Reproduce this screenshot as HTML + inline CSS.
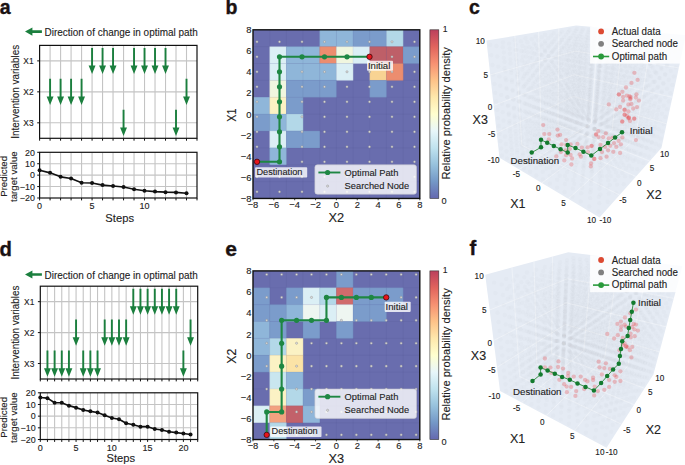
<!DOCTYPE html>
<html><head><meta charset="utf-8"><style>
html,body{margin:0;padding:0;background:#fff;}
svg{display:block;font-family:"Liberation Sans", sans-serif;}
text{stroke:#222;stroke-width:0.12px;}
.lat circle{fill:#8a8f99;fill-opacity:0.028;}
</style></head><body>
<svg width="685" height="465" viewBox="0 0 685 465" fill="#222">
<rect width="685" height="465" fill="#fff"/>
<defs><linearGradient id="cb" x1="0" y1="1" x2="0" y2="0">
<stop offset="0.0" stop-color="#313695" stop-opacity="0.75"/>
<stop offset="0.1" stop-color="#4575b4" stop-opacity="0.75"/>
<stop offset="0.2" stop-color="#74add1" stop-opacity="0.75"/>
<stop offset="0.3" stop-color="#abd9e9" stop-opacity="0.75"/>
<stop offset="0.4" stop-color="#e0f3f8" stop-opacity="0.75"/>
<stop offset="0.5" stop-color="#ffffbf" stop-opacity="0.75"/>
<stop offset="0.6" stop-color="#fee090" stop-opacity="0.75"/>
<stop offset="0.7" stop-color="#fdae61" stop-opacity="0.75"/>
<stop offset="0.8" stop-color="#f46d43" stop-opacity="0.75"/>
<stop offset="0.9" stop-color="#d73027" stop-opacity="0.75"/>
<stop offset="1.0" stop-color="#a50026" stop-opacity="0.75"/>
</linearGradient></defs>
<text x="-0.3" y="13.8" font-size="19.5" text-anchor="start" font-weight="bold" fill="#1a1212" style="stroke:#1a1212;stroke-width:0.35px">a</text>
<text x="225.5" y="13.8" font-size="19.5" text-anchor="start" font-weight="bold" fill="#1a1212" style="stroke:#1a1212;stroke-width:0.35px">b</text>
<text x="469" y="13.8" font-size="19.5" text-anchor="start" font-weight="bold" fill="#1a1212" style="stroke:#1a1212;stroke-width:0.35px">c</text>
<text x="-0.5" y="255.5" font-size="20.3" text-anchor="start" font-weight="bold" fill="#1a1212" style="stroke:#1a1212;stroke-width:0.35px">d</text>
<text x="225.3" y="255.6" font-size="21.0" text-anchor="start" font-weight="bold" fill="#1a1212" style="stroke:#1a1212;stroke-width:0.35px">e</text>
<text x="469.6" y="255.3" font-size="20.3" text-anchor="start" font-weight="bold" fill="#1a1212" style="stroke:#1a1212;stroke-width:0.35px">f</text>
<polygon points="25,31.6 32.4,27.5 32.4,30.3 41.9,30.3 41.9,32.9 32.4,32.9 32.4,35.7" fill="#1b7f3e"/>
<text x="44.6" y="36" font-size="10.9" text-anchor="start" textLength="153.23" lengthAdjust="spacingAndGlyphs">Direction of change in optimal path</text>
<line x1="50.09" y1="45.4" x2="50.09" y2="138.3" stroke="#c4c4c4" stroke-width="1.1"/>
<line x1="60.59" y1="45.4" x2="60.59" y2="138.3" stroke="#c4c4c4" stroke-width="1.1"/>
<line x1="71.08" y1="45.4" x2="71.08" y2="138.3" stroke="#c4c4c4" stroke-width="1.1"/>
<line x1="81.57" y1="45.4" x2="81.57" y2="138.3" stroke="#c4c4c4" stroke-width="1.1"/>
<line x1="92.07" y1="45.4" x2="92.07" y2="138.3" stroke="#c4c4c4" stroke-width="1.1"/>
<line x1="102.56" y1="45.4" x2="102.56" y2="138.3" stroke="#c4c4c4" stroke-width="1.1"/>
<line x1="113.05" y1="45.4" x2="113.05" y2="138.3" stroke="#c4c4c4" stroke-width="1.1"/>
<line x1="123.55" y1="45.4" x2="123.55" y2="138.3" stroke="#c4c4c4" stroke-width="1.1"/>
<line x1="134.04" y1="45.4" x2="134.04" y2="138.3" stroke="#c4c4c4" stroke-width="1.1"/>
<line x1="144.53" y1="45.4" x2="144.53" y2="138.3" stroke="#c4c4c4" stroke-width="1.1"/>
<line x1="155.03" y1="45.4" x2="155.03" y2="138.3" stroke="#c4c4c4" stroke-width="1.1"/>
<line x1="165.52" y1="45.4" x2="165.52" y2="138.3" stroke="#c4c4c4" stroke-width="1.1"/>
<line x1="176.01" y1="45.4" x2="176.01" y2="138.3" stroke="#c4c4c4" stroke-width="1.1"/>
<line x1="186.51" y1="45.4" x2="186.51" y2="138.3" stroke="#c4c4c4" stroke-width="1.1"/>
<line x1="39.6" y1="60.88" x2="197" y2="60.88" stroke="#c4c4c4" stroke-width="1.1"/>
<line x1="39.6" y1="91.85" x2="197" y2="91.85" stroke="#c4c4c4" stroke-width="1.1"/>
<line x1="39.6" y1="122.82" x2="197" y2="122.82" stroke="#c4c4c4" stroke-width="1.1"/>
<polygon points="91.12,47.88 93.02,47.88 93.02,65.48 95.52,65.48 92.07,74.08 88.62,65.48 91.12,65.48" fill="#1b7f3e"/>
<polygon points="101.61,47.88 103.51,47.88 103.51,65.48 106.01,65.48 102.56,74.08 99.11,65.48 101.61,65.48" fill="#1b7f3e"/>
<polygon points="112.1,47.88 114,47.88 114,65.48 116.5,65.48 113.05,74.08 109.6,65.48 112.1,65.48" fill="#1b7f3e"/>
<polygon points="133.09,47.88 134.99,47.88 134.99,65.48 137.49,65.48 134.04,74.08 130.59,65.48 133.09,65.48" fill="#1b7f3e"/>
<polygon points="143.58,47.88 145.48,47.88 145.48,65.48 147.98,65.48 144.53,74.08 141.08,65.48 143.58,65.48" fill="#1b7f3e"/>
<polygon points="154.08,47.88 155.98,47.88 155.98,65.48 158.48,65.48 155.03,74.08 151.58,65.48 154.08,65.48" fill="#1b7f3e"/>
<polygon points="164.57,47.88 166.47,47.88 166.47,65.48 168.97,65.48 165.52,74.08 162.07,65.48 164.57,65.48" fill="#1b7f3e"/>
<polygon points="49.14,78.85 51.04,78.85 51.04,96.45 53.54,96.45 50.09,105.05 46.64,96.45 49.14,96.45" fill="#1b7f3e"/>
<polygon points="59.64,78.85 61.54,78.85 61.54,96.45 64.04,96.45 60.59,105.05 57.14,96.45 59.64,96.45" fill="#1b7f3e"/>
<polygon points="70.13,78.85 72.03,78.85 72.03,96.45 74.53,96.45 71.08,105.05 67.63,96.45 70.13,96.45" fill="#1b7f3e"/>
<polygon points="80.62,78.85 82.52,78.85 82.52,96.45 85.02,96.45 81.57,105.05 78.12,96.45 80.62,96.45" fill="#1b7f3e"/>
<polygon points="185.56,78.85 187.46,78.85 187.46,96.45 189.96,96.45 186.51,105.05 183.06,96.45 185.56,96.45" fill="#1b7f3e"/>
<polygon points="122.6,109.82 124.5,109.82 124.5,127.42 127,127.42 123.55,136.02 120.1,127.42 122.6,127.42" fill="#1b7f3e"/>
<polygon points="175.06,109.82 176.96,109.82 176.96,127.42 179.46,127.42 176.01,136.02 172.56,127.42 175.06,127.42" fill="#1b7f3e"/>
<rect x="39.6" y="45.4" width="157.4" height="92.9" fill="none" stroke="#111" stroke-width="1.2"/>
<line x1="37.2" y1="60.88" x2="39.6" y2="60.88" stroke="#111" stroke-width="1"/>
<line x1="37.2" y1="91.85" x2="39.6" y2="91.85" stroke="#111" stroke-width="1"/>
<line x1="37.2" y1="122.82" x2="39.6" y2="122.82" stroke="#111" stroke-width="1"/>
<line x1="39.6" y1="138.3" x2="39.6" y2="140.7" stroke="#111" stroke-width="1"/>
<line x1="50.09" y1="138.3" x2="50.09" y2="140.7" stroke="#111" stroke-width="1"/>
<line x1="60.59" y1="138.3" x2="60.59" y2="140.7" stroke="#111" stroke-width="1"/>
<line x1="71.08" y1="138.3" x2="71.08" y2="140.7" stroke="#111" stroke-width="1"/>
<line x1="81.57" y1="138.3" x2="81.57" y2="140.7" stroke="#111" stroke-width="1"/>
<line x1="92.07" y1="138.3" x2="92.07" y2="140.7" stroke="#111" stroke-width="1"/>
<line x1="102.56" y1="138.3" x2="102.56" y2="140.7" stroke="#111" stroke-width="1"/>
<line x1="113.05" y1="138.3" x2="113.05" y2="140.7" stroke="#111" stroke-width="1"/>
<line x1="123.55" y1="138.3" x2="123.55" y2="140.7" stroke="#111" stroke-width="1"/>
<line x1="134.04" y1="138.3" x2="134.04" y2="140.7" stroke="#111" stroke-width="1"/>
<line x1="144.53" y1="138.3" x2="144.53" y2="140.7" stroke="#111" stroke-width="1"/>
<line x1="155.03" y1="138.3" x2="155.03" y2="140.7" stroke="#111" stroke-width="1"/>
<line x1="165.52" y1="138.3" x2="165.52" y2="140.7" stroke="#111" stroke-width="1"/>
<line x1="176.01" y1="138.3" x2="176.01" y2="140.7" stroke="#111" stroke-width="1"/>
<line x1="186.51" y1="138.3" x2="186.51" y2="140.7" stroke="#111" stroke-width="1"/>
<line x1="197" y1="138.3" x2="197" y2="140.7" stroke="#111" stroke-width="1"/>
<text x="33.6" y="63.98" font-size="9.3" text-anchor="end" textLength="10.24" lengthAdjust="spacingAndGlyphs">X1</text>
<text x="33.6" y="94.95" font-size="9.3" text-anchor="end" textLength="10.24" lengthAdjust="spacingAndGlyphs">X2</text>
<text x="33.6" y="125.92" font-size="9.3" text-anchor="end" textLength="10.24" lengthAdjust="spacingAndGlyphs">X3</text>
<text x="19" y="91.85" font-size="10.4" text-anchor="middle" textLength="93.91" lengthAdjust="spacingAndGlyphs" transform="rotate(-90 19 91.85)">Intervention variables</text>
<line x1="50.09" y1="152.3" x2="50.09" y2="198" stroke="#c4c4c4" stroke-width="1.1"/>
<line x1="60.59" y1="152.3" x2="60.59" y2="198" stroke="#c4c4c4" stroke-width="1.1"/>
<line x1="71.08" y1="152.3" x2="71.08" y2="198" stroke="#c4c4c4" stroke-width="1.1"/>
<line x1="81.57" y1="152.3" x2="81.57" y2="198" stroke="#c4c4c4" stroke-width="1.1"/>
<line x1="92.07" y1="152.3" x2="92.07" y2="198" stroke="#c4c4c4" stroke-width="1.1"/>
<line x1="102.56" y1="152.3" x2="102.56" y2="198" stroke="#c4c4c4" stroke-width="1.1"/>
<line x1="113.05" y1="152.3" x2="113.05" y2="198" stroke="#c4c4c4" stroke-width="1.1"/>
<line x1="123.55" y1="152.3" x2="123.55" y2="198" stroke="#c4c4c4" stroke-width="1.1"/>
<line x1="134.04" y1="152.3" x2="134.04" y2="198" stroke="#c4c4c4" stroke-width="1.1"/>
<line x1="144.53" y1="152.3" x2="144.53" y2="198" stroke="#c4c4c4" stroke-width="1.1"/>
<line x1="155.03" y1="152.3" x2="155.03" y2="198" stroke="#c4c4c4" stroke-width="1.1"/>
<line x1="165.52" y1="152.3" x2="165.52" y2="198" stroke="#c4c4c4" stroke-width="1.1"/>
<line x1="176.01" y1="152.3" x2="176.01" y2="198" stroke="#c4c4c4" stroke-width="1.1"/>
<line x1="186.51" y1="152.3" x2="186.51" y2="198" stroke="#c4c4c4" stroke-width="1.1"/>
<line x1="39.6" y1="163.73" x2="197" y2="163.73" stroke="#c4c4c4" stroke-width="1.1"/>
<line x1="39.6" y1="175.15" x2="197" y2="175.15" stroke="#c4c4c4" stroke-width="1.1"/>
<line x1="39.6" y1="186.57" x2="197" y2="186.57" stroke="#c4c4c4" stroke-width="1.1"/>
<polyline points="39.6,170.24 50.09,172.87 60.59,176.86 71.08,178.58 81.57,182.69 92.07,183.03 102.56,185.09 113.05,186 123.55,187.03 134.04,189.32 144.53,190.69 155.03,191.6 165.52,192.17 176.01,192.4 186.51,193.2" fill="none" stroke="#111" stroke-width="1.6" stroke-linejoin="round"/>
<circle cx="39.6" cy="170.24" r="2" fill="#111"/>
<circle cx="50.09" cy="172.87" r="2" fill="#111"/>
<circle cx="60.59" cy="176.86" r="2" fill="#111"/>
<circle cx="71.08" cy="178.58" r="2" fill="#111"/>
<circle cx="81.57" cy="182.69" r="2" fill="#111"/>
<circle cx="92.07" cy="183.03" r="2" fill="#111"/>
<circle cx="102.56" cy="185.09" r="2" fill="#111"/>
<circle cx="113.05" cy="186" r="2" fill="#111"/>
<circle cx="123.55" cy="187.03" r="2" fill="#111"/>
<circle cx="134.04" cy="189.32" r="2" fill="#111"/>
<circle cx="144.53" cy="190.69" r="2" fill="#111"/>
<circle cx="155.03" cy="191.6" r="2" fill="#111"/>
<circle cx="165.52" cy="192.17" r="2" fill="#111"/>
<circle cx="176.01" cy="192.4" r="2" fill="#111"/>
<circle cx="186.51" cy="193.2" r="2" fill="#111"/>
<rect x="39.6" y="152.3" width="157.4" height="45.7" fill="none" stroke="#111" stroke-width="1.2"/>
<line x1="37.2" y1="152.3" x2="39.6" y2="152.3" stroke="#111" stroke-width="1"/>
<text x="34.9" y="155.6" font-size="8.9" text-anchor="end">20</text>
<line x1="37.2" y1="163.73" x2="39.6" y2="163.73" stroke="#111" stroke-width="1"/>
<text x="34.9" y="167.03" font-size="8.9" text-anchor="end">10</text>
<line x1="37.2" y1="175.15" x2="39.6" y2="175.15" stroke="#111" stroke-width="1"/>
<text x="34.9" y="178.45" font-size="8.9" text-anchor="end">0</text>
<line x1="37.2" y1="186.57" x2="39.6" y2="186.57" stroke="#111" stroke-width="1"/>
<text x="34.9" y="189.88" font-size="8.9" text-anchor="end">−10</text>
<line x1="37.2" y1="198" x2="39.6" y2="198" stroke="#111" stroke-width="1"/>
<text x="34.9" y="201.3" font-size="8.9" text-anchor="end">−20</text>
<line x1="39.6" y1="198" x2="39.6" y2="200.4" stroke="#111" stroke-width="1"/>
<line x1="50.09" y1="198" x2="50.09" y2="200.4" stroke="#111" stroke-width="1"/>
<line x1="60.59" y1="198" x2="60.59" y2="200.4" stroke="#111" stroke-width="1"/>
<line x1="71.08" y1="198" x2="71.08" y2="200.4" stroke="#111" stroke-width="1"/>
<line x1="81.57" y1="198" x2="81.57" y2="200.4" stroke="#111" stroke-width="1"/>
<line x1="92.07" y1="198" x2="92.07" y2="200.4" stroke="#111" stroke-width="1"/>
<line x1="102.56" y1="198" x2="102.56" y2="200.4" stroke="#111" stroke-width="1"/>
<line x1="113.05" y1="198" x2="113.05" y2="200.4" stroke="#111" stroke-width="1"/>
<line x1="123.55" y1="198" x2="123.55" y2="200.4" stroke="#111" stroke-width="1"/>
<line x1="134.04" y1="198" x2="134.04" y2="200.4" stroke="#111" stroke-width="1"/>
<line x1="144.53" y1="198" x2="144.53" y2="200.4" stroke="#111" stroke-width="1"/>
<line x1="155.03" y1="198" x2="155.03" y2="200.4" stroke="#111" stroke-width="1"/>
<line x1="165.52" y1="198" x2="165.52" y2="200.4" stroke="#111" stroke-width="1"/>
<line x1="176.01" y1="198" x2="176.01" y2="200.4" stroke="#111" stroke-width="1"/>
<line x1="186.51" y1="198" x2="186.51" y2="200.4" stroke="#111" stroke-width="1"/>
<line x1="197" y1="198" x2="197" y2="200.4" stroke="#111" stroke-width="1"/>
<text x="39.6" y="208.6" font-size="9.0" text-anchor="middle">0</text>
<text x="92.07" y="208.6" font-size="9.0" text-anchor="middle">5</text>
<text x="144.53" y="208.6" font-size="9.0" text-anchor="middle">10</text>
<text x="119.7" y="222" font-size="11.8" text-anchor="middle" textLength="28.66" lengthAdjust="spacingAndGlyphs">Steps</text>
<text x="7.2" y="176.35" font-size="9.7" text-anchor="middle" transform="rotate(-90 7.2 176.35)">Predicted</text>
<text x="17" y="176.65" font-size="9.7" text-anchor="middle" transform="rotate(-90 17 176.65)">target value</text>
<polygon points="25,274.5 32.4,270.4 32.4,273.2 41.9,273.2 41.9,275.8 32.4,275.8 32.4,278.6" fill="#1b7f3e"/>
<text x="44.6" y="278.9" font-size="10.9" text-anchor="start" textLength="153.23" lengthAdjust="spacingAndGlyphs">Direction of change in optimal path</text>
<line x1="47.45" y1="286.2" x2="47.45" y2="379" stroke="#c4c4c4" stroke-width="1.1"/>
<line x1="54.61" y1="286.2" x2="54.61" y2="379" stroke="#c4c4c4" stroke-width="1.1"/>
<line x1="61.76" y1="286.2" x2="61.76" y2="379" stroke="#c4c4c4" stroke-width="1.1"/>
<line x1="68.92" y1="286.2" x2="68.92" y2="379" stroke="#c4c4c4" stroke-width="1.1"/>
<line x1="76.07" y1="286.2" x2="76.07" y2="379" stroke="#c4c4c4" stroke-width="1.1"/>
<line x1="83.23" y1="286.2" x2="83.23" y2="379" stroke="#c4c4c4" stroke-width="1.1"/>
<line x1="90.38" y1="286.2" x2="90.38" y2="379" stroke="#c4c4c4" stroke-width="1.1"/>
<line x1="97.54" y1="286.2" x2="97.54" y2="379" stroke="#c4c4c4" stroke-width="1.1"/>
<line x1="104.69" y1="286.2" x2="104.69" y2="379" stroke="#c4c4c4" stroke-width="1.1"/>
<line x1="111.85" y1="286.2" x2="111.85" y2="379" stroke="#c4c4c4" stroke-width="1.1"/>
<line x1="119" y1="286.2" x2="119" y2="379" stroke="#c4c4c4" stroke-width="1.1"/>
<line x1="126.15" y1="286.2" x2="126.15" y2="379" stroke="#c4c4c4" stroke-width="1.1"/>
<line x1="133.31" y1="286.2" x2="133.31" y2="379" stroke="#c4c4c4" stroke-width="1.1"/>
<line x1="140.46" y1="286.2" x2="140.46" y2="379" stroke="#c4c4c4" stroke-width="1.1"/>
<line x1="147.62" y1="286.2" x2="147.62" y2="379" stroke="#c4c4c4" stroke-width="1.1"/>
<line x1="154.77" y1="286.2" x2="154.77" y2="379" stroke="#c4c4c4" stroke-width="1.1"/>
<line x1="161.93" y1="286.2" x2="161.93" y2="379" stroke="#c4c4c4" stroke-width="1.1"/>
<line x1="169.08" y1="286.2" x2="169.08" y2="379" stroke="#c4c4c4" stroke-width="1.1"/>
<line x1="176.24" y1="286.2" x2="176.24" y2="379" stroke="#c4c4c4" stroke-width="1.1"/>
<line x1="183.39" y1="286.2" x2="183.39" y2="379" stroke="#c4c4c4" stroke-width="1.1"/>
<line x1="190.55" y1="286.2" x2="190.55" y2="379" stroke="#c4c4c4" stroke-width="1.1"/>
<line x1="40.3" y1="301.67" x2="197.7" y2="301.67" stroke="#c4c4c4" stroke-width="1.1"/>
<line x1="40.3" y1="332.6" x2="197.7" y2="332.6" stroke="#c4c4c4" stroke-width="1.1"/>
<line x1="40.3" y1="363.53" x2="197.7" y2="363.53" stroke="#c4c4c4" stroke-width="1.1"/>
<polygon points="132.36,288.67 134.26,288.67 134.26,306.27 136.76,306.27 133.31,314.87 129.86,306.27 132.36,306.27" fill="#1b7f3e"/>
<polygon points="139.51,288.67 141.41,288.67 141.41,306.27 143.91,306.27 140.46,314.87 137.01,306.27 139.51,306.27" fill="#1b7f3e"/>
<polygon points="146.67,288.67 148.57,288.67 148.57,306.27 151.07,306.27 147.62,314.87 144.17,306.27 146.67,306.27" fill="#1b7f3e"/>
<polygon points="153.82,288.67 155.72,288.67 155.72,306.27 158.22,306.27 154.77,314.87 151.32,306.27 153.82,306.27" fill="#1b7f3e"/>
<polygon points="160.98,288.67 162.88,288.67 162.88,306.27 165.38,306.27 161.93,314.87 158.48,306.27 160.98,306.27" fill="#1b7f3e"/>
<polygon points="168.13,288.67 170.03,288.67 170.03,306.27 172.53,306.27 169.08,314.87 165.63,306.27 168.13,306.27" fill="#1b7f3e"/>
<polygon points="175.29,288.67 177.19,288.67 177.19,306.27 179.69,306.27 176.24,314.87 172.79,306.27 175.29,306.27" fill="#1b7f3e"/>
<polygon points="75.12,319.6 77.02,319.6 77.02,337.2 79.52,337.2 76.07,345.8 72.62,337.2 75.12,337.2" fill="#1b7f3e"/>
<polygon points="103.74,319.6 105.64,319.6 105.64,337.2 108.14,337.2 104.69,345.8 101.24,337.2 103.74,337.2" fill="#1b7f3e"/>
<polygon points="110.9,319.6 112.8,319.6 112.8,337.2 115.3,337.2 111.85,345.8 108.4,337.2 110.9,337.2" fill="#1b7f3e"/>
<polygon points="118.05,319.6 119.95,319.6 119.95,337.2 122.45,337.2 119,345.8 115.55,337.2 118.05,337.2" fill="#1b7f3e"/>
<polygon points="125.2,319.6 127.1,319.6 127.1,337.2 129.6,337.2 126.15,345.8 122.7,337.2 125.2,337.2" fill="#1b7f3e"/>
<polygon points="189.6,319.6 191.5,319.6 191.5,337.2 194,337.2 190.55,345.8 187.1,337.2 189.6,337.2" fill="#1b7f3e"/>
<polygon points="46.5,350.53 48.4,350.53 48.4,368.13 50.9,368.13 47.45,376.73 44,368.13 46.5,368.13" fill="#1b7f3e"/>
<polygon points="53.66,350.53 55.56,350.53 55.56,368.13 58.06,368.13 54.61,376.73 51.16,368.13 53.66,368.13" fill="#1b7f3e"/>
<polygon points="60.81,350.53 62.71,350.53 62.71,368.13 65.21,368.13 61.76,376.73 58.31,368.13 60.81,368.13" fill="#1b7f3e"/>
<polygon points="67.97,350.53 69.87,350.53 69.87,368.13 72.37,368.13 68.92,376.73 65.47,368.13 67.97,368.13" fill="#1b7f3e"/>
<polygon points="82.28,350.53 84.18,350.53 84.18,368.13 86.68,368.13 83.23,376.73 79.78,368.13 82.28,368.13" fill="#1b7f3e"/>
<polygon points="89.43,350.53 91.33,350.53 91.33,368.13 93.83,368.13 90.38,376.73 86.93,368.13 89.43,368.13" fill="#1b7f3e"/>
<polygon points="96.59,350.53 98.49,350.53 98.49,368.13 100.99,368.13 97.54,376.73 94.09,368.13 96.59,368.13" fill="#1b7f3e"/>
<polygon points="182.44,350.53 184.34,350.53 184.34,368.13 186.84,368.13 183.39,376.73 179.94,368.13 182.44,368.13" fill="#1b7f3e"/>
<rect x="40.3" y="286.2" width="157.4" height="92.8" fill="none" stroke="#111" stroke-width="1.2"/>
<line x1="37.9" y1="301.67" x2="40.3" y2="301.67" stroke="#111" stroke-width="1"/>
<line x1="37.9" y1="332.6" x2="40.3" y2="332.6" stroke="#111" stroke-width="1"/>
<line x1="37.9" y1="363.53" x2="40.3" y2="363.53" stroke="#111" stroke-width="1"/>
<line x1="40.3" y1="379" x2="40.3" y2="381.4" stroke="#111" stroke-width="1"/>
<line x1="47.45" y1="379" x2="47.45" y2="381.4" stroke="#111" stroke-width="1"/>
<line x1="54.61" y1="379" x2="54.61" y2="381.4" stroke="#111" stroke-width="1"/>
<line x1="61.76" y1="379" x2="61.76" y2="381.4" stroke="#111" stroke-width="1"/>
<line x1="68.92" y1="379" x2="68.92" y2="381.4" stroke="#111" stroke-width="1"/>
<line x1="76.07" y1="379" x2="76.07" y2="381.4" stroke="#111" stroke-width="1"/>
<line x1="83.23" y1="379" x2="83.23" y2="381.4" stroke="#111" stroke-width="1"/>
<line x1="90.38" y1="379" x2="90.38" y2="381.4" stroke="#111" stroke-width="1"/>
<line x1="97.54" y1="379" x2="97.54" y2="381.4" stroke="#111" stroke-width="1"/>
<line x1="104.69" y1="379" x2="104.69" y2="381.4" stroke="#111" stroke-width="1"/>
<line x1="111.85" y1="379" x2="111.85" y2="381.4" stroke="#111" stroke-width="1"/>
<line x1="119" y1="379" x2="119" y2="381.4" stroke="#111" stroke-width="1"/>
<line x1="126.15" y1="379" x2="126.15" y2="381.4" stroke="#111" stroke-width="1"/>
<line x1="133.31" y1="379" x2="133.31" y2="381.4" stroke="#111" stroke-width="1"/>
<line x1="140.46" y1="379" x2="140.46" y2="381.4" stroke="#111" stroke-width="1"/>
<line x1="147.62" y1="379" x2="147.62" y2="381.4" stroke="#111" stroke-width="1"/>
<line x1="154.77" y1="379" x2="154.77" y2="381.4" stroke="#111" stroke-width="1"/>
<line x1="161.93" y1="379" x2="161.93" y2="381.4" stroke="#111" stroke-width="1"/>
<line x1="169.08" y1="379" x2="169.08" y2="381.4" stroke="#111" stroke-width="1"/>
<line x1="176.24" y1="379" x2="176.24" y2="381.4" stroke="#111" stroke-width="1"/>
<line x1="183.39" y1="379" x2="183.39" y2="381.4" stroke="#111" stroke-width="1"/>
<line x1="190.55" y1="379" x2="190.55" y2="381.4" stroke="#111" stroke-width="1"/>
<line x1="197.7" y1="379" x2="197.7" y2="381.4" stroke="#111" stroke-width="1"/>
<text x="34.3" y="304.77" font-size="9.3" text-anchor="end" textLength="10.24" lengthAdjust="spacingAndGlyphs">X1</text>
<text x="34.3" y="335.7" font-size="9.3" text-anchor="end" textLength="10.24" lengthAdjust="spacingAndGlyphs">X2</text>
<text x="34.3" y="366.63" font-size="9.3" text-anchor="end" textLength="10.24" lengthAdjust="spacingAndGlyphs">X3</text>
<text x="19" y="332.6" font-size="10.4" text-anchor="middle" textLength="93.91" lengthAdjust="spacingAndGlyphs" transform="rotate(-90 19 332.6)">Intervention variables</text>
<line x1="47.45" y1="392.8" x2="47.45" y2="439.5" stroke="#c4c4c4" stroke-width="1.1"/>
<line x1="54.61" y1="392.8" x2="54.61" y2="439.5" stroke="#c4c4c4" stroke-width="1.1"/>
<line x1="61.76" y1="392.8" x2="61.76" y2="439.5" stroke="#c4c4c4" stroke-width="1.1"/>
<line x1="68.92" y1="392.8" x2="68.92" y2="439.5" stroke="#c4c4c4" stroke-width="1.1"/>
<line x1="76.07" y1="392.8" x2="76.07" y2="439.5" stroke="#c4c4c4" stroke-width="1.1"/>
<line x1="83.23" y1="392.8" x2="83.23" y2="439.5" stroke="#c4c4c4" stroke-width="1.1"/>
<line x1="90.38" y1="392.8" x2="90.38" y2="439.5" stroke="#c4c4c4" stroke-width="1.1"/>
<line x1="97.54" y1="392.8" x2="97.54" y2="439.5" stroke="#c4c4c4" stroke-width="1.1"/>
<line x1="104.69" y1="392.8" x2="104.69" y2="439.5" stroke="#c4c4c4" stroke-width="1.1"/>
<line x1="111.85" y1="392.8" x2="111.85" y2="439.5" stroke="#c4c4c4" stroke-width="1.1"/>
<line x1="119" y1="392.8" x2="119" y2="439.5" stroke="#c4c4c4" stroke-width="1.1"/>
<line x1="126.15" y1="392.8" x2="126.15" y2="439.5" stroke="#c4c4c4" stroke-width="1.1"/>
<line x1="133.31" y1="392.8" x2="133.31" y2="439.5" stroke="#c4c4c4" stroke-width="1.1"/>
<line x1="140.46" y1="392.8" x2="140.46" y2="439.5" stroke="#c4c4c4" stroke-width="1.1"/>
<line x1="147.62" y1="392.8" x2="147.62" y2="439.5" stroke="#c4c4c4" stroke-width="1.1"/>
<line x1="154.77" y1="392.8" x2="154.77" y2="439.5" stroke="#c4c4c4" stroke-width="1.1"/>
<line x1="161.93" y1="392.8" x2="161.93" y2="439.5" stroke="#c4c4c4" stroke-width="1.1"/>
<line x1="169.08" y1="392.8" x2="169.08" y2="439.5" stroke="#c4c4c4" stroke-width="1.1"/>
<line x1="176.24" y1="392.8" x2="176.24" y2="439.5" stroke="#c4c4c4" stroke-width="1.1"/>
<line x1="183.39" y1="392.8" x2="183.39" y2="439.5" stroke="#c4c4c4" stroke-width="1.1"/>
<line x1="190.55" y1="392.8" x2="190.55" y2="439.5" stroke="#c4c4c4" stroke-width="1.1"/>
<line x1="40.3" y1="404.47" x2="197.7" y2="404.47" stroke="#c4c4c4" stroke-width="1.1"/>
<line x1="40.3" y1="416.15" x2="197.7" y2="416.15" stroke="#c4c4c4" stroke-width="1.1"/>
<line x1="40.3" y1="427.82" x2="197.7" y2="427.82" stroke="#c4c4c4" stroke-width="1.1"/>
<polyline points="40.3,397.47 47.45,398.17 54.61,402.72 61.76,402.72 68.92,405.64 76.07,407.63 83.23,410.08 90.38,411.36 97.54,412.53 104.69,415.16 111.85,418.02 119,419.3 126.15,423.27 133.31,424.79 140.46,426.66 147.62,426.66 154.77,428.99 161.93,429.93 169.08,431.68 176.24,432.61 183.39,433.55 190.55,434.48" fill="none" stroke="#111" stroke-width="1.6" stroke-linejoin="round"/>
<circle cx="40.3" cy="397.47" r="2" fill="#111"/>
<circle cx="47.45" cy="398.17" r="2" fill="#111"/>
<circle cx="54.61" cy="402.72" r="2" fill="#111"/>
<circle cx="61.76" cy="402.72" r="2" fill="#111"/>
<circle cx="68.92" cy="405.64" r="2" fill="#111"/>
<circle cx="76.07" cy="407.63" r="2" fill="#111"/>
<circle cx="83.23" cy="410.08" r="2" fill="#111"/>
<circle cx="90.38" cy="411.36" r="2" fill="#111"/>
<circle cx="97.54" cy="412.53" r="2" fill="#111"/>
<circle cx="104.69" cy="415.16" r="2" fill="#111"/>
<circle cx="111.85" cy="418.02" r="2" fill="#111"/>
<circle cx="119" cy="419.3" r="2" fill="#111"/>
<circle cx="126.15" cy="423.27" r="2" fill="#111"/>
<circle cx="133.31" cy="424.79" r="2" fill="#111"/>
<circle cx="140.46" cy="426.66" r="2" fill="#111"/>
<circle cx="147.62" cy="426.66" r="2" fill="#111"/>
<circle cx="154.77" cy="428.99" r="2" fill="#111"/>
<circle cx="161.93" cy="429.93" r="2" fill="#111"/>
<circle cx="169.08" cy="431.68" r="2" fill="#111"/>
<circle cx="176.24" cy="432.61" r="2" fill="#111"/>
<circle cx="183.39" cy="433.55" r="2" fill="#111"/>
<circle cx="190.55" cy="434.48" r="2" fill="#111"/>
<rect x="40.3" y="392.8" width="157.4" height="46.7" fill="none" stroke="#111" stroke-width="1.2"/>
<line x1="37.9" y1="392.8" x2="40.3" y2="392.8" stroke="#111" stroke-width="1"/>
<text x="35.6" y="396.1" font-size="8.9" text-anchor="end">20</text>
<line x1="37.9" y1="404.47" x2="40.3" y2="404.47" stroke="#111" stroke-width="1"/>
<text x="35.6" y="407.77" font-size="8.9" text-anchor="end">10</text>
<line x1="37.9" y1="416.15" x2="40.3" y2="416.15" stroke="#111" stroke-width="1"/>
<text x="35.6" y="419.45" font-size="8.9" text-anchor="end">0</text>
<line x1="37.9" y1="427.82" x2="40.3" y2="427.82" stroke="#111" stroke-width="1"/>
<text x="35.6" y="431.12" font-size="8.9" text-anchor="end">−10</text>
<line x1="37.9" y1="439.5" x2="40.3" y2="439.5" stroke="#111" stroke-width="1"/>
<text x="35.6" y="442.8" font-size="8.9" text-anchor="end">−20</text>
<line x1="40.3" y1="439.5" x2="40.3" y2="441.9" stroke="#111" stroke-width="1"/>
<line x1="47.45" y1="439.5" x2="47.45" y2="441.9" stroke="#111" stroke-width="1"/>
<line x1="54.61" y1="439.5" x2="54.61" y2="441.9" stroke="#111" stroke-width="1"/>
<line x1="61.76" y1="439.5" x2="61.76" y2="441.9" stroke="#111" stroke-width="1"/>
<line x1="68.92" y1="439.5" x2="68.92" y2="441.9" stroke="#111" stroke-width="1"/>
<line x1="76.07" y1="439.5" x2="76.07" y2="441.9" stroke="#111" stroke-width="1"/>
<line x1="83.23" y1="439.5" x2="83.23" y2="441.9" stroke="#111" stroke-width="1"/>
<line x1="90.38" y1="439.5" x2="90.38" y2="441.9" stroke="#111" stroke-width="1"/>
<line x1="97.54" y1="439.5" x2="97.54" y2="441.9" stroke="#111" stroke-width="1"/>
<line x1="104.69" y1="439.5" x2="104.69" y2="441.9" stroke="#111" stroke-width="1"/>
<line x1="111.85" y1="439.5" x2="111.85" y2="441.9" stroke="#111" stroke-width="1"/>
<line x1="119" y1="439.5" x2="119" y2="441.9" stroke="#111" stroke-width="1"/>
<line x1="126.15" y1="439.5" x2="126.15" y2="441.9" stroke="#111" stroke-width="1"/>
<line x1="133.31" y1="439.5" x2="133.31" y2="441.9" stroke="#111" stroke-width="1"/>
<line x1="140.46" y1="439.5" x2="140.46" y2="441.9" stroke="#111" stroke-width="1"/>
<line x1="147.62" y1="439.5" x2="147.62" y2="441.9" stroke="#111" stroke-width="1"/>
<line x1="154.77" y1="439.5" x2="154.77" y2="441.9" stroke="#111" stroke-width="1"/>
<line x1="161.93" y1="439.5" x2="161.93" y2="441.9" stroke="#111" stroke-width="1"/>
<line x1="169.08" y1="439.5" x2="169.08" y2="441.9" stroke="#111" stroke-width="1"/>
<line x1="176.24" y1="439.5" x2="176.24" y2="441.9" stroke="#111" stroke-width="1"/>
<line x1="183.39" y1="439.5" x2="183.39" y2="441.9" stroke="#111" stroke-width="1"/>
<line x1="190.55" y1="439.5" x2="190.55" y2="441.9" stroke="#111" stroke-width="1"/>
<line x1="197.7" y1="439.5" x2="197.7" y2="441.9" stroke="#111" stroke-width="1"/>
<text x="40.3" y="450.7" font-size="9.0" text-anchor="middle">0</text>
<text x="76.07" y="450.7" font-size="9.0" text-anchor="middle">5</text>
<text x="111.85" y="450.7" font-size="9.0" text-anchor="middle">10</text>
<text x="147.62" y="450.7" font-size="9.0" text-anchor="middle">15</text>
<text x="183.39" y="450.7" font-size="9.0" text-anchor="middle">20</text>
<text x="120.8" y="462.2" font-size="11.8" text-anchor="middle" textLength="28.66" lengthAdjust="spacingAndGlyphs">Steps</text>
<text x="7.2" y="417.35" font-size="9.7" text-anchor="middle" transform="rotate(-90 7.2 417.35)">Predicted</text>
<text x="17" y="417.65" font-size="9.7" text-anchor="middle" transform="rotate(-90 17 417.65)">target value</text>
<rect x="253" y="29.8" width="166.8" height="168.65" fill="#696dae"/>
<rect x="319.57" y="29.65" width="16.98" height="17.16" fill="#8fb6d9"/>
<rect x="336.25" y="29.65" width="16.98" height="17.16" fill="#8fb6d9"/>
<rect x="352.93" y="29.65" width="16.98" height="17.16" fill="#7b9ccb"/>
<rect x="369.61" y="29.65" width="16.98" height="17.16" fill="#7b9ccb"/>
<rect x="386.29" y="29.65" width="16.98" height="17.16" fill="#b3d8e8"/>
<rect x="269.53" y="46.52" width="16.98" height="17.16" fill="#dbeff5"/>
<rect x="286.21" y="46.52" width="16.98" height="17.16" fill="#8fb6d9"/>
<rect x="302.89" y="46.52" width="16.98" height="17.16" fill="#8fb6d9"/>
<rect x="319.57" y="46.52" width="16.98" height="17.16" fill="#ec8d6f"/>
<rect x="336.25" y="46.52" width="16.98" height="17.16" fill="#f0f6df"/>
<rect x="352.93" y="46.52" width="16.98" height="17.16" fill="#dbeff5"/>
<rect x="369.61" y="46.52" width="16.98" height="17.16" fill="#be5f68"/>
<rect x="386.29" y="46.52" width="16.98" height="17.16" fill="#be5f68"/>
<rect x="402.97" y="46.52" width="16.98" height="17.16" fill="#7b9ccb"/>
<rect x="269.53" y="63.38" width="16.98" height="17.16" fill="#dbeff5"/>
<rect x="286.21" y="63.38" width="16.98" height="17.16" fill="#8fb6d9"/>
<rect x="302.89" y="63.38" width="16.98" height="17.16" fill="#8fb6d9"/>
<rect x="319.57" y="63.38" width="16.98" height="17.16" fill="#8fb6d9"/>
<rect x="336.25" y="63.38" width="16.98" height="17.16" fill="#dbeff5"/>
<rect x="369.61" y="63.38" width="16.98" height="17.16" fill="#f8d393"/>
<rect x="386.29" y="63.38" width="16.98" height="17.16" fill="#ec8d6f"/>
<rect x="269.53" y="80.24" width="16.98" height="17.16" fill="#f0f6df"/>
<rect x="286.21" y="80.24" width="16.98" height="17.16" fill="#7b9ccb"/>
<rect x="302.89" y="80.24" width="16.98" height="17.16" fill="#7b9ccb"/>
<rect x="319.57" y="80.24" width="16.98" height="17.16" fill="#7b9ccb"/>
<rect x="369.61" y="80.24" width="16.98" height="17.16" fill="#7b9ccb"/>
<rect x="252.85" y="97.11" width="16.98" height="17.16" fill="#8fb6d9"/>
<rect x="269.53" y="97.11" width="16.98" height="17.16" fill="#fbf2c4"/>
<rect x="286.21" y="97.11" width="16.98" height="17.16" fill="#7b9ccb"/>
<rect x="252.85" y="113.97" width="16.98" height="17.16" fill="#7b9ccb"/>
<rect x="269.53" y="113.97" width="16.98" height="17.16" fill="#8fb6d9"/>
<rect x="286.21" y="113.97" width="16.98" height="17.16" fill="#b3d8e8"/>
<rect x="269.53" y="130.84" width="16.98" height="17.16" fill="#dbeff5"/>
<rect x="286.21" y="130.84" width="16.98" height="17.16" fill="#7b9ccb"/>
<rect x="302.89" y="130.84" width="16.98" height="17.16" fill="#7b9ccb"/>
<rect x="269.53" y="147.7" width="16.98" height="17.16" fill="#8fb6d9"/>
<g stroke="rgba(50,50,110,0.10)" stroke-width="0.7">
<line x1="269.68" y1="29.8" x2="269.68" y2="198.45"/>
<line x1="286.36" y1="29.8" x2="286.36" y2="198.45"/>
<line x1="303.04" y1="29.8" x2="303.04" y2="198.45"/>
<line x1="319.72" y1="29.8" x2="319.72" y2="198.45"/>
<line x1="336.4" y1="29.8" x2="336.4" y2="198.45"/>
<line x1="353.08" y1="29.8" x2="353.08" y2="198.45"/>
<line x1="369.76" y1="29.8" x2="369.76" y2="198.45"/>
<line x1="386.44" y1="29.8" x2="386.44" y2="198.45"/>
<line x1="403.12" y1="29.8" x2="403.12" y2="198.45"/>
<line x1="253" y1="46.66" x2="419.8" y2="46.66"/>
<line x1="253" y1="63.53" x2="419.8" y2="63.53"/>
<line x1="253" y1="80.39" x2="419.8" y2="80.39"/>
<line x1="253" y1="97.26" x2="419.8" y2="97.26"/>
<line x1="253" y1="114.12" x2="419.8" y2="114.12"/>
<line x1="253" y1="130.99" x2="419.8" y2="130.99"/>
<line x1="253" y1="147.85" x2="419.8" y2="147.85"/>
<line x1="253" y1="164.72" x2="419.8" y2="164.72"/>
<line x1="253" y1="181.59" x2="419.8" y2="181.59"/>
</g>
<circle cx="257" cy="41.8" r="1.1" fill="#dadada" stroke="#909090" stroke-width="0.45"/>
<circle cx="257" cy="56.8" r="1.1" fill="#dadada" stroke="#909090" stroke-width="0.45"/>
<circle cx="257" cy="71.8" r="1.1" fill="#dadada" stroke="#909090" stroke-width="0.45"/>
<circle cx="257" cy="86.8" r="1.1" fill="#dadada" stroke="#909090" stroke-width="0.45"/>
<circle cx="257" cy="101.8" r="1.1" fill="#dadada" stroke="#909090" stroke-width="0.45"/>
<circle cx="257" cy="116.8" r="1.1" fill="#dadada" stroke="#909090" stroke-width="0.45"/>
<circle cx="257" cy="131.8" r="1.1" fill="#dadada" stroke="#909090" stroke-width="0.45"/>
<circle cx="257" cy="146.8" r="1.1" fill="#dadada" stroke="#909090" stroke-width="0.45"/>
<circle cx="257" cy="161.8" r="1.1" fill="#dadada" stroke="#909090" stroke-width="0.45"/>
<circle cx="257" cy="176.8" r="1.1" fill="#dadada" stroke="#909090" stroke-width="0.45"/>
<circle cx="257" cy="191.8" r="1.1" fill="#dadada" stroke="#909090" stroke-width="0.45"/>
<circle cx="279.5" cy="41.8" r="1.1" fill="#dadada" stroke="#909090" stroke-width="0.45"/>
<circle cx="279.5" cy="56.8" r="1.1" fill="#dadada" stroke="#909090" stroke-width="0.45"/>
<circle cx="279.5" cy="71.8" r="1.1" fill="#dadada" stroke="#909090" stroke-width="0.45"/>
<circle cx="279.5" cy="86.8" r="1.1" fill="#dadada" stroke="#909090" stroke-width="0.45"/>
<circle cx="279.5" cy="101.8" r="1.1" fill="#dadada" stroke="#909090" stroke-width="0.45"/>
<circle cx="279.5" cy="116.8" r="1.1" fill="#dadada" stroke="#909090" stroke-width="0.45"/>
<circle cx="279.5" cy="131.8" r="1.1" fill="#dadada" stroke="#909090" stroke-width="0.45"/>
<circle cx="279.5" cy="146.8" r="1.1" fill="#dadada" stroke="#909090" stroke-width="0.45"/>
<circle cx="279.5" cy="161.8" r="1.1" fill="#dadada" stroke="#909090" stroke-width="0.45"/>
<circle cx="279.5" cy="176.8" r="1.1" fill="#dadada" stroke="#909090" stroke-width="0.45"/>
<circle cx="279.5" cy="191.8" r="1.1" fill="#dadada" stroke="#909090" stroke-width="0.45"/>
<circle cx="302" cy="41.8" r="1.1" fill="#dadada" stroke="#909090" stroke-width="0.45"/>
<circle cx="302" cy="56.8" r="1.1" fill="#dadada" stroke="#909090" stroke-width="0.45"/>
<circle cx="302" cy="71.8" r="1.1" fill="#dadada" stroke="#909090" stroke-width="0.45"/>
<circle cx="302" cy="86.8" r="1.1" fill="#dadada" stroke="#909090" stroke-width="0.45"/>
<circle cx="302" cy="101.8" r="1.1" fill="#dadada" stroke="#909090" stroke-width="0.45"/>
<circle cx="302" cy="116.8" r="1.1" fill="#dadada" stroke="#909090" stroke-width="0.45"/>
<circle cx="302" cy="131.8" r="1.1" fill="#dadada" stroke="#909090" stroke-width="0.45"/>
<circle cx="302" cy="146.8" r="1.1" fill="#dadada" stroke="#909090" stroke-width="0.45"/>
<circle cx="302" cy="161.8" r="1.1" fill="#dadada" stroke="#909090" stroke-width="0.45"/>
<circle cx="302" cy="176.8" r="1.1" fill="#dadada" stroke="#909090" stroke-width="0.45"/>
<circle cx="302" cy="191.8" r="1.1" fill="#dadada" stroke="#909090" stroke-width="0.45"/>
<circle cx="324.5" cy="41.8" r="1.1" fill="#dadada" stroke="#909090" stroke-width="0.45"/>
<circle cx="324.5" cy="56.8" r="1.1" fill="#dadada" stroke="#909090" stroke-width="0.45"/>
<circle cx="324.5" cy="71.8" r="1.1" fill="#dadada" stroke="#909090" stroke-width="0.45"/>
<circle cx="324.5" cy="86.8" r="1.1" fill="#dadada" stroke="#909090" stroke-width="0.45"/>
<circle cx="324.5" cy="101.8" r="1.1" fill="#dadada" stroke="#909090" stroke-width="0.45"/>
<circle cx="324.5" cy="116.8" r="1.1" fill="#dadada" stroke="#909090" stroke-width="0.45"/>
<circle cx="324.5" cy="131.8" r="1.1" fill="#dadada" stroke="#909090" stroke-width="0.45"/>
<circle cx="324.5" cy="146.8" r="1.1" fill="#dadada" stroke="#909090" stroke-width="0.45"/>
<circle cx="324.5" cy="161.8" r="1.1" fill="#dadada" stroke="#909090" stroke-width="0.45"/>
<circle cx="324.5" cy="176.8" r="1.1" fill="#dadada" stroke="#909090" stroke-width="0.45"/>
<circle cx="324.5" cy="191.8" r="1.1" fill="#dadada" stroke="#909090" stroke-width="0.45"/>
<circle cx="347" cy="41.8" r="1.1" fill="#dadada" stroke="#909090" stroke-width="0.45"/>
<circle cx="347" cy="56.8" r="1.1" fill="#dadada" stroke="#909090" stroke-width="0.45"/>
<circle cx="347" cy="71.8" r="1.1" fill="#dadada" stroke="#909090" stroke-width="0.45"/>
<circle cx="347" cy="86.8" r="1.1" fill="#dadada" stroke="#909090" stroke-width="0.45"/>
<circle cx="347" cy="101.8" r="1.1" fill="#dadada" stroke="#909090" stroke-width="0.45"/>
<circle cx="347" cy="116.8" r="1.1" fill="#dadada" stroke="#909090" stroke-width="0.45"/>
<circle cx="347" cy="131.8" r="1.1" fill="#dadada" stroke="#909090" stroke-width="0.45"/>
<circle cx="347" cy="146.8" r="1.1" fill="#dadada" stroke="#909090" stroke-width="0.45"/>
<circle cx="347" cy="161.8" r="1.1" fill="#dadada" stroke="#909090" stroke-width="0.45"/>
<circle cx="347" cy="176.8" r="1.1" fill="#dadada" stroke="#909090" stroke-width="0.45"/>
<circle cx="347" cy="191.8" r="1.1" fill="#dadada" stroke="#909090" stroke-width="0.45"/>
<circle cx="369.5" cy="41.8" r="1.1" fill="#dadada" stroke="#909090" stroke-width="0.45"/>
<circle cx="369.5" cy="56.8" r="1.1" fill="#dadada" stroke="#909090" stroke-width="0.45"/>
<circle cx="369.5" cy="71.8" r="1.1" fill="#dadada" stroke="#909090" stroke-width="0.45"/>
<circle cx="369.5" cy="86.8" r="1.1" fill="#dadada" stroke="#909090" stroke-width="0.45"/>
<circle cx="369.5" cy="101.8" r="1.1" fill="#dadada" stroke="#909090" stroke-width="0.45"/>
<circle cx="369.5" cy="116.8" r="1.1" fill="#dadada" stroke="#909090" stroke-width="0.45"/>
<circle cx="369.5" cy="131.8" r="1.1" fill="#dadada" stroke="#909090" stroke-width="0.45"/>
<circle cx="369.5" cy="146.8" r="1.1" fill="#dadada" stroke="#909090" stroke-width="0.45"/>
<circle cx="369.5" cy="161.8" r="1.1" fill="#dadada" stroke="#909090" stroke-width="0.45"/>
<circle cx="369.5" cy="176.8" r="1.1" fill="#dadada" stroke="#909090" stroke-width="0.45"/>
<circle cx="369.5" cy="191.8" r="1.1" fill="#dadada" stroke="#909090" stroke-width="0.45"/>
<circle cx="392" cy="41.8" r="1.1" fill="#dadada" stroke="#909090" stroke-width="0.45"/>
<circle cx="392" cy="56.8" r="1.1" fill="#dadada" stroke="#909090" stroke-width="0.45"/>
<circle cx="392" cy="71.8" r="1.1" fill="#dadada" stroke="#909090" stroke-width="0.45"/>
<circle cx="392" cy="86.8" r="1.1" fill="#dadada" stroke="#909090" stroke-width="0.45"/>
<circle cx="392" cy="101.8" r="1.1" fill="#dadada" stroke="#909090" stroke-width="0.45"/>
<circle cx="392" cy="116.8" r="1.1" fill="#dadada" stroke="#909090" stroke-width="0.45"/>
<circle cx="392" cy="131.8" r="1.1" fill="#dadada" stroke="#909090" stroke-width="0.45"/>
<circle cx="392" cy="146.8" r="1.1" fill="#dadada" stroke="#909090" stroke-width="0.45"/>
<circle cx="392" cy="161.8" r="1.1" fill="#dadada" stroke="#909090" stroke-width="0.45"/>
<circle cx="392" cy="176.8" r="1.1" fill="#dadada" stroke="#909090" stroke-width="0.45"/>
<circle cx="392" cy="191.8" r="1.1" fill="#dadada" stroke="#909090" stroke-width="0.45"/>
<circle cx="414.5" cy="41.8" r="1.1" fill="#dadada" stroke="#909090" stroke-width="0.45"/>
<circle cx="414.5" cy="56.8" r="1.1" fill="#dadada" stroke="#909090" stroke-width="0.45"/>
<circle cx="414.5" cy="71.8" r="1.1" fill="#dadada" stroke="#909090" stroke-width="0.45"/>
<circle cx="414.5" cy="86.8" r="1.1" fill="#dadada" stroke="#909090" stroke-width="0.45"/>
<circle cx="414.5" cy="101.8" r="1.1" fill="#dadada" stroke="#909090" stroke-width="0.45"/>
<circle cx="414.5" cy="116.8" r="1.1" fill="#dadada" stroke="#909090" stroke-width="0.45"/>
<circle cx="414.5" cy="131.8" r="1.1" fill="#dadada" stroke="#909090" stroke-width="0.45"/>
<circle cx="414.5" cy="146.8" r="1.1" fill="#dadada" stroke="#909090" stroke-width="0.45"/>
<circle cx="414.5" cy="161.8" r="1.1" fill="#dadada" stroke="#909090" stroke-width="0.45"/>
<circle cx="414.5" cy="176.8" r="1.1" fill="#dadada" stroke="#909090" stroke-width="0.45"/>
<circle cx="414.5" cy="191.8" r="1.1" fill="#dadada" stroke="#909090" stroke-width="0.45"/>
<polyline points="369.5,56.8 347,56.8 324.5,56.8 302,56.8 279.5,56.8 279.5,71.8 279.5,86.8 279.5,101.8 279.5,116.8 279.5,131.8 279.5,146.8 279.5,161.8 257,161.8" fill="none" stroke="#1e8743" stroke-width="2.1"/>
<circle cx="347" cy="56.8" r="2.6" fill="#1e8743"/>
<circle cx="324.5" cy="56.8" r="2.6" fill="#1e8743"/>
<circle cx="302" cy="56.8" r="2.6" fill="#1e8743"/>
<circle cx="279.5" cy="56.8" r="2.6" fill="#1e8743"/>
<circle cx="279.5" cy="71.8" r="2.6" fill="#1e8743"/>
<circle cx="279.5" cy="86.8" r="2.6" fill="#1e8743"/>
<circle cx="279.5" cy="101.8" r="2.6" fill="#1e8743"/>
<circle cx="279.5" cy="116.8" r="2.6" fill="#1e8743"/>
<circle cx="279.5" cy="131.8" r="2.6" fill="#1e8743"/>
<circle cx="279.5" cy="146.8" r="2.6" fill="#1e8743"/>
<circle cx="279.5" cy="161.8" r="2.6" fill="#1e8743"/>
<circle cx="369.5" cy="56.8" r="2.7" fill="#e8141c" stroke="#3a0a0a" stroke-width="0.8"/>
<circle cx="257" cy="161.8" r="2.7" fill="#e8141c" stroke="#3a0a0a" stroke-width="0.8"/>
<rect x="255.1" y="167.2" width="52.1" height="10.3" fill="rgba(255,255,255,0.8)" rx="0.8"/>
<text x="256.4" y="174.9" font-size="9.2" text-anchor="start" textLength="46.03" lengthAdjust="spacingAndGlyphs">Destination</text>
<rect x="367" y="60.8" width="26" height="9.9" fill="rgba(255,255,255,0.8)" rx="0.8"/>
<text x="367.9" y="68.8" font-size="9.9" text-anchor="start" textLength="22.41" lengthAdjust="spacingAndGlyphs">Initial</text>
<rect x="314.9" y="164.8" width="101.6" height="29.4" fill="rgba(255,255,255,0.8)" rx="2.5" stroke="#c8c8d0" stroke-width="0.6"/>
<line x1="318.4" y1="172.5" x2="340.4" y2="172.5" stroke="#1e8743" stroke-width="1.9"/>
<circle cx="327.6" cy="172.5" r="2.6" fill="#1e8743"/>
<circle cx="327.6" cy="186.1" r="1.1" fill="#dadada" stroke="#909090" stroke-width="0.45"/>
<text x="344.6" y="175.8" font-size="9.3" text-anchor="start">Optimal Path</text>
<text x="344.6" y="189" font-size="9.3" text-anchor="start">Searched Node</text>
<rect x="253" y="29.8" width="166.8" height="168.65" fill="none" stroke="#111" stroke-width="1.4"/>
<line x1="253" y1="198.45" x2="253" y2="200.25" stroke="#111" stroke-width="0.8"/>
<text x="253" y="208.05" font-size="9.4" text-anchor="middle">−8</text>
<text x="251.5" y="201.85" font-size="9.4" text-anchor="end">−8</text>
<line x1="273.85" y1="198.45" x2="273.85" y2="200.25" stroke="#111" stroke-width="0.8"/>
<text x="273.85" y="208.05" font-size="9.4" text-anchor="middle">−6</text>
<text x="251.5" y="180.77" font-size="9.4" text-anchor="end">−6</text>
<line x1="294.7" y1="198.45" x2="294.7" y2="200.25" stroke="#111" stroke-width="0.8"/>
<text x="294.7" y="208.05" font-size="9.4" text-anchor="middle">−4</text>
<text x="251.5" y="159.69" font-size="9.4" text-anchor="end">−4</text>
<line x1="315.55" y1="198.45" x2="315.55" y2="200.25" stroke="#111" stroke-width="0.8"/>
<text x="315.55" y="208.05" font-size="9.4" text-anchor="middle">−2</text>
<text x="251.5" y="138.61" font-size="9.4" text-anchor="end">−2</text>
<line x1="336.4" y1="198.45" x2="336.4" y2="200.25" stroke="#111" stroke-width="0.8"/>
<text x="336.4" y="208.05" font-size="9.4" text-anchor="middle">0</text>
<text x="251.5" y="117.53" font-size="9.4" text-anchor="end">0</text>
<line x1="357.25" y1="198.45" x2="357.25" y2="200.25" stroke="#111" stroke-width="0.8"/>
<text x="357.25" y="208.05" font-size="9.4" text-anchor="middle">2</text>
<text x="251.5" y="96.44" font-size="9.4" text-anchor="end">2</text>
<line x1="378.1" y1="198.45" x2="378.1" y2="200.25" stroke="#111" stroke-width="0.8"/>
<text x="378.1" y="208.05" font-size="9.4" text-anchor="middle">4</text>
<text x="251.5" y="75.36" font-size="9.4" text-anchor="end">4</text>
<line x1="398.95" y1="198.45" x2="398.95" y2="200.25" stroke="#111" stroke-width="0.8"/>
<text x="398.95" y="208.05" font-size="9.4" text-anchor="middle">6</text>
<text x="251.5" y="54.28" font-size="9.4" text-anchor="end">6</text>
<line x1="419.8" y1="198.45" x2="419.8" y2="200.25" stroke="#111" stroke-width="0.8"/>
<text x="419.8" y="208.05" font-size="9.4" text-anchor="middle">8</text>
<text x="251.5" y="33.2" font-size="9.4" text-anchor="end">8</text>
<text x="336.4" y="221.95" font-size="12.8" text-anchor="middle">X2</text>
<text x="235.9" y="115.12" font-size="12.8" text-anchor="middle" textLength="13.3" lengthAdjust="spacingAndGlyphs" transform="rotate(-90 235.9 115.12)">X1</text>
<rect x="429.9" y="29.8" width="8.9" height="168.65" fill="url(#cb)" stroke="#333" stroke-width="0.6"/>
<text x="442.8" y="32.2" font-size="8.6" text-anchor="start">1</text>
<text x="441.6" y="203.85" font-size="9.2" text-anchor="start">0</text>
<text x="450" y="113.33" font-size="11.3" text-anchor="middle" textLength="132.39" lengthAdjust="spacingAndGlyphs" transform="rotate(-90 450 113.33)">Relative probability density</text>
<rect x="253" y="270.9" width="166.8" height="168.65" fill="#696dae"/>
<rect x="336.25" y="270.75" width="16.98" height="17.16" fill="#7b9ccb"/>
<rect x="252.85" y="287.62" width="16.98" height="17.16" fill="#7b9ccb"/>
<rect x="286.21" y="287.62" width="16.98" height="17.16" fill="#7b9ccb"/>
<rect x="302.89" y="287.62" width="16.98" height="17.16" fill="#dbeff5"/>
<rect x="319.57" y="287.62" width="16.98" height="17.16" fill="#b3d8e8"/>
<rect x="336.25" y="287.62" width="16.98" height="17.16" fill="#d06b6c"/>
<rect x="352.93" y="287.62" width="16.98" height="17.16" fill="#7b9ccb"/>
<rect x="369.61" y="287.62" width="16.98" height="17.16" fill="#7b9ccb"/>
<rect x="386.29" y="287.62" width="16.98" height="17.16" fill="#7b9ccb"/>
<rect x="252.85" y="304.48" width="16.98" height="17.16" fill="#7b9ccb"/>
<rect x="269.53" y="304.48" width="16.98" height="17.16" fill="#7b9ccb"/>
<rect x="286.21" y="304.48" width="16.98" height="17.16" fill="#8fb6d9"/>
<rect x="302.89" y="304.48" width="16.98" height="17.16" fill="#eef6f1"/>
<rect x="319.57" y="304.48" width="16.98" height="17.16" fill="#dbeff5"/>
<rect x="336.25" y="304.48" width="16.98" height="17.16" fill="#eef6f1"/>
<rect x="352.93" y="304.48" width="16.98" height="17.16" fill="#7b9ccb"/>
<rect x="369.61" y="304.48" width="16.98" height="17.16" fill="#7b9ccb"/>
<rect x="252.85" y="321.35" width="16.98" height="17.16" fill="#8fb6d9"/>
<rect x="269.53" y="321.35" width="16.98" height="17.16" fill="#7b9ccb"/>
<rect x="302.89" y="321.35" width="16.98" height="17.16" fill="#7b9ccb"/>
<rect x="336.25" y="321.35" width="16.98" height="17.16" fill="#7b9ccb"/>
<rect x="252.85" y="338.21" width="16.98" height="17.16" fill="#8fb6d9"/>
<rect x="269.53" y="338.21" width="16.98" height="17.16" fill="#b3d8e8"/>
<rect x="286.21" y="338.21" width="16.98" height="17.16" fill="#fbf2c4"/>
<rect x="252.85" y="355.07" width="16.98" height="17.16" fill="#7b9ccb"/>
<rect x="269.53" y="355.07" width="16.98" height="17.16" fill="#fbf2c4"/>
<rect x="286.21" y="355.07" width="16.98" height="17.16" fill="#fbe3a6"/>
<rect x="269.53" y="371.94" width="16.98" height="17.16" fill="#c9e6ef"/>
<rect x="286.21" y="371.94" width="16.98" height="17.16" fill="#8fb6d9"/>
<rect x="269.53" y="388.81" width="16.98" height="17.16" fill="#fbf2c4"/>
<rect x="286.21" y="388.81" width="16.98" height="17.16" fill="#b3d8e8"/>
<rect x="302.89" y="388.81" width="16.98" height="17.16" fill="#7b9ccb"/>
<rect x="252.85" y="405.67" width="16.98" height="17.16" fill="#dbeff5"/>
<rect x="269.53" y="405.67" width="16.98" height="17.16" fill="#f2a27f"/>
<rect x="286.21" y="405.67" width="16.98" height="17.16" fill="#c2616a"/>
<rect x="302.89" y="405.67" width="16.98" height="17.16" fill="#8fb6d9"/>
<rect x="269.53" y="422.53" width="16.98" height="17.16" fill="#b3d8e8"/>
<g stroke="rgba(50,50,110,0.10)" stroke-width="0.7">
<line x1="269.68" y1="270.9" x2="269.68" y2="439.55"/>
<line x1="286.36" y1="270.9" x2="286.36" y2="439.55"/>
<line x1="303.04" y1="270.9" x2="303.04" y2="439.55"/>
<line x1="319.72" y1="270.9" x2="319.72" y2="439.55"/>
<line x1="336.4" y1="270.9" x2="336.4" y2="439.55"/>
<line x1="353.08" y1="270.9" x2="353.08" y2="439.55"/>
<line x1="369.76" y1="270.9" x2="369.76" y2="439.55"/>
<line x1="386.44" y1="270.9" x2="386.44" y2="439.55"/>
<line x1="403.12" y1="270.9" x2="403.12" y2="439.55"/>
<line x1="253" y1="287.76" x2="419.8" y2="287.76"/>
<line x1="253" y1="304.63" x2="419.8" y2="304.63"/>
<line x1="253" y1="321.5" x2="419.8" y2="321.5"/>
<line x1="253" y1="338.36" x2="419.8" y2="338.36"/>
<line x1="253" y1="355.22" x2="419.8" y2="355.22"/>
<line x1="253" y1="372.09" x2="419.8" y2="372.09"/>
<line x1="253" y1="388.95" x2="419.8" y2="388.95"/>
<line x1="253" y1="405.82" x2="419.8" y2="405.82"/>
<line x1="253" y1="422.68" x2="419.8" y2="422.68"/>
</g>
<circle cx="266.7" cy="274.5" r="1.1" fill="#dadada" stroke="#909090" stroke-width="0.45"/>
<circle cx="266.7" cy="297.41" r="1.1" fill="#dadada" stroke="#909090" stroke-width="0.45"/>
<circle cx="266.7" cy="320.32" r="1.1" fill="#dadada" stroke="#909090" stroke-width="0.45"/>
<circle cx="266.7" cy="343.23" r="1.1" fill="#dadada" stroke="#909090" stroke-width="0.45"/>
<circle cx="266.7" cy="366.14" r="1.1" fill="#dadada" stroke="#909090" stroke-width="0.45"/>
<circle cx="266.7" cy="389.05" r="1.1" fill="#dadada" stroke="#909090" stroke-width="0.45"/>
<circle cx="266.7" cy="411.96" r="1.1" fill="#dadada" stroke="#909090" stroke-width="0.45"/>
<circle cx="266.7" cy="434.87" r="1.1" fill="#dadada" stroke="#909090" stroke-width="0.45"/>
<circle cx="281.64" cy="274.5" r="1.1" fill="#dadada" stroke="#909090" stroke-width="0.45"/>
<circle cx="281.64" cy="297.41" r="1.1" fill="#dadada" stroke="#909090" stroke-width="0.45"/>
<circle cx="281.64" cy="320.32" r="1.1" fill="#dadada" stroke="#909090" stroke-width="0.45"/>
<circle cx="281.64" cy="343.23" r="1.1" fill="#dadada" stroke="#909090" stroke-width="0.45"/>
<circle cx="281.64" cy="366.14" r="1.1" fill="#dadada" stroke="#909090" stroke-width="0.45"/>
<circle cx="281.64" cy="389.05" r="1.1" fill="#dadada" stroke="#909090" stroke-width="0.45"/>
<circle cx="281.64" cy="411.96" r="1.1" fill="#dadada" stroke="#909090" stroke-width="0.45"/>
<circle cx="281.64" cy="434.87" r="1.1" fill="#dadada" stroke="#909090" stroke-width="0.45"/>
<circle cx="296.58" cy="274.5" r="1.1" fill="#dadada" stroke="#909090" stroke-width="0.45"/>
<circle cx="296.58" cy="297.41" r="1.1" fill="#dadada" stroke="#909090" stroke-width="0.45"/>
<circle cx="296.58" cy="320.32" r="1.1" fill="#dadada" stroke="#909090" stroke-width="0.45"/>
<circle cx="296.58" cy="343.23" r="1.1" fill="#dadada" stroke="#909090" stroke-width="0.45"/>
<circle cx="296.58" cy="366.14" r="1.1" fill="#dadada" stroke="#909090" stroke-width="0.45"/>
<circle cx="296.58" cy="389.05" r="1.1" fill="#dadada" stroke="#909090" stroke-width="0.45"/>
<circle cx="296.58" cy="411.96" r="1.1" fill="#dadada" stroke="#909090" stroke-width="0.45"/>
<circle cx="296.58" cy="434.87" r="1.1" fill="#dadada" stroke="#909090" stroke-width="0.45"/>
<circle cx="311.52" cy="274.5" r="1.1" fill="#dadada" stroke="#909090" stroke-width="0.45"/>
<circle cx="311.52" cy="297.41" r="1.1" fill="#dadada" stroke="#909090" stroke-width="0.45"/>
<circle cx="311.52" cy="320.32" r="1.1" fill="#dadada" stroke="#909090" stroke-width="0.45"/>
<circle cx="311.52" cy="343.23" r="1.1" fill="#dadada" stroke="#909090" stroke-width="0.45"/>
<circle cx="311.52" cy="366.14" r="1.1" fill="#dadada" stroke="#909090" stroke-width="0.45"/>
<circle cx="311.52" cy="389.05" r="1.1" fill="#dadada" stroke="#909090" stroke-width="0.45"/>
<circle cx="311.52" cy="411.96" r="1.1" fill="#dadada" stroke="#909090" stroke-width="0.45"/>
<circle cx="311.52" cy="434.87" r="1.1" fill="#dadada" stroke="#909090" stroke-width="0.45"/>
<circle cx="326.46" cy="274.5" r="1.1" fill="#dadada" stroke="#909090" stroke-width="0.45"/>
<circle cx="326.46" cy="297.41" r="1.1" fill="#dadada" stroke="#909090" stroke-width="0.45"/>
<circle cx="326.46" cy="320.32" r="1.1" fill="#dadada" stroke="#909090" stroke-width="0.45"/>
<circle cx="326.46" cy="343.23" r="1.1" fill="#dadada" stroke="#909090" stroke-width="0.45"/>
<circle cx="326.46" cy="366.14" r="1.1" fill="#dadada" stroke="#909090" stroke-width="0.45"/>
<circle cx="326.46" cy="389.05" r="1.1" fill="#dadada" stroke="#909090" stroke-width="0.45"/>
<circle cx="326.46" cy="411.96" r="1.1" fill="#dadada" stroke="#909090" stroke-width="0.45"/>
<circle cx="326.46" cy="434.87" r="1.1" fill="#dadada" stroke="#909090" stroke-width="0.45"/>
<circle cx="341.4" cy="274.5" r="1.1" fill="#dadada" stroke="#909090" stroke-width="0.45"/>
<circle cx="341.4" cy="297.41" r="1.1" fill="#dadada" stroke="#909090" stroke-width="0.45"/>
<circle cx="341.4" cy="320.32" r="1.1" fill="#dadada" stroke="#909090" stroke-width="0.45"/>
<circle cx="341.4" cy="343.23" r="1.1" fill="#dadada" stroke="#909090" stroke-width="0.45"/>
<circle cx="341.4" cy="366.14" r="1.1" fill="#dadada" stroke="#909090" stroke-width="0.45"/>
<circle cx="341.4" cy="389.05" r="1.1" fill="#dadada" stroke="#909090" stroke-width="0.45"/>
<circle cx="341.4" cy="411.96" r="1.1" fill="#dadada" stroke="#909090" stroke-width="0.45"/>
<circle cx="341.4" cy="434.87" r="1.1" fill="#dadada" stroke="#909090" stroke-width="0.45"/>
<circle cx="356.34" cy="274.5" r="1.1" fill="#dadada" stroke="#909090" stroke-width="0.45"/>
<circle cx="356.34" cy="297.41" r="1.1" fill="#dadada" stroke="#909090" stroke-width="0.45"/>
<circle cx="356.34" cy="320.32" r="1.1" fill="#dadada" stroke="#909090" stroke-width="0.45"/>
<circle cx="356.34" cy="343.23" r="1.1" fill="#dadada" stroke="#909090" stroke-width="0.45"/>
<circle cx="356.34" cy="366.14" r="1.1" fill="#dadada" stroke="#909090" stroke-width="0.45"/>
<circle cx="356.34" cy="389.05" r="1.1" fill="#dadada" stroke="#909090" stroke-width="0.45"/>
<circle cx="356.34" cy="411.96" r="1.1" fill="#dadada" stroke="#909090" stroke-width="0.45"/>
<circle cx="356.34" cy="434.87" r="1.1" fill="#dadada" stroke="#909090" stroke-width="0.45"/>
<circle cx="371.28" cy="274.5" r="1.1" fill="#dadada" stroke="#909090" stroke-width="0.45"/>
<circle cx="371.28" cy="297.41" r="1.1" fill="#dadada" stroke="#909090" stroke-width="0.45"/>
<circle cx="371.28" cy="320.32" r="1.1" fill="#dadada" stroke="#909090" stroke-width="0.45"/>
<circle cx="371.28" cy="343.23" r="1.1" fill="#dadada" stroke="#909090" stroke-width="0.45"/>
<circle cx="371.28" cy="366.14" r="1.1" fill="#dadada" stroke="#909090" stroke-width="0.45"/>
<circle cx="371.28" cy="389.05" r="1.1" fill="#dadada" stroke="#909090" stroke-width="0.45"/>
<circle cx="371.28" cy="411.96" r="1.1" fill="#dadada" stroke="#909090" stroke-width="0.45"/>
<circle cx="371.28" cy="434.87" r="1.1" fill="#dadada" stroke="#909090" stroke-width="0.45"/>
<circle cx="386.22" cy="274.5" r="1.1" fill="#dadada" stroke="#909090" stroke-width="0.45"/>
<circle cx="386.22" cy="297.41" r="1.1" fill="#dadada" stroke="#909090" stroke-width="0.45"/>
<circle cx="386.22" cy="320.32" r="1.1" fill="#dadada" stroke="#909090" stroke-width="0.45"/>
<circle cx="386.22" cy="343.23" r="1.1" fill="#dadada" stroke="#909090" stroke-width="0.45"/>
<circle cx="386.22" cy="366.14" r="1.1" fill="#dadada" stroke="#909090" stroke-width="0.45"/>
<circle cx="386.22" cy="389.05" r="1.1" fill="#dadada" stroke="#909090" stroke-width="0.45"/>
<circle cx="386.22" cy="411.96" r="1.1" fill="#dadada" stroke="#909090" stroke-width="0.45"/>
<circle cx="386.22" cy="434.87" r="1.1" fill="#dadada" stroke="#909090" stroke-width="0.45"/>
<circle cx="401.16" cy="274.5" r="1.1" fill="#dadada" stroke="#909090" stroke-width="0.45"/>
<circle cx="401.16" cy="297.41" r="1.1" fill="#dadada" stroke="#909090" stroke-width="0.45"/>
<circle cx="401.16" cy="320.32" r="1.1" fill="#dadada" stroke="#909090" stroke-width="0.45"/>
<circle cx="401.16" cy="343.23" r="1.1" fill="#dadada" stroke="#909090" stroke-width="0.45"/>
<circle cx="401.16" cy="366.14" r="1.1" fill="#dadada" stroke="#909090" stroke-width="0.45"/>
<circle cx="401.16" cy="389.05" r="1.1" fill="#dadada" stroke="#909090" stroke-width="0.45"/>
<circle cx="401.16" cy="411.96" r="1.1" fill="#dadada" stroke="#909090" stroke-width="0.45"/>
<circle cx="401.16" cy="434.87" r="1.1" fill="#dadada" stroke="#909090" stroke-width="0.45"/>
<circle cx="416.1" cy="274.5" r="1.1" fill="#dadada" stroke="#909090" stroke-width="0.45"/>
<circle cx="416.1" cy="297.41" r="1.1" fill="#dadada" stroke="#909090" stroke-width="0.45"/>
<circle cx="416.1" cy="320.32" r="1.1" fill="#dadada" stroke="#909090" stroke-width="0.45"/>
<circle cx="416.1" cy="343.23" r="1.1" fill="#dadada" stroke="#909090" stroke-width="0.45"/>
<circle cx="416.1" cy="366.14" r="1.1" fill="#dadada" stroke="#909090" stroke-width="0.45"/>
<circle cx="416.1" cy="389.05" r="1.1" fill="#dadada" stroke="#909090" stroke-width="0.45"/>
<circle cx="416.1" cy="411.96" r="1.1" fill="#dadada" stroke="#909090" stroke-width="0.45"/>
<circle cx="416.1" cy="434.87" r="1.1" fill="#dadada" stroke="#909090" stroke-width="0.45"/>
<polyline points="386.22,297.41 371.28,297.41 356.34,297.41 341.4,297.41 326.46,297.41 326.46,320.32 311.52,320.32 296.58,320.32 281.64,320.32 281.64,343.23 281.64,366.14 281.64,389.05 281.64,411.96 266.7,411.96 266.7,434.87" fill="none" stroke="#1e8743" stroke-width="2.1"/>
<circle cx="371.28" cy="297.41" r="2.6" fill="#1e8743"/>
<circle cx="356.34" cy="297.41" r="2.6" fill="#1e8743"/>
<circle cx="341.4" cy="297.41" r="2.6" fill="#1e8743"/>
<circle cx="326.46" cy="297.41" r="2.6" fill="#1e8743"/>
<circle cx="326.46" cy="320.32" r="2.6" fill="#1e8743"/>
<circle cx="311.52" cy="320.32" r="2.6" fill="#1e8743"/>
<circle cx="296.58" cy="320.32" r="2.6" fill="#1e8743"/>
<circle cx="281.64" cy="320.32" r="2.6" fill="#1e8743"/>
<circle cx="281.64" cy="343.23" r="2.6" fill="#1e8743"/>
<circle cx="281.64" cy="366.14" r="2.6" fill="#1e8743"/>
<circle cx="281.64" cy="389.05" r="2.6" fill="#1e8743"/>
<circle cx="281.64" cy="411.96" r="2.6" fill="#1e8743"/>
<circle cx="266.7" cy="411.96" r="2.6" fill="#1e8743"/>
<circle cx="386.22" cy="297.41" r="2.7" fill="#e8141c" stroke="#3a0a0a" stroke-width="0.8"/>
<circle cx="266.7" cy="434.87" r="2.7" fill="#e8141c" stroke="#3a0a0a" stroke-width="0.8"/>
<rect x="270.3" y="426.6" width="51.2" height="10.4" fill="rgba(255,255,255,0.8)" rx="0.8"/>
<text x="271.6" y="434.3" font-size="9.2" text-anchor="start" textLength="46.03" lengthAdjust="spacingAndGlyphs">Destination</text>
<rect x="384.7" y="301.7" width="26" height="10.2" fill="rgba(255,255,255,0.8)" rx="0.8"/>
<text x="385.6" y="309.7" font-size="9.9" text-anchor="start" textLength="22.41" lengthAdjust="spacingAndGlyphs">Initial</text>
<rect x="314.9" y="389" width="101.6" height="29.4" fill="rgba(255,255,255,0.8)" rx="2.5" stroke="#c8c8d0" stroke-width="0.6"/>
<line x1="318.4" y1="396.7" x2="340.4" y2="396.7" stroke="#1e8743" stroke-width="1.9"/>
<circle cx="327.6" cy="396.7" r="2.6" fill="#1e8743"/>
<circle cx="327.6" cy="410.3" r="1.1" fill="#dadada" stroke="#909090" stroke-width="0.45"/>
<text x="344.6" y="400" font-size="9.3" text-anchor="start">Optimal Path</text>
<text x="344.6" y="413.2" font-size="9.3" text-anchor="start">Searched Node</text>
<rect x="253" y="270.9" width="166.8" height="168.65" fill="none" stroke="#111" stroke-width="1.4"/>
<line x1="253" y1="439.55" x2="253" y2="441.35" stroke="#111" stroke-width="0.8"/>
<text x="253" y="449.15" font-size="9.4" text-anchor="middle">−8</text>
<text x="251.5" y="442.95" font-size="9.4" text-anchor="end">−8</text>
<line x1="273.85" y1="439.55" x2="273.85" y2="441.35" stroke="#111" stroke-width="0.8"/>
<text x="273.85" y="449.15" font-size="9.4" text-anchor="middle">−6</text>
<text x="251.5" y="421.87" font-size="9.4" text-anchor="end">−6</text>
<line x1="294.7" y1="439.55" x2="294.7" y2="441.35" stroke="#111" stroke-width="0.8"/>
<text x="294.7" y="449.15" font-size="9.4" text-anchor="middle">−4</text>
<text x="251.5" y="400.79" font-size="9.4" text-anchor="end">−4</text>
<line x1="315.55" y1="439.55" x2="315.55" y2="441.35" stroke="#111" stroke-width="0.8"/>
<text x="315.55" y="449.15" font-size="9.4" text-anchor="middle">−2</text>
<text x="251.5" y="379.71" font-size="9.4" text-anchor="end">−2</text>
<line x1="336.4" y1="439.55" x2="336.4" y2="441.35" stroke="#111" stroke-width="0.8"/>
<text x="336.4" y="449.15" font-size="9.4" text-anchor="middle">0</text>
<text x="251.5" y="358.62" font-size="9.4" text-anchor="end">0</text>
<line x1="357.25" y1="439.55" x2="357.25" y2="441.35" stroke="#111" stroke-width="0.8"/>
<text x="357.25" y="449.15" font-size="9.4" text-anchor="middle">2</text>
<text x="251.5" y="337.54" font-size="9.4" text-anchor="end">2</text>
<line x1="378.1" y1="439.55" x2="378.1" y2="441.35" stroke="#111" stroke-width="0.8"/>
<text x="378.1" y="449.15" font-size="9.4" text-anchor="middle">4</text>
<text x="251.5" y="316.46" font-size="9.4" text-anchor="end">4</text>
<line x1="398.95" y1="439.55" x2="398.95" y2="441.35" stroke="#111" stroke-width="0.8"/>
<text x="398.95" y="449.15" font-size="9.4" text-anchor="middle">6</text>
<text x="251.5" y="295.38" font-size="9.4" text-anchor="end">6</text>
<line x1="419.8" y1="439.55" x2="419.8" y2="441.35" stroke="#111" stroke-width="0.8"/>
<text x="419.8" y="449.15" font-size="9.4" text-anchor="middle">8</text>
<text x="251.5" y="274.3" font-size="9.4" text-anchor="end">8</text>
<text x="336.4" y="463.05" font-size="12.8" text-anchor="middle">X3</text>
<text x="235.9" y="356.22" font-size="12.8" text-anchor="middle" textLength="15" lengthAdjust="spacingAndGlyphs" transform="rotate(-90 235.9 356.22)">X2</text>
<rect x="429.9" y="270.9" width="8.9" height="168.65" fill="url(#cb)" stroke="#333" stroke-width="0.6"/>
<text x="442.8" y="273.3" font-size="8.6" text-anchor="start">1</text>
<text x="441.6" y="444.95" font-size="9.2" text-anchor="start">0</text>
<text x="450" y="354.42" font-size="11.3" text-anchor="middle" textLength="132.39" lengthAdjust="spacingAndGlyphs" transform="rotate(-90 450 354.42)">Relative probability density</text>
<polygon points="486.43,40.62 576.11,25.46 685.95,35.15 661.43,147.89 599.55,217.58 499.46,157.72" fill="#e5ebf4"/>
<g stroke="#ffffff" stroke-opacity="0.45" stroke-width="0.8">
<line x1="521.82" y1="145.19" x2="514.86" y2="35.81"/>
<line x1="496.7" y1="132.92" x2="573.52" y2="96.46"/>
<line x1="591.37" y1="123.19" x2="598.33" y2="27.42"/>
<line x1="573.52" y1="96.46" x2="666.67" y2="123.81"/>
<line x1="519.08" y1="169.45" x2="591.37" y2="123.19"/>
<line x1="521.82" y1="145.19" x2="619.55" y2="195.05"/>
<line x1="541.13" y1="134.37" x2="538.63" y2="31.79"/>
<line x1="493.64" y1="105.46" x2="574.31" y2="74.67"/>
<line x1="612.07" y1="130.49" x2="623.57" y2="29.65"/>
<line x1="574.31" y1="74.67" x2="672.44" y2="97.27"/>
<line x1="541.74" y1="183.01" x2="612.07" y2="130.49"/>
<line x1="541.13" y1="134.37" x2="635.99" y2="176.54"/>
<line x1="557.97" y1="124.94" x2="558.79" y2="28.38"/>
<line x1="490.24" y1="74.88" x2="575.17" y2="51.09"/>
<line x1="635.27" y1="138.67" x2="652.48" y2="32.2"/>
<line x1="575.17" y1="51.09" x2="678.83" y2="67.88"/>
<line x1="568.22" y1="198.84" x2="635.27" y2="138.67"/>
<line x1="557.97" y1="124.94" x2="649.75" y2="161.04"/>
</g>
<g class="lat">
<circle cx="501.9" cy="155.4" r="2.2"/>
<circle cx="501.2" cy="148.4" r="2.2"/>
<circle cx="500.4" cy="141.1" r="2.2"/>
<circle cx="499.6" cy="133.7" r="2.2"/>
<circle cx="498.8" cy="126.0" r="2.2"/>
<circle cx="498.0" cy="118.1" r="2.2"/>
<circle cx="497.1" cy="109.9" r="2.2"/>
<circle cx="496.2" cy="101.5" r="2.2"/>
<circle cx="495.3" cy="92.8" r="2.2"/>
<circle cx="494.4" cy="83.9" r="2.2"/>
<circle cx="493.4" cy="74.6" r="2.2"/>
<circle cx="492.4" cy="65.0" r="2.2"/>
<circle cx="491.3" cy="55.1" r="2.2"/>
<circle cx="490.3" cy="44.9" r="2.2"/>
<circle cx="512.0" cy="149.8" r="2.2"/>
<circle cx="511.4" cy="142.9" r="2.2"/>
<circle cx="510.8" cy="135.8" r="2.2"/>
<circle cx="510.2" cy="128.6" r="2.2"/>
<circle cx="509.6" cy="121.1" r="2.2"/>
<circle cx="509.0" cy="113.4" r="2.2"/>
<circle cx="508.3" cy="105.4" r="2.2"/>
<circle cx="507.6" cy="97.3" r="2.2"/>
<circle cx="506.9" cy="88.9" r="2.2"/>
<circle cx="506.2" cy="80.2" r="2.2"/>
<circle cx="505.4" cy="71.2" r="2.2"/>
<circle cx="504.6" cy="61.9" r="2.2"/>
<circle cx="503.8" cy="52.4" r="2.2"/>
<circle cx="503.0" cy="42.5" r="2.2"/>
<circle cx="521.4" cy="144.5" r="2.2"/>
<circle cx="521.0" cy="137.8" r="2.2"/>
<circle cx="520.6" cy="130.9" r="2.2"/>
<circle cx="520.1" cy="123.8" r="2.2"/>
<circle cx="519.6" cy="116.5" r="2.2"/>
<circle cx="519.2" cy="109.0" r="2.2"/>
<circle cx="518.7" cy="101.3" r="2.2"/>
<circle cx="518.2" cy="93.4" r="2.2"/>
<circle cx="517.6" cy="85.2" r="2.2"/>
<circle cx="517.1" cy="76.7" r="2.2"/>
<circle cx="516.5" cy="68.1" r="2.2"/>
<circle cx="516.0" cy="59.1" r="2.2"/>
<circle cx="515.4" cy="49.9" r="2.2"/>
<circle cx="514.7" cy="40.3" r="2.2"/>
<circle cx="530.3" cy="139.6" r="2.2"/>
<circle cx="530.0" cy="133.0" r="2.2"/>
<circle cx="529.7" cy="126.3" r="2.2"/>
<circle cx="529.3" cy="119.4" r="2.2"/>
<circle cx="529.0" cy="112.2" r="2.2"/>
<circle cx="528.7" cy="104.9" r="2.2"/>
<circle cx="528.3" cy="97.4" r="2.2"/>
<circle cx="528.0" cy="89.7" r="2.2"/>
<circle cx="527.6" cy="81.8" r="2.2"/>
<circle cx="527.2" cy="73.6" r="2.2"/>
<circle cx="526.8" cy="65.2" r="2.2"/>
<circle cx="526.4" cy="56.5" r="2.2"/>
<circle cx="526.0" cy="47.6" r="2.2"/>
<circle cx="525.6" cy="38.3" r="2.2"/>
<circle cx="538.6" cy="135.0" r="2.2"/>
<circle cx="538.4" cy="128.5" r="2.2"/>
<circle cx="538.2" cy="121.9" r="2.2"/>
<circle cx="538.0" cy="115.2" r="2.2"/>
<circle cx="537.8" cy="108.2" r="2.2"/>
<circle cx="537.6" cy="101.1" r="2.2"/>
<circle cx="537.4" cy="93.8" r="2.2"/>
<circle cx="537.2" cy="86.3" r="2.2"/>
<circle cx="536.9" cy="78.6" r="2.2"/>
<circle cx="536.7" cy="70.6" r="2.2"/>
<circle cx="536.5" cy="62.4" r="2.2"/>
<circle cx="536.2" cy="54.0" r="2.2"/>
<circle cx="536.0" cy="45.4" r="2.2"/>
<circle cx="535.7" cy="36.5" r="2.2"/>
<circle cx="546.4" cy="130.6" r="2.2"/>
<circle cx="546.3" cy="124.3" r="2.2"/>
<circle cx="546.2" cy="117.9" r="2.2"/>
<circle cx="546.1" cy="111.3" r="2.2"/>
<circle cx="546.0" cy="104.5" r="2.2"/>
<circle cx="545.9" cy="97.5" r="2.2"/>
<circle cx="545.8" cy="90.4" r="2.2"/>
<circle cx="545.7" cy="83.1" r="2.2"/>
<circle cx="545.6" cy="75.6" r="2.2"/>
<circle cx="545.5" cy="67.9" r="2.2"/>
<circle cx="545.4" cy="59.9" r="2.2"/>
<circle cx="545.3" cy="51.8" r="2.2"/>
<circle cx="545.2" cy="43.4" r="2.2"/>
<circle cx="545.1" cy="34.7" r="2.2"/>
<circle cx="553.8" cy="126.5" r="2.2"/>
<circle cx="553.8" cy="120.4" r="2.2"/>
<circle cx="553.8" cy="114.0" r="2.2"/>
<circle cx="553.8" cy="107.6" r="2.2"/>
<circle cx="553.8" cy="101.0" r="2.2"/>
<circle cx="553.8" cy="94.2" r="2.2"/>
<circle cx="553.8" cy="87.2" r="2.2"/>
<circle cx="553.8" cy="80.1" r="2.2"/>
<circle cx="553.8" cy="72.8" r="2.2"/>
<circle cx="553.8" cy="65.3" r="2.2"/>
<circle cx="553.8" cy="57.6" r="2.2"/>
<circle cx="553.8" cy="49.6" r="2.2"/>
<circle cx="553.8" cy="41.5" r="2.2"/>
<circle cx="553.8" cy="33.1" r="2.2"/>
<circle cx="560.7" cy="122.6" r="2.2"/>
<circle cx="560.8" cy="116.6" r="2.2"/>
<circle cx="560.9" cy="110.4" r="2.2"/>
<circle cx="561.0" cy="104.1" r="2.2"/>
<circle cx="561.1" cy="97.6" r="2.2"/>
<circle cx="561.2" cy="91.0" r="2.2"/>
<circle cx="561.3" cy="84.2" r="2.2"/>
<circle cx="561.4" cy="77.3" r="2.2"/>
<circle cx="561.4" cy="70.2" r="2.2"/>
<circle cx="561.6" cy="62.8" r="2.2"/>
<circle cx="561.7" cy="55.3" r="2.2"/>
<circle cx="561.8" cy="47.6" r="2.2"/>
<circle cx="561.9" cy="39.7" r="2.2"/>
<circle cx="562.0" cy="31.6" r="2.2"/>
<circle cx="567.3" cy="119.0" r="2.2"/>
<circle cx="567.5" cy="113.1" r="2.2"/>
<circle cx="567.6" cy="107.0" r="2.2"/>
<circle cx="567.8" cy="100.8" r="2.2"/>
<circle cx="568.0" cy="94.5" r="2.2"/>
<circle cx="568.1" cy="88.0" r="2.2"/>
<circle cx="568.3" cy="81.4" r="2.2"/>
<circle cx="568.5" cy="74.6" r="2.2"/>
<circle cx="568.7" cy="67.7" r="2.2"/>
<circle cx="568.8" cy="60.6" r="2.2"/>
<circle cx="569.0" cy="53.3" r="2.2"/>
<circle cx="569.2" cy="45.8" r="2.2"/>
<circle cx="569.4" cy="38.1" r="2.2"/>
<circle cx="569.6" cy="30.2" r="2.2"/>
<circle cx="573.5" cy="115.5" r="2.2"/>
<circle cx="573.8" cy="109.7" r="2.2"/>
<circle cx="574.0" cy="103.8" r="2.2"/>
<circle cx="574.2" cy="97.7" r="2.2"/>
<circle cx="574.5" cy="91.6" r="2.2"/>
<circle cx="574.7" cy="85.2" r="2.2"/>
<circle cx="574.9" cy="78.8" r="2.2"/>
<circle cx="575.2" cy="72.1" r="2.2"/>
<circle cx="575.4" cy="65.4" r="2.2"/>
<circle cx="575.7" cy="58.4" r="2.2"/>
<circle cx="576.0" cy="51.3" r="2.2"/>
<circle cx="576.3" cy="44.0" r="2.2"/>
<circle cx="576.5" cy="36.5" r="2.2"/>
<circle cx="576.8" cy="28.9" r="2.2"/>
<circle cx="507.1" cy="158.4" r="2.2"/>
<circle cx="506.5" cy="151.3" r="2.2"/>
<circle cx="505.8" cy="144.0" r="2.2"/>
<circle cx="505.0" cy="136.4" r="2.2"/>
<circle cx="504.3" cy="128.6" r="2.2"/>
<circle cx="503.5" cy="120.6" r="2.2"/>
<circle cx="502.7" cy="112.3" r="2.2"/>
<circle cx="501.9" cy="103.7" r="2.2"/>
<circle cx="501.1" cy="94.9" r="2.2"/>
<circle cx="500.2" cy="85.8" r="2.2"/>
<circle cx="499.3" cy="76.4" r="2.2"/>
<circle cx="498.4" cy="66.6" r="2.2"/>
<circle cx="497.4" cy="56.5" r="2.2"/>
<circle cx="496.4" cy="46.0" r="2.2"/>
<circle cx="517.2" cy="152.6" r="2.2"/>
<circle cx="516.7" cy="145.6" r="2.2"/>
<circle cx="516.2" cy="138.5" r="2.2"/>
<circle cx="515.6" cy="131.1" r="2.2"/>
<circle cx="515.1" cy="123.5" r="2.2"/>
<circle cx="514.5" cy="115.7" r="2.2"/>
<circle cx="513.9" cy="107.7" r="2.2"/>
<circle cx="513.3" cy="99.4" r="2.2"/>
<circle cx="512.7" cy="90.8" r="2.2"/>
<circle cx="512.0" cy="82.0" r="2.2"/>
<circle cx="511.3" cy="72.8" r="2.2"/>
<circle cx="510.6" cy="63.4" r="2.2"/>
<circle cx="509.9" cy="53.7" r="2.2"/>
<circle cx="509.2" cy="43.6" r="2.2"/>
<circle cx="526.6" cy="147.2" r="2.2"/>
<circle cx="526.3" cy="140.4" r="2.2"/>
<circle cx="525.9" cy="133.4" r="2.2"/>
<circle cx="525.5" cy="126.2" r="2.2"/>
<circle cx="525.1" cy="118.8" r="2.2"/>
<circle cx="524.7" cy="111.2" r="2.2"/>
<circle cx="524.3" cy="103.3" r="2.2"/>
<circle cx="523.8" cy="95.3" r="2.2"/>
<circle cx="523.4" cy="87.0" r="2.2"/>
<circle cx="522.9" cy="78.4" r="2.2"/>
<circle cx="522.4" cy="69.6" r="2.2"/>
<circle cx="522.0" cy="60.5" r="2.2"/>
<circle cx="521.4" cy="51.0" r="2.2"/>
<circle cx="520.9" cy="41.3" r="2.2"/>
<circle cx="535.5" cy="142.1" r="2.2"/>
<circle cx="535.2" cy="135.4" r="2.2"/>
<circle cx="535.0" cy="128.6" r="2.2"/>
<circle cx="534.7" cy="121.6" r="2.2"/>
<circle cx="534.5" cy="114.4" r="2.2"/>
<circle cx="534.2" cy="106.9" r="2.2"/>
<circle cx="533.9" cy="99.3" r="2.2"/>
<circle cx="533.7" cy="91.5" r="2.2"/>
<circle cx="533.4" cy="83.4" r="2.2"/>
<circle cx="533.1" cy="75.1" r="2.2"/>
<circle cx="532.8" cy="66.5" r="2.2"/>
<circle cx="532.4" cy="57.7" r="2.2"/>
<circle cx="532.1" cy="48.6" r="2.2"/>
<circle cx="531.8" cy="39.2" r="2.2"/>
<circle cx="543.8" cy="137.3" r="2.2"/>
<circle cx="543.6" cy="130.8" r="2.2"/>
<circle cx="543.5" cy="124.1" r="2.2"/>
<circle cx="543.4" cy="117.3" r="2.2"/>
<circle cx="543.2" cy="110.2" r="2.2"/>
<circle cx="543.1" cy="103.0" r="2.2"/>
<circle cx="542.9" cy="95.6" r="2.2"/>
<circle cx="542.8" cy="88.0" r="2.2"/>
<circle cx="542.6" cy="80.1" r="2.2"/>
<circle cx="542.5" cy="72.0" r="2.2"/>
<circle cx="542.3" cy="63.7" r="2.2"/>
<circle cx="542.2" cy="55.2" r="2.2"/>
<circle cx="542.0" cy="46.4" r="2.2"/>
<circle cx="541.8" cy="37.3" r="2.2"/>
<circle cx="551.5" cy="132.8" r="2.2"/>
<circle cx="551.5" cy="126.4" r="2.2"/>
<circle cx="551.5" cy="119.9" r="2.2"/>
<circle cx="551.5" cy="113.2" r="2.2"/>
<circle cx="551.4" cy="106.4" r="2.2"/>
<circle cx="551.4" cy="99.3" r="2.2"/>
<circle cx="551.4" cy="92.1" r="2.2"/>
<circle cx="551.3" cy="84.6" r="2.2"/>
<circle cx="551.3" cy="77.0" r="2.2"/>
<circle cx="551.3" cy="69.2" r="2.2"/>
<circle cx="551.3" cy="61.1" r="2.2"/>
<circle cx="551.2" cy="52.8" r="2.2"/>
<circle cx="551.2" cy="44.3" r="2.2"/>
<circle cx="551.2" cy="35.5" r="2.2"/>
<circle cx="558.9" cy="128.6" r="2.2"/>
<circle cx="558.9" cy="122.3" r="2.2"/>
<circle cx="559.0" cy="116.0" r="2.2"/>
<circle cx="559.1" cy="109.4" r="2.2"/>
<circle cx="559.1" cy="102.7" r="2.2"/>
<circle cx="559.2" cy="95.8" r="2.2"/>
<circle cx="559.3" cy="88.8" r="2.2"/>
<circle cx="559.4" cy="81.6" r="2.2"/>
<circle cx="559.4" cy="74.1" r="2.2"/>
<circle cx="559.5" cy="66.5" r="2.2"/>
<circle cx="559.6" cy="58.7" r="2.2"/>
<circle cx="559.7" cy="50.6" r="2.2"/>
<circle cx="559.8" cy="42.4" r="2.2"/>
<circle cx="559.9" cy="33.8" r="2.2"/>
<circle cx="565.8" cy="124.6" r="2.2"/>
<circle cx="565.9" cy="118.5" r="2.2"/>
<circle cx="566.1" cy="112.2" r="2.2"/>
<circle cx="566.2" cy="105.8" r="2.2"/>
<circle cx="566.4" cy="99.3" r="2.2"/>
<circle cx="566.5" cy="92.6" r="2.2"/>
<circle cx="566.7" cy="85.7" r="2.2"/>
<circle cx="566.9" cy="78.6" r="2.2"/>
<circle cx="567.0" cy="71.4" r="2.2"/>
<circle cx="567.2" cy="64.0" r="2.2"/>
<circle cx="567.4" cy="56.4" r="2.2"/>
<circle cx="567.6" cy="48.6" r="2.2"/>
<circle cx="567.8" cy="40.5" r="2.2"/>
<circle cx="568.0" cy="32.3" r="2.2"/>
<circle cx="572.3" cy="120.8" r="2.2"/>
<circle cx="572.5" cy="114.8" r="2.2"/>
<circle cx="572.8" cy="108.7" r="2.2"/>
<circle cx="573.0" cy="102.5" r="2.2"/>
<circle cx="573.2" cy="96.1" r="2.2"/>
<circle cx="573.5" cy="89.5" r="2.2"/>
<circle cx="573.7" cy="82.8" r="2.2"/>
<circle cx="573.9" cy="75.9" r="2.2"/>
<circle cx="574.2" cy="68.9" r="2.2"/>
<circle cx="574.5" cy="61.6" r="2.2"/>
<circle cx="574.7" cy="54.2" r="2.2"/>
<circle cx="575.0" cy="46.6" r="2.2"/>
<circle cx="575.3" cy="38.8" r="2.2"/>
<circle cx="575.6" cy="30.8" r="2.2"/>
<circle cx="578.5" cy="117.2" r="2.2"/>
<circle cx="578.8" cy="111.4" r="2.2"/>
<circle cx="579.1" cy="105.4" r="2.2"/>
<circle cx="579.4" cy="99.3" r="2.2"/>
<circle cx="579.7" cy="93.0" r="2.2"/>
<circle cx="580.0" cy="86.6" r="2.2"/>
<circle cx="580.3" cy="80.1" r="2.2"/>
<circle cx="580.6" cy="73.3" r="2.2"/>
<circle cx="580.9" cy="66.5" r="2.2"/>
<circle cx="581.3" cy="59.4" r="2.2"/>
<circle cx="581.6" cy="52.2" r="2.2"/>
<circle cx="582.0" cy="44.8" r="2.2"/>
<circle cx="582.3" cy="37.2" r="2.2"/>
<circle cx="582.7" cy="29.5" r="2.2"/>
<circle cx="512.5" cy="161.6" r="2.2"/>
<circle cx="511.9" cy="154.4" r="2.2"/>
<circle cx="511.3" cy="146.9" r="2.2"/>
<circle cx="510.6" cy="139.3" r="2.2"/>
<circle cx="510.0" cy="131.4" r="2.2"/>
<circle cx="509.3" cy="123.2" r="2.2"/>
<circle cx="508.6" cy="114.8" r="2.2"/>
<circle cx="507.8" cy="106.1" r="2.2"/>
<circle cx="507.1" cy="97.1" r="2.2"/>
<circle cx="506.3" cy="87.8" r="2.2"/>
<circle cx="505.5" cy="78.2" r="2.2"/>
<circle cx="504.6" cy="68.3" r="2.2"/>
<circle cx="503.7" cy="57.9" r="2.2"/>
<circle cx="502.8" cy="47.3" r="2.2"/>
<circle cx="522.6" cy="155.5" r="2.2"/>
<circle cx="522.2" cy="148.5" r="2.2"/>
<circle cx="521.7" cy="141.2" r="2.2"/>
<circle cx="521.2" cy="133.8" r="2.2"/>
<circle cx="520.8" cy="126.1" r="2.2"/>
<circle cx="520.3" cy="118.1" r="2.2"/>
<circle cx="519.7" cy="110.0" r="2.2"/>
<circle cx="519.2" cy="101.5" r="2.2"/>
<circle cx="518.7" cy="92.8" r="2.2"/>
<circle cx="518.1" cy="83.8" r="2.2"/>
<circle cx="517.5" cy="74.5" r="2.2"/>
<circle cx="516.9" cy="64.9" r="2.2"/>
<circle cx="516.3" cy="55.0" r="2.2"/>
<circle cx="515.6" cy="44.7" r="2.2"/>
<circle cx="532.0" cy="149.9" r="2.2"/>
<circle cx="531.7" cy="143.0" r="2.2"/>
<circle cx="531.4" cy="135.9" r="2.2"/>
<circle cx="531.1" cy="128.6" r="2.2"/>
<circle cx="530.8" cy="121.1" r="2.2"/>
<circle cx="530.5" cy="113.4" r="2.2"/>
<circle cx="530.1" cy="105.5" r="2.2"/>
<circle cx="529.7" cy="97.3" r="2.2"/>
<circle cx="529.4" cy="88.8" r="2.2"/>
<circle cx="529.0" cy="80.1" r="2.2"/>
<circle cx="528.6" cy="71.1" r="2.2"/>
<circle cx="528.2" cy="61.8" r="2.2"/>
<circle cx="527.8" cy="52.3" r="2.2"/>
<circle cx="527.4" cy="42.3" r="2.2"/>
<circle cx="540.8" cy="144.6" r="2.2"/>
<circle cx="540.7" cy="137.9" r="2.2"/>
<circle cx="540.5" cy="131.0" r="2.2"/>
<circle cx="540.3" cy="123.9" r="2.2"/>
<circle cx="540.1" cy="116.6" r="2.2"/>
<circle cx="539.9" cy="109.0" r="2.2"/>
<circle cx="539.7" cy="101.3" r="2.2"/>
<circle cx="539.5" cy="93.3" r="2.2"/>
<circle cx="539.3" cy="85.1" r="2.2"/>
<circle cx="539.1" cy="76.7" r="2.2"/>
<circle cx="538.9" cy="68.0" r="2.2"/>
<circle cx="538.7" cy="59.0" r="2.2"/>
<circle cx="538.4" cy="49.7" r="2.2"/>
<circle cx="538.2" cy="40.2" r="2.2"/>
<circle cx="549.1" cy="139.7" r="2.2"/>
<circle cx="549.0" cy="133.1" r="2.2"/>
<circle cx="549.0" cy="126.4" r="2.2"/>
<circle cx="548.9" cy="119.4" r="2.2"/>
<circle cx="548.9" cy="112.3" r="2.2"/>
<circle cx="548.8" cy="105.0" r="2.2"/>
<circle cx="548.7" cy="97.4" r="2.2"/>
<circle cx="548.7" cy="89.7" r="2.2"/>
<circle cx="548.6" cy="81.7" r="2.2"/>
<circle cx="548.5" cy="73.5" r="2.2"/>
<circle cx="548.4" cy="65.1" r="2.2"/>
<circle cx="548.4" cy="56.4" r="2.2"/>
<circle cx="548.3" cy="47.4" r="2.2"/>
<circle cx="548.2" cy="38.2" r="2.2"/>
<circle cx="556.8" cy="135.1" r="2.2"/>
<circle cx="556.9" cy="128.6" r="2.2"/>
<circle cx="556.9" cy="122.0" r="2.2"/>
<circle cx="557.0" cy="115.2" r="2.2"/>
<circle cx="557.0" cy="108.3" r="2.2"/>
<circle cx="557.1" cy="101.1" r="2.2"/>
<circle cx="557.1" cy="93.8" r="2.2"/>
<circle cx="557.2" cy="86.3" r="2.2"/>
<circle cx="557.2" cy="78.5" r="2.2"/>
<circle cx="557.3" cy="70.5" r="2.2"/>
<circle cx="557.3" cy="62.4" r="2.2"/>
<circle cx="557.4" cy="53.9" r="2.2"/>
<circle cx="557.4" cy="45.3" r="2.2"/>
<circle cx="557.5" cy="36.3" r="2.2"/>
<circle cx="564.1" cy="130.7" r="2.2"/>
<circle cx="564.3" cy="124.4" r="2.2"/>
<circle cx="564.4" cy="117.9" r="2.2"/>
<circle cx="564.5" cy="111.3" r="2.2"/>
<circle cx="564.7" cy="104.5" r="2.2"/>
<circle cx="564.8" cy="97.5" r="2.2"/>
<circle cx="565.0" cy="90.4" r="2.2"/>
<circle cx="565.1" cy="83.1" r="2.2"/>
<circle cx="565.3" cy="75.5" r="2.2"/>
<circle cx="565.4" cy="67.8" r="2.2"/>
<circle cx="565.6" cy="59.8" r="2.2"/>
<circle cx="565.8" cy="51.6" r="2.2"/>
<circle cx="565.9" cy="43.2" r="2.2"/>
<circle cx="566.1" cy="34.6" r="2.2"/>
<circle cx="571.0" cy="126.6" r="2.2"/>
<circle cx="571.2" cy="120.4" r="2.2"/>
<circle cx="571.4" cy="114.1" r="2.2"/>
<circle cx="571.7" cy="107.6" r="2.2"/>
<circle cx="571.9" cy="101.0" r="2.2"/>
<circle cx="572.1" cy="94.2" r="2.2"/>
<circle cx="572.3" cy="87.2" r="2.2"/>
<circle cx="572.6" cy="80.1" r="2.2"/>
<circle cx="572.8" cy="72.7" r="2.2"/>
<circle cx="573.1" cy="65.2" r="2.2"/>
<circle cx="573.3" cy="57.5" r="2.2"/>
<circle cx="573.6" cy="49.5" r="2.2"/>
<circle cx="573.9" cy="41.4" r="2.2"/>
<circle cx="574.2" cy="33.0" r="2.2"/>
<circle cx="577.5" cy="122.7" r="2.2"/>
<circle cx="577.8" cy="116.6" r="2.2"/>
<circle cx="578.1" cy="110.5" r="2.2"/>
<circle cx="578.4" cy="104.1" r="2.2"/>
<circle cx="578.7" cy="97.7" r="2.2"/>
<circle cx="579.0" cy="91.0" r="2.2"/>
<circle cx="579.3" cy="84.2" r="2.2"/>
<circle cx="579.6" cy="77.2" r="2.2"/>
<circle cx="579.9" cy="70.1" r="2.2"/>
<circle cx="580.3" cy="62.8" r="2.2"/>
<circle cx="580.6" cy="55.2" r="2.2"/>
<circle cx="581.0" cy="47.5" r="2.2"/>
<circle cx="581.3" cy="39.6" r="2.2"/>
<circle cx="581.7" cy="31.5" r="2.2"/>
<circle cx="583.7" cy="119.0" r="2.2"/>
<circle cx="584.0" cy="113.1" r="2.2"/>
<circle cx="584.3" cy="107.0" r="2.2"/>
<circle cx="584.7" cy="100.8" r="2.2"/>
<circle cx="585.1" cy="94.5" r="2.2"/>
<circle cx="585.4" cy="88.0" r="2.2"/>
<circle cx="585.8" cy="81.4" r="2.2"/>
<circle cx="586.2" cy="74.6" r="2.2"/>
<circle cx="586.6" cy="67.6" r="2.2"/>
<circle cx="587.0" cy="60.5" r="2.2"/>
<circle cx="587.4" cy="53.2" r="2.2"/>
<circle cx="587.9" cy="45.7" r="2.2"/>
<circle cx="588.3" cy="38.0" r="2.2"/>
<circle cx="588.8" cy="30.1" r="2.2"/>
<circle cx="518.2" cy="164.9" r="2.2"/>
<circle cx="517.6" cy="157.5" r="2.2"/>
<circle cx="517.1" cy="150.0" r="2.2"/>
<circle cx="516.5" cy="142.2" r="2.2"/>
<circle cx="515.9" cy="134.2" r="2.2"/>
<circle cx="515.3" cy="125.9" r="2.2"/>
<circle cx="514.6" cy="117.4" r="2.2"/>
<circle cx="514.0" cy="108.5" r="2.2"/>
<circle cx="513.3" cy="99.4" r="2.2"/>
<circle cx="512.6" cy="89.9" r="2.2"/>
<circle cx="511.9" cy="80.1" r="2.2"/>
<circle cx="511.1" cy="70.0" r="2.2"/>
<circle cx="510.4" cy="59.5" r="2.2"/>
<circle cx="509.6" cy="48.5" r="2.2"/>
<circle cx="528.2" cy="158.6" r="2.2"/>
<circle cx="527.9" cy="151.4" r="2.2"/>
<circle cx="527.5" cy="144.1" r="2.2"/>
<circle cx="527.1" cy="136.5" r="2.2"/>
<circle cx="526.7" cy="128.7" r="2.2"/>
<circle cx="526.3" cy="120.7" r="2.2"/>
<circle cx="525.8" cy="112.3" r="2.2"/>
<circle cx="525.4" cy="103.8" r="2.2"/>
<circle cx="524.9" cy="94.9" r="2.2"/>
<circle cx="524.4" cy="85.8" r="2.2"/>
<circle cx="523.9" cy="76.3" r="2.2"/>
<circle cx="523.4" cy="66.5" r="2.2"/>
<circle cx="522.9" cy="56.4" r="2.2"/>
<circle cx="522.4" cy="45.9" r="2.2"/>
<circle cx="537.6" cy="152.7" r="2.2"/>
<circle cx="537.4" cy="145.8" r="2.2"/>
<circle cx="537.2" cy="138.6" r="2.2"/>
<circle cx="536.9" cy="131.2" r="2.2"/>
<circle cx="536.7" cy="123.6" r="2.2"/>
<circle cx="536.4" cy="115.8" r="2.2"/>
<circle cx="536.2" cy="107.7" r="2.2"/>
<circle cx="535.9" cy="99.4" r="2.2"/>
<circle cx="535.6" cy="90.8" r="2.2"/>
<circle cx="535.3" cy="81.9" r="2.2"/>
<circle cx="535.0" cy="72.8" r="2.2"/>
<circle cx="534.7" cy="63.3" r="2.2"/>
<circle cx="534.4" cy="53.5" r="2.2"/>
<circle cx="534.1" cy="43.4" r="2.2"/>
<circle cx="546.4" cy="147.3" r="2.2"/>
<circle cx="546.3" cy="140.5" r="2.2"/>
<circle cx="546.2" cy="133.5" r="2.2"/>
<circle cx="546.1" cy="126.3" r="2.2"/>
<circle cx="546.0" cy="118.8" r="2.2"/>
<circle cx="545.9" cy="111.2" r="2.2"/>
<circle cx="545.8" cy="103.4" r="2.2"/>
<circle cx="545.7" cy="95.3" r="2.2"/>
<circle cx="545.5" cy="86.9" r="2.2"/>
<circle cx="545.4" cy="78.3" r="2.2"/>
<circle cx="545.3" cy="69.5" r="2.2"/>
<circle cx="545.2" cy="60.3" r="2.2"/>
<circle cx="545.0" cy="50.9" r="2.2"/>
<circle cx="544.9" cy="41.2" r="2.2"/>
<circle cx="554.6" cy="142.2" r="2.2"/>
<circle cx="554.6" cy="135.5" r="2.2"/>
<circle cx="554.6" cy="128.7" r="2.2"/>
<circle cx="554.7" cy="121.6" r="2.2"/>
<circle cx="554.7" cy="114.4" r="2.2"/>
<circle cx="554.7" cy="107.0" r="2.2"/>
<circle cx="554.7" cy="99.3" r="2.2"/>
<circle cx="554.7" cy="91.5" r="2.2"/>
<circle cx="554.7" cy="83.4" r="2.2"/>
<circle cx="554.8" cy="75.0" r="2.2"/>
<circle cx="554.8" cy="66.5" r="2.2"/>
<circle cx="554.8" cy="57.6" r="2.2"/>
<circle cx="554.8" cy="48.5" r="2.2"/>
<circle cx="554.8" cy="39.1" r="2.2"/>
<circle cx="562.3" cy="137.4" r="2.2"/>
<circle cx="562.4" cy="130.9" r="2.2"/>
<circle cx="562.6" cy="124.2" r="2.2"/>
<circle cx="562.7" cy="117.3" r="2.2"/>
<circle cx="562.8" cy="110.3" r="2.2"/>
<circle cx="562.9" cy="103.0" r="2.2"/>
<circle cx="563.1" cy="95.6" r="2.2"/>
<circle cx="563.2" cy="87.9" r="2.2"/>
<circle cx="563.3" cy="80.1" r="2.2"/>
<circle cx="563.5" cy="72.0" r="2.2"/>
<circle cx="563.6" cy="63.6" r="2.2"/>
<circle cx="563.8" cy="55.1" r="2.2"/>
<circle cx="563.9" cy="46.2" r="2.2"/>
<circle cx="564.1" cy="37.1" r="2.2"/>
<circle cx="569.6" cy="132.9" r="2.2"/>
<circle cx="569.8" cy="126.5" r="2.2"/>
<circle cx="570.0" cy="120.0" r="2.2"/>
<circle cx="570.2" cy="113.3" r="2.2"/>
<circle cx="570.4" cy="106.4" r="2.2"/>
<circle cx="570.6" cy="99.3" r="2.2"/>
<circle cx="570.9" cy="92.1" r="2.2"/>
<circle cx="571.1" cy="84.6" r="2.2"/>
<circle cx="571.3" cy="77.0" r="2.2"/>
<circle cx="571.6" cy="69.1" r="2.2"/>
<circle cx="571.8" cy="61.0" r="2.2"/>
<circle cx="572.1" cy="52.7" r="2.2"/>
<circle cx="572.4" cy="44.2" r="2.2"/>
<circle cx="572.6" cy="35.4" r="2.2"/>
<circle cx="576.4" cy="128.6" r="2.2"/>
<circle cx="576.7" cy="122.4" r="2.2"/>
<circle cx="577.0" cy="116.0" r="2.2"/>
<circle cx="577.3" cy="109.4" r="2.2"/>
<circle cx="577.6" cy="102.7" r="2.2"/>
<circle cx="577.9" cy="95.8" r="2.2"/>
<circle cx="578.2" cy="88.8" r="2.2"/>
<circle cx="578.5" cy="81.5" r="2.2"/>
<circle cx="578.8" cy="74.1" r="2.2"/>
<circle cx="579.2" cy="66.4" r="2.2"/>
<circle cx="579.5" cy="58.6" r="2.2"/>
<circle cx="579.9" cy="50.5" r="2.2"/>
<circle cx="580.2" cy="42.2" r="2.2"/>
<circle cx="580.6" cy="33.7" r="2.2"/>
<circle cx="582.8" cy="124.6" r="2.2"/>
<circle cx="583.2" cy="118.5" r="2.2"/>
<circle cx="583.5" cy="112.3" r="2.2"/>
<circle cx="583.9" cy="105.9" r="2.2"/>
<circle cx="584.3" cy="99.3" r="2.2"/>
<circle cx="584.7" cy="92.6" r="2.2"/>
<circle cx="585.0" cy="85.7" r="2.2"/>
<circle cx="585.4" cy="78.6" r="2.2"/>
<circle cx="585.8" cy="71.4" r="2.2"/>
<circle cx="586.3" cy="63.9" r="2.2"/>
<circle cx="586.7" cy="56.3" r="2.2"/>
<circle cx="587.1" cy="48.4" r="2.2"/>
<circle cx="587.6" cy="40.4" r="2.2"/>
<circle cx="588.1" cy="32.1" r="2.2"/>
<circle cx="588.9" cy="120.8" r="2.2"/>
<circle cx="589.3" cy="114.9" r="2.2"/>
<circle cx="589.7" cy="108.7" r="2.2"/>
<circle cx="590.2" cy="102.5" r="2.2"/>
<circle cx="590.6" cy="96.1" r="2.2"/>
<circle cx="591.0" cy="89.5" r="2.2"/>
<circle cx="591.5" cy="82.8" r="2.2"/>
<circle cx="592.0" cy="75.9" r="2.2"/>
<circle cx="592.4" cy="68.8" r="2.2"/>
<circle cx="592.9" cy="61.6" r="2.2"/>
<circle cx="593.4" cy="54.1" r="2.2"/>
<circle cx="594.0" cy="46.5" r="2.2"/>
<circle cx="594.5" cy="38.7" r="2.2"/>
<circle cx="595.0" cy="30.7" r="2.2"/>
<circle cx="524.0" cy="168.3" r="2.2"/>
<circle cx="523.5" cy="160.9" r="2.2"/>
<circle cx="523.1" cy="153.2" r="2.2"/>
<circle cx="522.6" cy="145.3" r="2.2"/>
<circle cx="522.1" cy="137.2" r="2.2"/>
<circle cx="521.5" cy="128.8" r="2.2"/>
<circle cx="521.0" cy="120.1" r="2.2"/>
<circle cx="520.4" cy="111.1" r="2.2"/>
<circle cx="519.9" cy="101.8" r="2.2"/>
<circle cx="519.3" cy="92.1" r="2.2"/>
<circle cx="518.6" cy="82.2" r="2.2"/>
<circle cx="518.0" cy="71.8" r="2.2"/>
<circle cx="517.3" cy="61.1" r="2.2"/>
<circle cx="516.6" cy="49.9" r="2.2"/>
<circle cx="534.1" cy="161.8" r="2.2"/>
<circle cx="533.8" cy="154.5" r="2.2"/>
<circle cx="533.5" cy="147.1" r="2.2"/>
<circle cx="533.2" cy="139.4" r="2.2"/>
<circle cx="532.8" cy="131.5" r="2.2"/>
<circle cx="532.5" cy="123.3" r="2.2"/>
<circle cx="532.2" cy="114.8" r="2.2"/>
<circle cx="531.8" cy="106.1" r="2.2"/>
<circle cx="531.4" cy="97.1" r="2.2"/>
<circle cx="531.1" cy="87.8" r="2.2"/>
<circle cx="530.7" cy="78.1" r="2.2"/>
<circle cx="530.3" cy="68.2" r="2.2"/>
<circle cx="529.9" cy="57.8" r="2.2"/>
<circle cx="529.4" cy="47.1" r="2.2"/>
<circle cx="543.4" cy="155.7" r="2.2"/>
<circle cx="543.3" cy="148.6" r="2.2"/>
<circle cx="543.1" cy="141.4" r="2.2"/>
<circle cx="543.0" cy="133.9" r="2.2"/>
<circle cx="542.8" cy="126.1" r="2.2"/>
<circle cx="542.6" cy="118.2" r="2.2"/>
<circle cx="542.5" cy="110.0" r="2.2"/>
<circle cx="542.3" cy="101.5" r="2.2"/>
<circle cx="542.1" cy="92.8" r="2.2"/>
<circle cx="541.9" cy="83.8" r="2.2"/>
<circle cx="541.7" cy="74.5" r="2.2"/>
<circle cx="541.5" cy="64.8" r="2.2"/>
<circle cx="541.3" cy="54.9" r="2.2"/>
<circle cx="541.1" cy="44.5" r="2.2"/>
<circle cx="552.2" cy="150.0" r="2.2"/>
<circle cx="552.1" cy="143.1" r="2.2"/>
<circle cx="552.1" cy="136.0" r="2.2"/>
<circle cx="552.1" cy="128.7" r="2.2"/>
<circle cx="552.1" cy="121.2" r="2.2"/>
<circle cx="552.1" cy="113.5" r="2.2"/>
<circle cx="552.0" cy="105.5" r="2.2"/>
<circle cx="552.0" cy="97.3" r="2.2"/>
<circle cx="552.0" cy="88.8" r="2.2"/>
<circle cx="552.0" cy="80.1" r="2.2"/>
<circle cx="551.9" cy="71.1" r="2.2"/>
<circle cx="551.9" cy="61.7" r="2.2"/>
<circle cx="551.9" cy="52.1" r="2.2"/>
<circle cx="551.9" cy="42.2" r="2.2"/>
<circle cx="560.3" cy="144.8" r="2.2"/>
<circle cx="560.4" cy="138.0" r="2.2"/>
<circle cx="560.5" cy="131.1" r="2.2"/>
<circle cx="560.6" cy="123.9" r="2.2"/>
<circle cx="560.7" cy="116.6" r="2.2"/>
<circle cx="560.8" cy="109.1" r="2.2"/>
<circle cx="560.9" cy="101.3" r="2.2"/>
<circle cx="561.0" cy="93.3" r="2.2"/>
<circle cx="561.1" cy="85.1" r="2.2"/>
<circle cx="561.3" cy="76.6" r="2.2"/>
<circle cx="561.4" cy="67.9" r="2.2"/>
<circle cx="561.5" cy="58.9" r="2.2"/>
<circle cx="561.6" cy="49.6" r="2.2"/>
<circle cx="561.8" cy="40.0" r="2.2"/>
<circle cx="568.0" cy="139.8" r="2.2"/>
<circle cx="568.2" cy="133.2" r="2.2"/>
<circle cx="568.4" cy="126.4" r="2.2"/>
<circle cx="568.6" cy="119.5" r="2.2"/>
<circle cx="568.8" cy="112.3" r="2.2"/>
<circle cx="569.0" cy="105.0" r="2.2"/>
<circle cx="569.2" cy="97.4" r="2.2"/>
<circle cx="569.4" cy="89.7" r="2.2"/>
<circle cx="569.7" cy="81.7" r="2.2"/>
<circle cx="569.9" cy="73.5" r="2.2"/>
<circle cx="570.1" cy="65.0" r="2.2"/>
<circle cx="570.4" cy="56.3" r="2.2"/>
<circle cx="570.6" cy="47.3" r="2.2"/>
<circle cx="570.9" cy="38.0" r="2.2"/>
<circle cx="575.2" cy="135.1" r="2.2"/>
<circle cx="575.5" cy="128.7" r="2.2"/>
<circle cx="575.7" cy="122.1" r="2.2"/>
<circle cx="576.0" cy="115.3" r="2.2"/>
<circle cx="576.3" cy="108.3" r="2.2"/>
<circle cx="576.6" cy="101.1" r="2.2"/>
<circle cx="576.9" cy="93.8" r="2.2"/>
<circle cx="577.3" cy="86.2" r="2.2"/>
<circle cx="577.6" cy="78.5" r="2.2"/>
<circle cx="577.9" cy="70.5" r="2.2"/>
<circle cx="578.3" cy="62.3" r="2.2"/>
<circle cx="578.6" cy="53.8" r="2.2"/>
<circle cx="579.0" cy="45.1" r="2.2"/>
<circle cx="579.4" cy="36.1" r="2.2"/>
<circle cx="582.0" cy="130.8" r="2.2"/>
<circle cx="582.3" cy="124.5" r="2.2"/>
<circle cx="582.7" cy="118.0" r="2.2"/>
<circle cx="583.0" cy="111.3" r="2.2"/>
<circle cx="583.4" cy="104.5" r="2.2"/>
<circle cx="583.8" cy="97.5" r="2.2"/>
<circle cx="584.2" cy="90.4" r="2.2"/>
<circle cx="584.6" cy="83.0" r="2.2"/>
<circle cx="585.0" cy="75.5" r="2.2"/>
<circle cx="585.4" cy="67.7" r="2.2"/>
<circle cx="585.9" cy="59.7" r="2.2"/>
<circle cx="586.3" cy="51.5" r="2.2"/>
<circle cx="586.8" cy="43.1" r="2.2"/>
<circle cx="587.3" cy="34.4" r="2.2"/>
<circle cx="588.3" cy="126.6" r="2.2"/>
<circle cx="588.8" cy="120.5" r="2.2"/>
<circle cx="589.2" cy="114.1" r="2.2"/>
<circle cx="589.6" cy="107.6" r="2.2"/>
<circle cx="590.1" cy="101.0" r="2.2"/>
<circle cx="590.5" cy="94.2" r="2.2"/>
<circle cx="591.0" cy="87.2" r="2.2"/>
<circle cx="591.5" cy="80.0" r="2.2"/>
<circle cx="592.0" cy="72.7" r="2.2"/>
<circle cx="592.5" cy="65.1" r="2.2"/>
<circle cx="593.0" cy="57.4" r="2.2"/>
<circle cx="593.5" cy="49.4" r="2.2"/>
<circle cx="594.1" cy="41.2" r="2.2"/>
<circle cx="594.6" cy="32.8" r="2.2"/>
<circle cx="594.4" cy="122.7" r="2.2"/>
<circle cx="594.8" cy="116.7" r="2.2"/>
<circle cx="595.3" cy="110.5" r="2.2"/>
<circle cx="595.8" cy="104.1" r="2.2"/>
<circle cx="596.3" cy="97.7" r="2.2"/>
<circle cx="596.8" cy="91.0" r="2.2"/>
<circle cx="597.4" cy="84.2" r="2.2"/>
<circle cx="597.9" cy="77.2" r="2.2"/>
<circle cx="598.5" cy="70.0" r="2.2"/>
<circle cx="599.1" cy="62.7" r="2.2"/>
<circle cx="599.7" cy="55.1" r="2.2"/>
<circle cx="600.3" cy="47.4" r="2.2"/>
<circle cx="600.9" cy="39.5" r="2.2"/>
<circle cx="601.5" cy="31.3" r="2.2"/>
<circle cx="530.1" cy="171.8" r="2.2"/>
<circle cx="529.7" cy="164.3" r="2.2"/>
<circle cx="529.3" cy="156.6" r="2.2"/>
<circle cx="528.9" cy="148.6" r="2.2"/>
<circle cx="528.5" cy="140.3" r="2.2"/>
<circle cx="528.1" cy="131.8" r="2.2"/>
<circle cx="527.6" cy="122.9" r="2.2"/>
<circle cx="527.2" cy="113.8" r="2.2"/>
<circle cx="526.7" cy="104.3" r="2.2"/>
<circle cx="526.2" cy="94.5" r="2.2"/>
<circle cx="525.7" cy="84.3" r="2.2"/>
<circle cx="525.2" cy="73.7" r="2.2"/>
<circle cx="524.6" cy="62.7" r="2.2"/>
<circle cx="524.1" cy="51.3" r="2.2"/>
<circle cx="540.1" cy="165.0" r="2.2"/>
<circle cx="539.9" cy="157.7" r="2.2"/>
<circle cx="539.7" cy="150.2" r="2.2"/>
<circle cx="539.5" cy="142.4" r="2.2"/>
<circle cx="539.2" cy="134.3" r="2.2"/>
<circle cx="539.0" cy="126.0" r="2.2"/>
<circle cx="538.8" cy="117.4" r="2.2"/>
<circle cx="538.5" cy="108.6" r="2.2"/>
<circle cx="538.3" cy="99.4" r="2.2"/>
<circle cx="538.0" cy="89.9" r="2.2"/>
<circle cx="537.7" cy="80.1" r="2.2"/>
<circle cx="537.4" cy="69.9" r="2.2"/>
<circle cx="537.1" cy="59.3" r="2.2"/>
<circle cx="536.8" cy="48.4" r="2.2"/>
<circle cx="549.4" cy="158.8" r="2.2"/>
<circle cx="549.4" cy="151.6" r="2.2"/>
<circle cx="549.3" cy="144.2" r="2.2"/>
<circle cx="549.3" cy="136.6" r="2.2"/>
<circle cx="549.2" cy="128.8" r="2.2"/>
<circle cx="549.1" cy="120.7" r="2.2"/>
<circle cx="549.0" cy="112.4" r="2.2"/>
<circle cx="549.0" cy="103.8" r="2.2"/>
<circle cx="548.9" cy="94.9" r="2.2"/>
<circle cx="548.8" cy="85.7" r="2.2"/>
<circle cx="548.7" cy="76.2" r="2.2"/>
<circle cx="548.7" cy="66.4" r="2.2"/>
<circle cx="548.6" cy="56.2" r="2.2"/>
<circle cx="548.5" cy="45.7" r="2.2"/>
<circle cx="558.1" cy="152.9" r="2.2"/>
<circle cx="558.2" cy="145.9" r="2.2"/>
<circle cx="558.3" cy="138.7" r="2.2"/>
<circle cx="558.3" cy="131.3" r="2.2"/>
<circle cx="558.4" cy="123.7" r="2.2"/>
<circle cx="558.5" cy="115.8" r="2.2"/>
<circle cx="558.6" cy="107.7" r="2.2"/>
<circle cx="558.6" cy="99.4" r="2.2"/>
<circle cx="558.7" cy="90.8" r="2.2"/>
<circle cx="558.8" cy="81.9" r="2.2"/>
<circle cx="558.9" cy="72.7" r="2.2"/>
<circle cx="559.0" cy="63.2" r="2.2"/>
<circle cx="559.1" cy="53.4" r="2.2"/>
<circle cx="559.2" cy="43.2" r="2.2"/>
<circle cx="566.3" cy="147.4" r="2.2"/>
<circle cx="566.4" cy="140.6" r="2.2"/>
<circle cx="566.6" cy="133.6" r="2.2"/>
<circle cx="566.8" cy="126.3" r="2.2"/>
<circle cx="567.0" cy="118.9" r="2.2"/>
<circle cx="567.2" cy="111.3" r="2.2"/>
<circle cx="567.4" cy="103.4" r="2.2"/>
<circle cx="567.6" cy="95.3" r="2.2"/>
<circle cx="567.8" cy="86.9" r="2.2"/>
<circle cx="568.0" cy="78.3" r="2.2"/>
<circle cx="568.3" cy="69.4" r="2.2"/>
<circle cx="568.5" cy="60.2" r="2.2"/>
<circle cx="568.7" cy="50.8" r="2.2"/>
<circle cx="569.0" cy="41.0" r="2.2"/>
<circle cx="573.9" cy="142.3" r="2.2"/>
<circle cx="574.1" cy="135.6" r="2.2"/>
<circle cx="574.4" cy="128.7" r="2.2"/>
<circle cx="574.7" cy="121.7" r="2.2"/>
<circle cx="575.0" cy="114.5" r="2.2"/>
<circle cx="575.3" cy="107.0" r="2.2"/>
<circle cx="575.6" cy="99.3" r="2.2"/>
<circle cx="575.9" cy="91.5" r="2.2"/>
<circle cx="576.2" cy="83.3" r="2.2"/>
<circle cx="576.6" cy="75.0" r="2.2"/>
<circle cx="576.9" cy="66.4" r="2.2"/>
<circle cx="577.3" cy="57.5" r="2.2"/>
<circle cx="577.7" cy="48.3" r="2.2"/>
<circle cx="578.0" cy="38.9" r="2.2"/>
<circle cx="581.0" cy="137.5" r="2.2"/>
<circle cx="581.3" cy="131.0" r="2.2"/>
<circle cx="581.7" cy="124.2" r="2.2"/>
<circle cx="582.1" cy="117.4" r="2.2"/>
<circle cx="582.5" cy="110.3" r="2.2"/>
<circle cx="582.9" cy="103.0" r="2.2"/>
<circle cx="583.3" cy="95.6" r="2.2"/>
<circle cx="583.7" cy="87.9" r="2.2"/>
<circle cx="584.1" cy="80.0" r="2.2"/>
<circle cx="584.5" cy="71.9" r="2.2"/>
<circle cx="585.0" cy="63.6" r="2.2"/>
<circle cx="585.5" cy="55.0" r="2.2"/>
<circle cx="585.9" cy="46.1" r="2.2"/>
<circle cx="586.4" cy="37.0" r="2.2"/>
<circle cx="587.7" cy="133.0" r="2.2"/>
<circle cx="588.1" cy="126.6" r="2.2"/>
<circle cx="588.6" cy="120.0" r="2.2"/>
<circle cx="589.0" cy="113.3" r="2.2"/>
<circle cx="589.5" cy="106.4" r="2.2"/>
<circle cx="589.9" cy="99.3" r="2.2"/>
<circle cx="590.4" cy="92.1" r="2.2"/>
<circle cx="590.9" cy="84.6" r="2.2"/>
<circle cx="591.4" cy="76.9" r="2.2"/>
<circle cx="592.0" cy="69.0" r="2.2"/>
<circle cx="592.5" cy="60.9" r="2.2"/>
<circle cx="593.1" cy="52.6" r="2.2"/>
<circle cx="593.6" cy="44.0" r="2.2"/>
<circle cx="594.2" cy="35.2" r="2.2"/>
<circle cx="594.0" cy="128.7" r="2.2"/>
<circle cx="594.5" cy="122.5" r="2.2"/>
<circle cx="595.0" cy="116.0" r="2.2"/>
<circle cx="595.5" cy="109.5" r="2.2"/>
<circle cx="596.0" cy="102.7" r="2.2"/>
<circle cx="596.6" cy="95.8" r="2.2"/>
<circle cx="597.1" cy="88.7" r="2.2"/>
<circle cx="597.7" cy="81.5" r="2.2"/>
<circle cx="598.3" cy="74.0" r="2.2"/>
<circle cx="598.9" cy="66.4" r="2.2"/>
<circle cx="599.5" cy="58.5" r="2.2"/>
<circle cx="600.2" cy="50.4" r="2.2"/>
<circle cx="600.8" cy="42.1" r="2.2"/>
<circle cx="601.5" cy="33.5" r="2.2"/>
<circle cx="600.0" cy="124.7" r="2.2"/>
<circle cx="600.5" cy="118.6" r="2.2"/>
<circle cx="601.1" cy="112.3" r="2.2"/>
<circle cx="601.6" cy="105.9" r="2.2"/>
<circle cx="602.2" cy="99.3" r="2.2"/>
<circle cx="602.8" cy="92.6" r="2.2"/>
<circle cx="603.5" cy="85.6" r="2.2"/>
<circle cx="604.1" cy="78.6" r="2.2"/>
<circle cx="604.7" cy="71.3" r="2.2"/>
<circle cx="605.4" cy="63.8" r="2.2"/>
<circle cx="606.1" cy="56.2" r="2.2"/>
<circle cx="606.8" cy="48.3" r="2.2"/>
<circle cx="607.5" cy="40.3" r="2.2"/>
<circle cx="608.3" cy="32.0" r="2.2"/>
<circle cx="536.4" cy="175.5" r="2.2"/>
<circle cx="536.1" cy="167.9" r="2.2"/>
<circle cx="535.8" cy="160.1" r="2.2"/>
<circle cx="535.5" cy="151.9" r="2.2"/>
<circle cx="535.2" cy="143.6" r="2.2"/>
<circle cx="534.9" cy="134.9" r="2.2"/>
<circle cx="534.6" cy="125.9" r="2.2"/>
<circle cx="534.2" cy="116.6" r="2.2"/>
<circle cx="533.9" cy="106.9" r="2.2"/>
<circle cx="533.5" cy="96.9" r="2.2"/>
<circle cx="533.1" cy="86.5" r="2.2"/>
<circle cx="532.7" cy="75.7" r="2.2"/>
<circle cx="532.3" cy="64.5" r="2.2"/>
<circle cx="531.9" cy="52.8" r="2.2"/>
<circle cx="546.4" cy="168.5" r="2.2"/>
<circle cx="546.3" cy="161.0" r="2.2"/>
<circle cx="546.2" cy="153.4" r="2.2"/>
<circle cx="546.1" cy="145.5" r="2.2"/>
<circle cx="545.9" cy="137.3" r="2.2"/>
<circle cx="545.8" cy="128.9" r="2.2"/>
<circle cx="545.7" cy="120.2" r="2.2"/>
<circle cx="545.5" cy="111.1" r="2.2"/>
<circle cx="545.4" cy="101.8" r="2.2"/>
<circle cx="545.3" cy="92.1" r="2.2"/>
<circle cx="545.1" cy="82.1" r="2.2"/>
<circle cx="545.0" cy="71.7" r="2.2"/>
<circle cx="544.8" cy="60.9" r="2.2"/>
<circle cx="544.6" cy="49.7" r="2.2"/>
<circle cx="555.7" cy="161.9" r="2.2"/>
<circle cx="555.7" cy="154.7" r="2.2"/>
<circle cx="555.8" cy="147.2" r="2.2"/>
<circle cx="555.8" cy="139.5" r="2.2"/>
<circle cx="555.8" cy="131.6" r="2.2"/>
<circle cx="555.9" cy="123.4" r="2.2"/>
<circle cx="555.9" cy="114.9" r="2.2"/>
<circle cx="555.9" cy="106.2" r="2.2"/>
<circle cx="556.0" cy="97.1" r="2.2"/>
<circle cx="556.0" cy="87.8" r="2.2"/>
<circle cx="556.1" cy="78.1" r="2.2"/>
<circle cx="556.1" cy="68.1" r="2.2"/>
<circle cx="556.2" cy="57.7" r="2.2"/>
<circle cx="556.2" cy="46.9" r="2.2"/>
<circle cx="564.3" cy="155.9" r="2.2"/>
<circle cx="564.5" cy="148.8" r="2.2"/>
<circle cx="564.6" cy="141.5" r="2.2"/>
<circle cx="564.8" cy="134.0" r="2.2"/>
<circle cx="565.0" cy="126.2" r="2.2"/>
<circle cx="565.2" cy="118.3" r="2.2"/>
<circle cx="565.3" cy="110.0" r="2.2"/>
<circle cx="565.5" cy="101.5" r="2.2"/>
<circle cx="565.7" cy="92.8" r="2.2"/>
<circle cx="565.9" cy="83.7" r="2.2"/>
<circle cx="566.1" cy="74.4" r="2.2"/>
<circle cx="566.3" cy="64.7" r="2.2"/>
<circle cx="566.6" cy="54.7" r="2.2"/>
<circle cx="566.8" cy="44.4" r="2.2"/>
<circle cx="572.4" cy="150.2" r="2.2"/>
<circle cx="572.7" cy="143.3" r="2.2"/>
<circle cx="572.9" cy="136.1" r="2.2"/>
<circle cx="573.2" cy="128.8" r="2.2"/>
<circle cx="573.5" cy="121.3" r="2.2"/>
<circle cx="573.8" cy="113.5" r="2.2"/>
<circle cx="574.1" cy="105.5" r="2.2"/>
<circle cx="574.4" cy="97.3" r="2.2"/>
<circle cx="574.7" cy="88.8" r="2.2"/>
<circle cx="575.1" cy="80.0" r="2.2"/>
<circle cx="575.4" cy="71.0" r="2.2"/>
<circle cx="575.8" cy="61.6" r="2.2"/>
<circle cx="576.1" cy="52.0" r="2.2"/>
<circle cx="576.5" cy="42.0" r="2.2"/>
<circle cx="579.9" cy="144.9" r="2.2"/>
<circle cx="580.3" cy="138.1" r="2.2"/>
<circle cx="580.7" cy="131.2" r="2.2"/>
<circle cx="581.0" cy="124.0" r="2.2"/>
<circle cx="581.4" cy="116.7" r="2.2"/>
<circle cx="581.8" cy="109.1" r="2.2"/>
<circle cx="582.2" cy="101.3" r="2.2"/>
<circle cx="582.7" cy="93.3" r="2.2"/>
<circle cx="583.1" cy="85.1" r="2.2"/>
<circle cx="583.5" cy="76.6" r="2.2"/>
<circle cx="584.0" cy="67.8" r="2.2"/>
<circle cx="584.5" cy="58.8" r="2.2"/>
<circle cx="585.0" cy="49.5" r="2.2"/>
<circle cx="585.5" cy="39.8" r="2.2"/>
<circle cx="587.0" cy="139.9" r="2.2"/>
<circle cx="587.4" cy="133.3" r="2.2"/>
<circle cx="587.9" cy="126.5" r="2.2"/>
<circle cx="588.3" cy="119.5" r="2.2"/>
<circle cx="588.8" cy="112.4" r="2.2"/>
<circle cx="589.3" cy="105.0" r="2.2"/>
<circle cx="589.8" cy="97.4" r="2.2"/>
<circle cx="590.3" cy="89.6" r="2.2"/>
<circle cx="590.9" cy="81.6" r="2.2"/>
<circle cx="591.4" cy="73.4" r="2.2"/>
<circle cx="592.0" cy="64.9" r="2.2"/>
<circle cx="592.5" cy="56.2" r="2.2"/>
<circle cx="593.1" cy="47.1" r="2.2"/>
<circle cx="593.8" cy="37.8" r="2.2"/>
<circle cx="593.6" cy="135.2" r="2.2"/>
<circle cx="594.1" cy="128.8" r="2.2"/>
<circle cx="594.7" cy="122.1" r="2.2"/>
<circle cx="595.2" cy="115.3" r="2.2"/>
<circle cx="595.7" cy="108.3" r="2.2"/>
<circle cx="596.3" cy="101.2" r="2.2"/>
<circle cx="596.9" cy="93.8" r="2.2"/>
<circle cx="597.5" cy="86.2" r="2.2"/>
<circle cx="598.1" cy="78.4" r="2.2"/>
<circle cx="598.7" cy="70.4" r="2.2"/>
<circle cx="599.4" cy="62.2" r="2.2"/>
<circle cx="600.0" cy="53.7" r="2.2"/>
<circle cx="600.7" cy="45.0" r="2.2"/>
<circle cx="601.4" cy="36.0" r="2.2"/>
<circle cx="599.9" cy="130.8" r="2.2"/>
<circle cx="600.4" cy="124.5" r="2.2"/>
<circle cx="601.0" cy="118.0" r="2.2"/>
<circle cx="601.6" cy="111.4" r="2.2"/>
<circle cx="602.2" cy="104.6" r="2.2"/>
<circle cx="602.9" cy="97.6" r="2.2"/>
<circle cx="603.5" cy="90.4" r="2.2"/>
<circle cx="604.2" cy="83.0" r="2.2"/>
<circle cx="604.9" cy="75.4" r="2.2"/>
<circle cx="605.6" cy="67.6" r="2.2"/>
<circle cx="606.3" cy="59.6" r="2.2"/>
<circle cx="607.0" cy="51.4" r="2.2"/>
<circle cx="607.8" cy="43.0" r="2.2"/>
<circle cx="608.6" cy="34.3" r="2.2"/>
<circle cx="605.7" cy="126.7" r="2.2"/>
<circle cx="606.4" cy="120.5" r="2.2"/>
<circle cx="607.0" cy="114.2" r="2.2"/>
<circle cx="607.7" cy="107.7" r="2.2"/>
<circle cx="608.3" cy="101.0" r="2.2"/>
<circle cx="609.0" cy="94.2" r="2.2"/>
<circle cx="609.7" cy="87.2" r="2.2"/>
<circle cx="610.5" cy="80.0" r="2.2"/>
<circle cx="611.2" cy="72.6" r="2.2"/>
<circle cx="612.0" cy="65.0" r="2.2"/>
<circle cx="612.7" cy="57.3" r="2.2"/>
<circle cx="613.5" cy="49.3" r="2.2"/>
<circle cx="614.4" cy="41.1" r="2.2"/>
<circle cx="615.2" cy="32.6" r="2.2"/>
<circle cx="543.0" cy="179.4" r="2.2"/>
<circle cx="542.8" cy="171.7" r="2.2"/>
<circle cx="542.6" cy="163.7" r="2.2"/>
<circle cx="542.5" cy="155.5" r="2.2"/>
<circle cx="542.3" cy="146.9" r="2.2"/>
<circle cx="542.1" cy="138.1" r="2.2"/>
<circle cx="541.9" cy="129.0" r="2.2"/>
<circle cx="541.6" cy="119.5" r="2.2"/>
<circle cx="541.4" cy="109.7" r="2.2"/>
<circle cx="541.2" cy="99.5" r="2.2"/>
<circle cx="540.9" cy="88.8" r="2.2"/>
<circle cx="540.7" cy="77.8" r="2.2"/>
<circle cx="540.4" cy="66.3" r="2.2"/>
<circle cx="540.2" cy="54.4" r="2.2"/>
<circle cx="553.0" cy="172.0" r="2.2"/>
<circle cx="553.0" cy="164.5" r="2.2"/>
<circle cx="552.9" cy="156.7" r="2.2"/>
<circle cx="552.9" cy="148.7" r="2.2"/>
<circle cx="552.9" cy="140.4" r="2.2"/>
<circle cx="552.9" cy="131.9" r="2.2"/>
<circle cx="552.9" cy="123.0" r="2.2"/>
<circle cx="552.9" cy="113.8" r="2.2"/>
<circle cx="552.9" cy="104.3" r="2.2"/>
<circle cx="552.9" cy="94.5" r="2.2"/>
<circle cx="552.8" cy="84.2" r="2.2"/>
<circle cx="552.8" cy="73.6" r="2.2"/>
<circle cx="552.8" cy="62.6" r="2.2"/>
<circle cx="552.8" cy="51.2" r="2.2"/>
<circle cx="562.2" cy="165.2" r="2.2"/>
<circle cx="562.3" cy="157.9" r="2.2"/>
<circle cx="562.5" cy="150.3" r="2.2"/>
<circle cx="562.6" cy="142.5" r="2.2"/>
<circle cx="562.7" cy="134.4" r="2.2"/>
<circle cx="562.9" cy="126.1" r="2.2"/>
<circle cx="563.0" cy="117.5" r="2.2"/>
<circle cx="563.2" cy="108.6" r="2.2"/>
<circle cx="563.4" cy="99.4" r="2.2"/>
<circle cx="563.5" cy="89.9" r="2.2"/>
<circle cx="563.7" cy="80.0" r="2.2"/>
<circle cx="563.9" cy="69.8" r="2.2"/>
<circle cx="564.1" cy="59.2" r="2.2"/>
<circle cx="564.3" cy="48.2" r="2.2"/>
<circle cx="570.8" cy="158.9" r="2.2"/>
<circle cx="571.0" cy="151.8" r="2.2"/>
<circle cx="571.3" cy="144.4" r="2.2"/>
<circle cx="571.5" cy="136.7" r="2.2"/>
<circle cx="571.8" cy="128.9" r="2.2"/>
<circle cx="572.1" cy="120.8" r="2.2"/>
<circle cx="572.4" cy="112.4" r="2.2"/>
<circle cx="572.7" cy="103.8" r="2.2"/>
<circle cx="573.0" cy="94.9" r="2.2"/>
<circle cx="573.4" cy="85.7" r="2.2"/>
<circle cx="573.7" cy="76.2" r="2.2"/>
<circle cx="574.0" cy="66.3" r="2.2"/>
<circle cx="574.4" cy="56.1" r="2.2"/>
<circle cx="574.8" cy="45.5" r="2.2"/>
<circle cx="578.8" cy="153.0" r="2.2"/>
<circle cx="579.1" cy="146.0" r="2.2"/>
<circle cx="579.5" cy="138.8" r="2.2"/>
<circle cx="579.9" cy="131.4" r="2.2"/>
<circle cx="580.3" cy="123.7" r="2.2"/>
<circle cx="580.7" cy="115.9" r="2.2"/>
<circle cx="581.1" cy="107.8" r="2.2"/>
<circle cx="581.5" cy="99.4" r="2.2"/>
<circle cx="581.9" cy="90.7" r="2.2"/>
<circle cx="582.4" cy="81.8" r="2.2"/>
<circle cx="582.9" cy="72.6" r="2.2"/>
<circle cx="583.4" cy="63.1" r="2.2"/>
<circle cx="583.9" cy="53.3" r="2.2"/>
<circle cx="584.4" cy="43.1" r="2.2"/>
<circle cx="586.2" cy="147.5" r="2.2"/>
<circle cx="586.7" cy="140.7" r="2.2"/>
<circle cx="587.1" cy="133.7" r="2.2"/>
<circle cx="587.6" cy="126.4" r="2.2"/>
<circle cx="588.1" cy="119.0" r="2.2"/>
<circle cx="588.6" cy="111.3" r="2.2"/>
<circle cx="589.1" cy="103.4" r="2.2"/>
<circle cx="589.6" cy="95.3" r="2.2"/>
<circle cx="590.2" cy="86.9" r="2.2"/>
<circle cx="590.8" cy="78.2" r="2.2"/>
<circle cx="591.4" cy="69.3" r="2.2"/>
<circle cx="592.0" cy="60.1" r="2.2"/>
<circle cx="592.6" cy="50.6" r="2.2"/>
<circle cx="593.2" cy="40.8" r="2.2"/>
<circle cx="593.2" cy="142.4" r="2.2"/>
<circle cx="593.7" cy="135.7" r="2.2"/>
<circle cx="594.3" cy="128.8" r="2.2"/>
<circle cx="594.8" cy="121.8" r="2.2"/>
<circle cx="595.4" cy="114.5" r="2.2"/>
<circle cx="596.0" cy="107.0" r="2.2"/>
<circle cx="596.6" cy="99.4" r="2.2"/>
<circle cx="597.2" cy="91.4" r="2.2"/>
<circle cx="597.9" cy="83.3" r="2.2"/>
<circle cx="598.5" cy="74.9" r="2.2"/>
<circle cx="599.2" cy="66.3" r="2.2"/>
<circle cx="599.9" cy="57.4" r="2.2"/>
<circle cx="600.6" cy="48.2" r="2.2"/>
<circle cx="601.4" cy="38.7" r="2.2"/>
<circle cx="599.7" cy="137.6" r="2.2"/>
<circle cx="600.3" cy="131.0" r="2.2"/>
<circle cx="601.0" cy="124.3" r="2.2"/>
<circle cx="601.6" cy="117.4" r="2.2"/>
<circle cx="602.2" cy="110.3" r="2.2"/>
<circle cx="602.9" cy="103.1" r="2.2"/>
<circle cx="603.6" cy="95.6" r="2.2"/>
<circle cx="604.3" cy="87.9" r="2.2"/>
<circle cx="605.0" cy="80.0" r="2.2"/>
<circle cx="605.7" cy="71.8" r="2.2"/>
<circle cx="606.5" cy="63.5" r="2.2"/>
<circle cx="607.3" cy="54.8" r="2.2"/>
<circle cx="608.1" cy="46.0" r="2.2"/>
<circle cx="608.9" cy="36.8" r="2.2"/>
<circle cx="605.9" cy="133.0" r="2.2"/>
<circle cx="606.6" cy="126.6" r="2.2"/>
<circle cx="607.2" cy="120.1" r="2.2"/>
<circle cx="607.9" cy="113.3" r="2.2"/>
<circle cx="608.6" cy="106.4" r="2.2"/>
<circle cx="609.4" cy="99.3" r="2.2"/>
<circle cx="610.1" cy="92.0" r="2.2"/>
<circle cx="610.9" cy="84.6" r="2.2"/>
<circle cx="611.7" cy="76.9" r="2.2"/>
<circle cx="612.5" cy="69.0" r="2.2"/>
<circle cx="613.3" cy="60.8" r="2.2"/>
<circle cx="614.2" cy="52.5" r="2.2"/>
<circle cx="615.0" cy="43.9" r="2.2"/>
<circle cx="615.9" cy="35.0" r="2.2"/>
<circle cx="611.7" cy="128.8" r="2.2"/>
<circle cx="612.4" cy="122.5" r="2.2"/>
<circle cx="613.1" cy="116.1" r="2.2"/>
<circle cx="613.9" cy="109.5" r="2.2"/>
<circle cx="614.6" cy="102.8" r="2.2"/>
<circle cx="615.4" cy="95.8" r="2.2"/>
<circle cx="616.2" cy="88.7" r="2.2"/>
<circle cx="617.0" cy="81.4" r="2.2"/>
<circle cx="617.9" cy="74.0" r="2.2"/>
<circle cx="618.7" cy="66.3" r="2.2"/>
<circle cx="619.6" cy="58.4" r="2.2"/>
<circle cx="620.6" cy="50.3" r="2.2"/>
<circle cx="621.5" cy="41.9" r="2.2"/>
<circle cx="622.5" cy="33.4" r="2.2"/>
<circle cx="549.9" cy="183.4" r="2.2"/>
<circle cx="549.8" cy="175.6" r="2.2"/>
<circle cx="549.8" cy="167.5" r="2.2"/>
<circle cx="549.7" cy="159.2" r="2.2"/>
<circle cx="549.6" cy="150.5" r="2.2"/>
<circle cx="549.6" cy="141.5" r="2.2"/>
<circle cx="549.5" cy="132.2" r="2.2"/>
<circle cx="549.4" cy="122.6" r="2.2"/>
<circle cx="549.3" cy="112.6" r="2.2"/>
<circle cx="549.2" cy="102.1" r="2.2"/>
<circle cx="549.2" cy="91.3" r="2.2"/>
<circle cx="549.1" cy="80.0" r="2.2"/>
<circle cx="549.0" cy="68.3" r="2.2"/>
<circle cx="548.9" cy="56.0" r="2.2"/>
<circle cx="559.8" cy="175.7" r="2.2"/>
<circle cx="559.9" cy="168.1" r="2.2"/>
<circle cx="560.0" cy="160.3" r="2.2"/>
<circle cx="560.1" cy="152.1" r="2.2"/>
<circle cx="560.2" cy="143.7" r="2.2"/>
<circle cx="560.3" cy="135.0" r="2.2"/>
<circle cx="560.5" cy="126.0" r="2.2"/>
<circle cx="560.6" cy="116.6" r="2.2"/>
<circle cx="560.7" cy="106.9" r="2.2"/>
<circle cx="560.8" cy="96.9" r="2.2"/>
<circle cx="561.0" cy="86.5" r="2.2"/>
<circle cx="561.1" cy="75.6" r="2.2"/>
<circle cx="561.3" cy="64.4" r="2.2"/>
<circle cx="561.4" cy="52.6" r="2.2"/>
<circle cx="568.9" cy="168.7" r="2.2"/>
<circle cx="569.2" cy="161.2" r="2.2"/>
<circle cx="569.4" cy="153.6" r="2.2"/>
<circle cx="569.7" cy="145.6" r="2.2"/>
<circle cx="570.0" cy="137.4" r="2.2"/>
<circle cx="570.2" cy="129.0" r="2.2"/>
<circle cx="570.5" cy="120.2" r="2.2"/>
<circle cx="570.8" cy="111.2" r="2.2"/>
<circle cx="571.1" cy="101.8" r="2.2"/>
<circle cx="571.4" cy="92.1" r="2.2"/>
<circle cx="571.8" cy="82.1" r="2.2"/>
<circle cx="572.1" cy="71.6" r="2.2"/>
<circle cx="572.4" cy="60.8" r="2.2"/>
<circle cx="572.8" cy="49.6" r="2.2"/>
<circle cx="577.4" cy="162.1" r="2.2"/>
<circle cx="577.8" cy="154.8" r="2.2"/>
<circle cx="578.2" cy="147.4" r="2.2"/>
<circle cx="578.6" cy="139.6" r="2.2"/>
<circle cx="579.0" cy="131.7" r="2.2"/>
<circle cx="579.4" cy="123.4" r="2.2"/>
<circle cx="579.8" cy="115.0" r="2.2"/>
<circle cx="580.2" cy="106.2" r="2.2"/>
<circle cx="580.7" cy="97.1" r="2.2"/>
<circle cx="581.1" cy="87.7" r="2.2"/>
<circle cx="581.6" cy="78.0" r="2.2"/>
<circle cx="582.1" cy="68.0" r="2.2"/>
<circle cx="582.6" cy="57.6" r="2.2"/>
<circle cx="583.2" cy="46.8" r="2.2"/>
<circle cx="585.3" cy="156.0" r="2.2"/>
<circle cx="585.8" cy="148.9" r="2.2"/>
<circle cx="586.3" cy="141.6" r="2.2"/>
<circle cx="586.8" cy="134.1" r="2.2"/>
<circle cx="587.3" cy="126.3" r="2.2"/>
<circle cx="587.8" cy="118.3" r="2.2"/>
<circle cx="588.3" cy="110.1" r="2.2"/>
<circle cx="588.9" cy="101.6" r="2.2"/>
<circle cx="589.5" cy="92.8" r="2.2"/>
<circle cx="590.1" cy="83.7" r="2.2"/>
<circle cx="590.7" cy="74.3" r="2.2"/>
<circle cx="591.3" cy="64.6" r="2.2"/>
<circle cx="592.0" cy="54.6" r="2.2"/>
<circle cx="592.6" cy="44.2" r="2.2"/>
<circle cx="592.7" cy="150.3" r="2.2"/>
<circle cx="593.3" cy="143.4" r="2.2"/>
<circle cx="593.8" cy="136.2" r="2.2"/>
<circle cx="594.4" cy="128.9" r="2.2"/>
<circle cx="595.0" cy="121.3" r="2.2"/>
<circle cx="595.6" cy="113.6" r="2.2"/>
<circle cx="596.3" cy="105.5" r="2.2"/>
<circle cx="596.9" cy="97.3" r="2.2"/>
<circle cx="597.6" cy="88.8" r="2.2"/>
<circle cx="598.3" cy="80.0" r="2.2"/>
<circle cx="599.0" cy="70.9" r="2.2"/>
<circle cx="599.8" cy="61.5" r="2.2"/>
<circle cx="600.5" cy="51.9" r="2.2"/>
<circle cx="601.3" cy="41.8" r="2.2"/>
<circle cx="599.6" cy="145.0" r="2.2"/>
<circle cx="600.2" cy="138.2" r="2.2"/>
<circle cx="600.9" cy="131.2" r="2.2"/>
<circle cx="601.5" cy="124.1" r="2.2"/>
<circle cx="602.2" cy="116.7" r="2.2"/>
<circle cx="602.9" cy="109.1" r="2.2"/>
<circle cx="603.6" cy="101.3" r="2.2"/>
<circle cx="604.4" cy="93.3" r="2.2"/>
<circle cx="605.1" cy="85.0" r="2.2"/>
<circle cx="605.9" cy="76.5" r="2.2"/>
<circle cx="606.7" cy="67.7" r="2.2"/>
<circle cx="607.6" cy="58.7" r="2.2"/>
<circle cx="608.4" cy="49.3" r="2.2"/>
<circle cx="609.3" cy="39.7" r="2.2"/>
<circle cx="606.1" cy="140.0" r="2.2"/>
<circle cx="606.8" cy="133.4" r="2.2"/>
<circle cx="607.5" cy="126.6" r="2.2"/>
<circle cx="608.2" cy="119.6" r="2.2"/>
<circle cx="608.9" cy="112.4" r="2.2"/>
<circle cx="609.7" cy="105.0" r="2.2"/>
<circle cx="610.5" cy="97.4" r="2.2"/>
<circle cx="611.3" cy="89.6" r="2.2"/>
<circle cx="612.2" cy="81.6" r="2.2"/>
<circle cx="613.0" cy="73.3" r="2.2"/>
<circle cx="613.9" cy="64.8" r="2.2"/>
<circle cx="614.8" cy="56.0" r="2.2"/>
<circle cx="615.8" cy="47.0" r="2.2"/>
<circle cx="616.7" cy="37.7" r="2.2"/>
<circle cx="612.1" cy="135.3" r="2.2"/>
<circle cx="612.9" cy="128.8" r="2.2"/>
<circle cx="613.6" cy="122.2" r="2.2"/>
<circle cx="614.4" cy="115.4" r="2.2"/>
<circle cx="615.2" cy="108.4" r="2.2"/>
<circle cx="616.1" cy="101.2" r="2.2"/>
<circle cx="616.9" cy="93.8" r="2.2"/>
<circle cx="617.8" cy="86.2" r="2.2"/>
<circle cx="618.7" cy="78.4" r="2.2"/>
<circle cx="619.6" cy="70.3" r="2.2"/>
<circle cx="620.6" cy="62.1" r="2.2"/>
<circle cx="621.6" cy="53.6" r="2.2"/>
<circle cx="622.6" cy="44.8" r="2.2"/>
<circle cx="623.6" cy="35.8" r="2.2"/>
<circle cx="617.8" cy="130.9" r="2.2"/>
<circle cx="618.6" cy="124.6" r="2.2"/>
<circle cx="619.4" cy="118.1" r="2.2"/>
<circle cx="620.3" cy="111.4" r="2.2"/>
<circle cx="621.1" cy="104.6" r="2.2"/>
<circle cx="622.0" cy="97.6" r="2.2"/>
<circle cx="622.9" cy="90.4" r="2.2"/>
<circle cx="623.8" cy="83.0" r="2.2"/>
<circle cx="624.8" cy="75.4" r="2.2"/>
<circle cx="625.8" cy="67.6" r="2.2"/>
<circle cx="626.8" cy="59.5" r="2.2"/>
<circle cx="627.8" cy="51.3" r="2.2"/>
<circle cx="628.9" cy="42.8" r="2.2"/>
<circle cx="630.0" cy="34.1" r="2.2"/>
<circle cx="557.1" cy="187.6" r="2.2"/>
<circle cx="557.1" cy="179.7" r="2.2"/>
<circle cx="557.2" cy="171.5" r="2.2"/>
<circle cx="557.3" cy="163.0" r="2.2"/>
<circle cx="557.3" cy="154.2" r="2.2"/>
<circle cx="557.4" cy="145.1" r="2.2"/>
<circle cx="557.5" cy="135.6" r="2.2"/>
<circle cx="557.6" cy="125.8" r="2.2"/>
<circle cx="557.6" cy="115.6" r="2.2"/>
<circle cx="557.7" cy="105.0" r="2.2"/>
<circle cx="557.8" cy="93.9" r="2.2"/>
<circle cx="557.9" cy="82.4" r="2.2"/>
<circle cx="558.0" cy="70.3" r="2.2"/>
<circle cx="558.1" cy="57.8" r="2.2"/>
<circle cx="566.9" cy="179.6" r="2.2"/>
<circle cx="567.1" cy="171.9" r="2.2"/>
<circle cx="567.4" cy="163.9" r="2.2"/>
<circle cx="567.6" cy="155.7" r="2.2"/>
<circle cx="567.8" cy="147.1" r="2.2"/>
<circle cx="568.1" cy="138.3" r="2.2"/>
<circle cx="568.4" cy="129.1" r="2.2"/>
<circle cx="568.6" cy="119.6" r="2.2"/>
<circle cx="568.9" cy="109.7" r="2.2"/>
<circle cx="569.2" cy="99.5" r="2.2"/>
<circle cx="569.5" cy="88.8" r="2.2"/>
<circle cx="569.8" cy="77.7" r="2.2"/>
<circle cx="570.2" cy="66.2" r="2.2"/>
<circle cx="570.5" cy="54.2" r="2.2"/>
<circle cx="576.0" cy="172.3" r="2.2"/>
<circle cx="576.3" cy="164.7" r="2.2"/>
<circle cx="576.7" cy="156.9" r="2.2"/>
<circle cx="577.1" cy="148.9" r="2.2"/>
<circle cx="577.5" cy="140.6" r="2.2"/>
<circle cx="577.9" cy="132.0" r="2.2"/>
<circle cx="578.3" cy="123.1" r="2.2"/>
<circle cx="578.8" cy="113.9" r="2.2"/>
<circle cx="579.2" cy="104.3" r="2.2"/>
<circle cx="579.7" cy="94.5" r="2.2"/>
<circle cx="580.2" cy="84.2" r="2.2"/>
<circle cx="580.7" cy="73.5" r="2.2"/>
<circle cx="581.2" cy="62.5" r="2.2"/>
<circle cx="581.7" cy="51.0" r="2.2"/>
<circle cx="584.4" cy="165.4" r="2.2"/>
<circle cx="584.9" cy="158.1" r="2.2"/>
<circle cx="585.4" cy="150.5" r="2.2"/>
<circle cx="585.9" cy="142.6" r="2.2"/>
<circle cx="586.4" cy="134.6" r="2.2"/>
<circle cx="586.9" cy="126.2" r="2.2"/>
<circle cx="587.5" cy="117.6" r="2.2"/>
<circle cx="588.0" cy="108.7" r="2.2"/>
<circle cx="588.6" cy="99.4" r="2.2"/>
<circle cx="589.3" cy="89.9" r="2.2"/>
<circle cx="589.9" cy="80.0" r="2.2"/>
<circle cx="590.6" cy="69.7" r="2.2"/>
<circle cx="591.2" cy="59.1" r="2.2"/>
<circle cx="592.0" cy="48.0" r="2.2"/>
<circle cx="592.2" cy="159.1" r="2.2"/>
<circle cx="592.8" cy="151.9" r="2.2"/>
<circle cx="593.4" cy="144.5" r="2.2"/>
<circle cx="594.0" cy="136.9" r="2.2"/>
<circle cx="594.6" cy="129.0" r="2.2"/>
<circle cx="595.2" cy="120.9" r="2.2"/>
<circle cx="595.9" cy="112.5" r="2.2"/>
<circle cx="596.6" cy="103.8" r="2.2"/>
<circle cx="597.3" cy="94.9" r="2.2"/>
<circle cx="598.1" cy="85.7" r="2.2"/>
<circle cx="598.8" cy="76.1" r="2.2"/>
<circle cx="599.6" cy="66.2" r="2.2"/>
<circle cx="600.4" cy="56.0" r="2.2"/>
<circle cx="601.3" cy="45.4" r="2.2"/>
<circle cx="599.5" cy="153.2" r="2.2"/>
<circle cx="600.1" cy="146.2" r="2.2"/>
<circle cx="600.8" cy="138.9" r="2.2"/>
<circle cx="601.5" cy="131.5" r="2.2"/>
<circle cx="602.2" cy="123.8" r="2.2"/>
<circle cx="603.0" cy="115.9" r="2.2"/>
<circle cx="603.7" cy="107.8" r="2.2"/>
<circle cx="604.5" cy="99.4" r="2.2"/>
<circle cx="605.3" cy="90.7" r="2.2"/>
<circle cx="606.2" cy="81.8" r="2.2"/>
<circle cx="607.0" cy="72.5" r="2.2"/>
<circle cx="607.9" cy="63.0" r="2.2"/>
<circle cx="608.8" cy="53.1" r="2.2"/>
<circle cx="609.8" cy="42.9" r="2.2"/>
<circle cx="606.3" cy="147.7" r="2.2"/>
<circle cx="607.0" cy="140.8" r="2.2"/>
<circle cx="607.7" cy="133.8" r="2.2"/>
<circle cx="608.5" cy="126.5" r="2.2"/>
<circle cx="609.3" cy="119.0" r="2.2"/>
<circle cx="610.1" cy="111.3" r="2.2"/>
<circle cx="611.0" cy="103.4" r="2.2"/>
<circle cx="611.8" cy="95.3" r="2.2"/>
<circle cx="612.7" cy="86.9" r="2.2"/>
<circle cx="613.6" cy="78.2" r="2.2"/>
<circle cx="614.6" cy="69.3" r="2.2"/>
<circle cx="615.6" cy="60.0" r="2.2"/>
<circle cx="616.6" cy="50.5" r="2.2"/>
<circle cx="617.6" cy="40.7" r="2.2"/>
<circle cx="612.6" cy="142.5" r="2.2"/>
<circle cx="613.4" cy="135.8" r="2.2"/>
<circle cx="614.2" cy="128.9" r="2.2"/>
<circle cx="615.1" cy="121.8" r="2.2"/>
<circle cx="615.9" cy="114.5" r="2.2"/>
<circle cx="616.8" cy="107.1" r="2.2"/>
<circle cx="617.7" cy="99.4" r="2.2"/>
<circle cx="618.6" cy="91.4" r="2.2"/>
<circle cx="619.6" cy="83.3" r="2.2"/>
<circle cx="620.6" cy="74.9" r="2.2"/>
<circle cx="621.6" cy="66.2" r="2.2"/>
<circle cx="622.7" cy="57.3" r="2.2"/>
<circle cx="623.7" cy="48.1" r="2.2"/>
<circle cx="624.9" cy="38.6" r="2.2"/>
<circle cx="618.6" cy="137.7" r="2.2"/>
<circle cx="619.4" cy="131.1" r="2.2"/>
<circle cx="620.3" cy="124.4" r="2.2"/>
<circle cx="621.2" cy="117.5" r="2.2"/>
<circle cx="622.1" cy="110.4" r="2.2"/>
<circle cx="623.0" cy="103.1" r="2.2"/>
<circle cx="624.0" cy="95.6" r="2.2"/>
<circle cx="625.0" cy="87.9" r="2.2"/>
<circle cx="626.0" cy="79.9" r="2.2"/>
<circle cx="627.0" cy="71.8" r="2.2"/>
<circle cx="628.1" cy="63.4" r="2.2"/>
<circle cx="629.2" cy="54.7" r="2.2"/>
<circle cx="630.4" cy="45.8" r="2.2"/>
<circle cx="631.6" cy="36.6" r="2.2"/>
<circle cx="624.2" cy="133.1" r="2.2"/>
<circle cx="625.1" cy="126.7" r="2.2"/>
<circle cx="626.0" cy="120.1" r="2.2"/>
<circle cx="626.9" cy="113.4" r="2.2"/>
<circle cx="627.9" cy="106.4" r="2.2"/>
<circle cx="628.9" cy="99.3" r="2.2"/>
<circle cx="629.9" cy="92.0" r="2.2"/>
<circle cx="630.9" cy="84.5" r="2.2"/>
<circle cx="632.0" cy="76.8" r="2.2"/>
<circle cx="633.1" cy="68.9" r="2.2"/>
<circle cx="634.2" cy="60.7" r="2.2"/>
<circle cx="635.4" cy="52.4" r="2.2"/>
<circle cx="636.5" cy="43.7" r="2.2"/>
<circle cx="637.8" cy="34.9" r="2.2"/>
<circle cx="564.6" cy="192.0" r="2.2"/>
<circle cx="564.8" cy="184.0" r="2.2"/>
<circle cx="565.0" cy="175.7" r="2.2"/>
<circle cx="565.2" cy="167.1" r="2.2"/>
<circle cx="565.4" cy="158.1" r="2.2"/>
<circle cx="565.7" cy="148.9" r="2.2"/>
<circle cx="565.9" cy="139.2" r="2.2"/>
<circle cx="566.1" cy="129.2" r="2.2"/>
<circle cx="566.4" cy="118.8" r="2.2"/>
<circle cx="566.7" cy="107.9" r="2.2"/>
<circle cx="566.9" cy="96.6" r="2.2"/>
<circle cx="567.2" cy="84.8" r="2.2"/>
<circle cx="567.5" cy="72.5" r="2.2"/>
<circle cx="567.8" cy="59.7" r="2.2"/>
<circle cx="574.3" cy="183.7" r="2.2"/>
<circle cx="574.7" cy="175.8" r="2.2"/>
<circle cx="575.1" cy="167.7" r="2.2"/>
<circle cx="575.4" cy="159.4" r="2.2"/>
<circle cx="575.8" cy="150.7" r="2.2"/>
<circle cx="576.2" cy="141.7" r="2.2"/>
<circle cx="576.7" cy="132.4" r="2.2"/>
<circle cx="577.1" cy="122.7" r="2.2"/>
<circle cx="577.5" cy="112.6" r="2.2"/>
<circle cx="578.0" cy="102.2" r="2.2"/>
<circle cx="578.5" cy="91.3" r="2.2"/>
<circle cx="579.0" cy="80.0" r="2.2"/>
<circle cx="579.6" cy="68.2" r="2.2"/>
<circle cx="580.1" cy="55.9" r="2.2"/>
<circle cx="583.3" cy="176.0" r="2.2"/>
<circle cx="583.8" cy="168.3" r="2.2"/>
<circle cx="584.3" cy="160.5" r="2.2"/>
<circle cx="584.8" cy="152.3" r="2.2"/>
<circle cx="585.4" cy="143.9" r="2.2"/>
<circle cx="585.9" cy="135.1" r="2.2"/>
<circle cx="586.5" cy="126.1" r="2.2"/>
<circle cx="587.1" cy="116.7" r="2.2"/>
<circle cx="587.7" cy="107.0" r="2.2"/>
<circle cx="588.3" cy="96.9" r="2.2"/>
<circle cx="589.0" cy="86.4" r="2.2"/>
<circle cx="589.7" cy="75.6" r="2.2"/>
<circle cx="590.4" cy="64.2" r="2.2"/>
<circle cx="591.2" cy="52.5" r="2.2"/>
<circle cx="591.6" cy="168.9" r="2.2"/>
<circle cx="592.2" cy="161.4" r="2.2"/>
<circle cx="592.8" cy="153.7" r="2.2"/>
<circle cx="593.5" cy="145.8" r="2.2"/>
<circle cx="594.1" cy="137.6" r="2.2"/>
<circle cx="594.8" cy="129.1" r="2.2"/>
<circle cx="595.5" cy="120.3" r="2.2"/>
<circle cx="596.2" cy="111.2" r="2.2"/>
<circle cx="597.0" cy="101.8" r="2.2"/>
<circle cx="597.8" cy="92.1" r="2.2"/>
<circle cx="598.6" cy="82.0" r="2.2"/>
<circle cx="599.4" cy="71.5" r="2.2"/>
<circle cx="600.3" cy="60.7" r="2.2"/>
<circle cx="601.2" cy="49.4" r="2.2"/>
<circle cx="599.3" cy="162.3" r="2.2"/>
<circle cx="600.0" cy="155.0" r="2.2"/>
<circle cx="600.7" cy="147.5" r="2.2"/>
<circle cx="601.5" cy="139.8" r="2.2"/>
<circle cx="602.2" cy="131.8" r="2.2"/>
<circle cx="603.0" cy="123.5" r="2.2"/>
<circle cx="603.8" cy="115.0" r="2.2"/>
<circle cx="604.6" cy="106.2" r="2.2"/>
<circle cx="605.5" cy="97.1" r="2.2"/>
<circle cx="606.4" cy="87.7" r="2.2"/>
<circle cx="607.3" cy="78.0" r="2.2"/>
<circle cx="608.3" cy="67.9" r="2.2"/>
<circle cx="609.3" cy="57.4" r="2.2"/>
<circle cx="610.3" cy="46.6" r="2.2"/>
<circle cx="606.5" cy="156.2" r="2.2"/>
<circle cx="607.2" cy="149.1" r="2.2"/>
<circle cx="608.0" cy="141.7" r="2.2"/>
<circle cx="608.9" cy="134.2" r="2.2"/>
<circle cx="609.7" cy="126.4" r="2.2"/>
<circle cx="610.6" cy="118.4" r="2.2"/>
<circle cx="611.5" cy="110.1" r="2.2"/>
<circle cx="612.4" cy="101.6" r="2.2"/>
<circle cx="613.4" cy="92.8" r="2.2"/>
<circle cx="614.3" cy="83.7" r="2.2"/>
<circle cx="615.4" cy="74.3" r="2.2"/>
<circle cx="616.4" cy="64.5" r="2.2"/>
<circle cx="617.5" cy="54.5" r="2.2"/>
<circle cx="618.6" cy="44.0" r="2.2"/>
<circle cx="613.2" cy="150.5" r="2.2"/>
<circle cx="614.0" cy="143.5" r="2.2"/>
<circle cx="614.9" cy="136.4" r="2.2"/>
<circle cx="615.7" cy="129.0" r="2.2"/>
<circle cx="616.7" cy="121.4" r="2.2"/>
<circle cx="617.6" cy="113.6" r="2.2"/>
<circle cx="618.6" cy="105.6" r="2.2"/>
<circle cx="619.6" cy="97.3" r="2.2"/>
<circle cx="620.6" cy="88.7" r="2.2"/>
<circle cx="621.7" cy="79.9" r="2.2"/>
<circle cx="622.8" cy="70.8" r="2.2"/>
<circle cx="623.9" cy="61.4" r="2.2"/>
<circle cx="625.1" cy="51.7" r="2.2"/>
<circle cx="626.3" cy="41.7" r="2.2"/>
<circle cx="619.4" cy="145.1" r="2.2"/>
<circle cx="620.3" cy="138.3" r="2.2"/>
<circle cx="621.2" cy="131.3" r="2.2"/>
<circle cx="622.2" cy="124.2" r="2.2"/>
<circle cx="623.1" cy="116.8" r="2.2"/>
<circle cx="624.1" cy="109.2" r="2.2"/>
<circle cx="625.2" cy="101.4" r="2.2"/>
<circle cx="626.2" cy="93.3" r="2.2"/>
<circle cx="627.3" cy="85.0" r="2.2"/>
<circle cx="628.5" cy="76.5" r="2.2"/>
<circle cx="629.6" cy="67.7" r="2.2"/>
<circle cx="630.8" cy="58.6" r="2.2"/>
<circle cx="632.1" cy="49.2" r="2.2"/>
<circle cx="633.3" cy="39.5" r="2.2"/>
<circle cx="625.2" cy="140.1" r="2.2"/>
<circle cx="626.2" cy="133.5" r="2.2"/>
<circle cx="627.2" cy="126.6" r="2.2"/>
<circle cx="628.2" cy="119.6" r="2.2"/>
<circle cx="629.2" cy="112.4" r="2.2"/>
<circle cx="630.2" cy="105.0" r="2.2"/>
<circle cx="631.3" cy="97.4" r="2.2"/>
<circle cx="632.4" cy="89.6" r="2.2"/>
<circle cx="633.6" cy="81.6" r="2.2"/>
<circle cx="634.8" cy="73.3" r="2.2"/>
<circle cx="636.0" cy="64.7" r="2.2"/>
<circle cx="637.2" cy="55.9" r="2.2"/>
<circle cx="638.5" cy="46.9" r="2.2"/>
<circle cx="639.8" cy="37.5" r="2.2"/>
<circle cx="630.7" cy="135.4" r="2.2"/>
<circle cx="631.7" cy="128.9" r="2.2"/>
<circle cx="632.7" cy="122.3" r="2.2"/>
<circle cx="633.8" cy="115.4" r="2.2"/>
<circle cx="634.8" cy="108.4" r="2.2"/>
<circle cx="635.9" cy="101.2" r="2.2"/>
<circle cx="637.1" cy="93.8" r="2.2"/>
<circle cx="638.2" cy="86.2" r="2.2"/>
<circle cx="639.4" cy="78.3" r="2.2"/>
<circle cx="640.6" cy="70.3" r="2.2"/>
<circle cx="641.9" cy="62.0" r="2.2"/>
<circle cx="643.2" cy="53.5" r="2.2"/>
<circle cx="644.5" cy="44.7" r="2.2"/>
<circle cx="645.9" cy="35.6" r="2.2"/>
<circle cx="572.5" cy="196.6" r="2.2"/>
<circle cx="572.8" cy="188.5" r="2.2"/>
<circle cx="573.2" cy="180.0" r="2.2"/>
<circle cx="573.5" cy="171.3" r="2.2"/>
<circle cx="573.9" cy="162.2" r="2.2"/>
<circle cx="574.3" cy="152.8" r="2.2"/>
<circle cx="574.7" cy="143.0" r="2.2"/>
<circle cx="575.2" cy="132.8" r="2.2"/>
<circle cx="575.6" cy="122.2" r="2.2"/>
<circle cx="576.1" cy="111.1" r="2.2"/>
<circle cx="576.6" cy="99.5" r="2.2"/>
<circle cx="577.1" cy="87.5" r="2.2"/>
<circle cx="577.6" cy="74.8" r="2.2"/>
<circle cx="578.2" cy="61.6" r="2.2"/>
<circle cx="582.1" cy="187.9" r="2.2"/>
<circle cx="582.6" cy="180.0" r="2.2"/>
<circle cx="583.1" cy="171.7" r="2.2"/>
<circle cx="583.6" cy="163.2" r="2.2"/>
<circle cx="584.2" cy="154.4" r="2.2"/>
<circle cx="584.8" cy="145.3" r="2.2"/>
<circle cx="585.4" cy="135.8" r="2.2"/>
<circle cx="586.0" cy="125.9" r="2.2"/>
<circle cx="586.6" cy="115.7" r="2.2"/>
<circle cx="587.3" cy="105.0" r="2.2"/>
<circle cx="588.0" cy="93.9" r="2.2"/>
<circle cx="588.7" cy="82.3" r="2.2"/>
<circle cx="589.5" cy="70.2" r="2.2"/>
<circle cx="590.3" cy="57.6" r="2.2"/>
<circle cx="591.0" cy="179.9" r="2.2"/>
<circle cx="591.6" cy="172.1" r="2.2"/>
<circle cx="592.2" cy="164.1" r="2.2"/>
<circle cx="592.9" cy="155.8" r="2.2"/>
<circle cx="593.6" cy="147.3" r="2.2"/>
<circle cx="594.3" cy="138.4" r="2.2"/>
<circle cx="595.0" cy="129.2" r="2.2"/>
<circle cx="595.8" cy="119.7" r="2.2"/>
<circle cx="596.6" cy="109.8" r="2.2"/>
<circle cx="597.4" cy="99.5" r="2.2"/>
<circle cx="598.3" cy="88.8" r="2.2"/>
<circle cx="599.2" cy="77.7" r="2.2"/>
<circle cx="600.1" cy="66.1" r="2.2"/>
<circle cx="601.1" cy="54.1" r="2.2"/>
<circle cx="599.1" cy="172.5" r="2.2"/>
<circle cx="599.9" cy="164.9" r="2.2"/>
<circle cx="600.6" cy="157.1" r="2.2"/>
<circle cx="601.4" cy="149.1" r="2.2"/>
<circle cx="602.2" cy="140.7" r="2.2"/>
<circle cx="603.0" cy="132.1" r="2.2"/>
<circle cx="603.9" cy="123.2" r="2.2"/>
<circle cx="604.8" cy="113.9" r="2.2"/>
<circle cx="605.7" cy="104.4" r="2.2"/>
<circle cx="606.7" cy="94.4" r="2.2"/>
<circle cx="607.7" cy="84.2" r="2.2"/>
<circle cx="608.7" cy="73.5" r="2.2"/>
<circle cx="609.8" cy="62.4" r="2.2"/>
<circle cx="610.9" cy="50.8" r="2.2"/>
<circle cx="606.7" cy="165.6" r="2.2"/>
<circle cx="607.5" cy="158.2" r="2.2"/>
<circle cx="608.4" cy="150.6" r="2.2"/>
<circle cx="609.3" cy="142.8" r="2.2"/>
<circle cx="610.2" cy="134.7" r="2.2"/>
<circle cx="611.1" cy="126.3" r="2.2"/>
<circle cx="612.0" cy="117.6" r="2.2"/>
<circle cx="613.0" cy="108.7" r="2.2"/>
<circle cx="614.1" cy="99.4" r="2.2"/>
<circle cx="615.1" cy="89.8" r="2.2"/>
<circle cx="616.2" cy="79.9" r="2.2"/>
<circle cx="617.4" cy="69.6" r="2.2"/>
<circle cx="618.6" cy="59.0" r="2.2"/>
<circle cx="619.8" cy="47.9" r="2.2"/>
<circle cx="613.8" cy="159.3" r="2.2"/>
<circle cx="614.6" cy="152.1" r="2.2"/>
<circle cx="615.6" cy="144.6" r="2.2"/>
<circle cx="616.5" cy="137.0" r="2.2"/>
<circle cx="617.5" cy="129.1" r="2.2"/>
<circle cx="618.5" cy="120.9" r="2.2"/>
<circle cx="619.6" cy="112.5" r="2.2"/>
<circle cx="620.6" cy="103.9" r="2.2"/>
<circle cx="621.7" cy="94.9" r="2.2"/>
<circle cx="622.9" cy="85.6" r="2.2"/>
<circle cx="624.1" cy="76.0" r="2.2"/>
<circle cx="625.3" cy="66.1" r="2.2"/>
<circle cx="626.6" cy="55.8" r="2.2"/>
<circle cx="627.9" cy="45.2" r="2.2"/>
<circle cx="620.3" cy="153.3" r="2.2"/>
<circle cx="621.3" cy="146.3" r="2.2"/>
<circle cx="622.2" cy="139.0" r="2.2"/>
<circle cx="623.3" cy="131.6" r="2.2"/>
<circle cx="624.3" cy="123.9" r="2.2"/>
<circle cx="625.4" cy="116.0" r="2.2"/>
<circle cx="626.5" cy="107.8" r="2.2"/>
<circle cx="627.6" cy="99.4" r="2.2"/>
<circle cx="628.8" cy="90.7" r="2.2"/>
<circle cx="630.0" cy="81.7" r="2.2"/>
<circle cx="631.3" cy="72.5" r="2.2"/>
<circle cx="632.6" cy="62.9" r="2.2"/>
<circle cx="634.0" cy="53.0" r="2.2"/>
<circle cx="635.4" cy="42.7" r="2.2"/>
<circle cx="626.4" cy="147.8" r="2.2"/>
<circle cx="627.4" cy="140.9" r="2.2"/>
<circle cx="628.5" cy="133.9" r="2.2"/>
<circle cx="629.5" cy="126.6" r="2.2"/>
<circle cx="630.6" cy="119.1" r="2.2"/>
<circle cx="631.8" cy="111.4" r="2.2"/>
<circle cx="632.9" cy="103.4" r="2.2"/>
<circle cx="634.1" cy="95.3" r="2.2"/>
<circle cx="635.4" cy="86.8" r="2.2"/>
<circle cx="636.7" cy="78.1" r="2.2"/>
<circle cx="638.0" cy="69.2" r="2.2"/>
<circle cx="639.3" cy="59.9" r="2.2"/>
<circle cx="640.7" cy="50.4" r="2.2"/>
<circle cx="642.2" cy="40.5" r="2.2"/>
<circle cx="632.1" cy="142.6" r="2.2"/>
<circle cx="633.2" cy="135.9" r="2.2"/>
<circle cx="634.3" cy="129.0" r="2.2"/>
<circle cx="635.4" cy="121.9" r="2.2"/>
<circle cx="636.5" cy="114.6" r="2.2"/>
<circle cx="637.7" cy="107.1" r="2.2"/>
<circle cx="638.9" cy="99.4" r="2.2"/>
<circle cx="640.2" cy="91.4" r="2.2"/>
<circle cx="641.5" cy="83.2" r="2.2"/>
<circle cx="642.8" cy="74.8" r="2.2"/>
<circle cx="644.1" cy="66.1" r="2.2"/>
<circle cx="645.5" cy="57.2" r="2.2"/>
<circle cx="647.0" cy="47.9" r="2.2"/>
<circle cx="648.5" cy="38.4" r="2.2"/>
<circle cx="637.5" cy="137.8" r="2.2"/>
<circle cx="638.6" cy="131.2" r="2.2"/>
<circle cx="639.7" cy="124.4" r="2.2"/>
<circle cx="640.9" cy="117.5" r="2.2"/>
<circle cx="642.1" cy="110.4" r="2.2"/>
<circle cx="643.3" cy="103.1" r="2.2"/>
<circle cx="644.5" cy="95.6" r="2.2"/>
<circle cx="645.8" cy="87.8" r="2.2"/>
<circle cx="647.1" cy="79.9" r="2.2"/>
<circle cx="648.5" cy="71.7" r="2.2"/>
<circle cx="649.9" cy="63.3" r="2.2"/>
<circle cx="651.3" cy="54.6" r="2.2"/>
<circle cx="652.8" cy="45.7" r="2.2"/>
<circle cx="654.3" cy="36.5" r="2.2"/>
<circle cx="580.7" cy="201.4" r="2.2"/>
<circle cx="581.2" cy="193.2" r="2.2"/>
<circle cx="581.8" cy="184.6" r="2.2"/>
<circle cx="582.3" cy="175.8" r="2.2"/>
<circle cx="582.9" cy="166.6" r="2.2"/>
<circle cx="583.5" cy="157.0" r="2.2"/>
<circle cx="584.1" cy="147.0" r="2.2"/>
<circle cx="584.7" cy="136.6" r="2.2"/>
<circle cx="585.4" cy="125.7" r="2.2"/>
<circle cx="586.1" cy="114.4" r="2.2"/>
<circle cx="586.8" cy="102.6" r="2.2"/>
<circle cx="587.6" cy="90.2" r="2.2"/>
<circle cx="588.3" cy="77.3" r="2.2"/>
<circle cx="589.2" cy="63.7" r="2.2"/>
<circle cx="590.2" cy="192.3" r="2.2"/>
<circle cx="590.9" cy="184.3" r="2.2"/>
<circle cx="591.5" cy="175.9" r="2.2"/>
<circle cx="592.3" cy="167.3" r="2.2"/>
<circle cx="593.0" cy="158.3" r="2.2"/>
<circle cx="593.7" cy="149.0" r="2.2"/>
<circle cx="594.5" cy="139.4" r="2.2"/>
<circle cx="595.3" cy="129.3" r="2.2"/>
<circle cx="596.2" cy="118.9" r="2.2"/>
<circle cx="597.1" cy="108.0" r="2.2"/>
<circle cx="598.0" cy="96.6" r="2.2"/>
<circle cx="598.9" cy="84.8" r="2.2"/>
<circle cx="600.0" cy="72.4" r="2.2"/>
<circle cx="601.0" cy="59.5" r="2.2"/>
<circle cx="598.9" cy="183.9" r="2.2"/>
<circle cx="599.7" cy="176.1" r="2.2"/>
<circle cx="600.5" cy="168.0" r="2.2"/>
<circle cx="601.3" cy="159.6" r="2.2"/>
<circle cx="602.2" cy="150.9" r="2.2"/>
<circle cx="603.1" cy="141.8" r="2.2"/>
<circle cx="604.0" cy="132.5" r="2.2"/>
<circle cx="605.0" cy="122.8" r="2.2"/>
<circle cx="606.0" cy="112.7" r="2.2"/>
<circle cx="607.0" cy="102.2" r="2.2"/>
<circle cx="608.1" cy="91.3" r="2.2"/>
<circle cx="609.2" cy="79.9" r="2.2"/>
<circle cx="610.4" cy="68.1" r="2.2"/>
<circle cx="611.6" cy="55.7" r="2.2"/>
<circle cx="607.0" cy="176.2" r="2.2"/>
<circle cx="607.9" cy="168.6" r="2.2"/>
<circle cx="608.8" cy="160.6" r="2.2"/>
<circle cx="609.7" cy="152.5" r="2.2"/>
<circle cx="610.7" cy="144.0" r="2.2"/>
<circle cx="611.7" cy="135.2" r="2.2"/>
<circle cx="612.7" cy="126.2" r="2.2"/>
<circle cx="613.8" cy="116.8" r="2.2"/>
<circle cx="614.9" cy="107.0" r="2.2"/>
<circle cx="616.0" cy="96.9" r="2.2"/>
<circle cx="617.2" cy="86.4" r="2.2"/>
<circle cx="618.5" cy="75.5" r="2.2"/>
<circle cx="619.8" cy="64.1" r="2.2"/>
<circle cx="621.1" cy="52.3" r="2.2"/>
<circle cx="614.4" cy="169.1" r="2.2"/>
<circle cx="615.4" cy="161.6" r="2.2"/>
<circle cx="616.4" cy="153.9" r="2.2"/>
<circle cx="617.4" cy="145.9" r="2.2"/>
<circle cx="618.4" cy="137.7" r="2.2"/>
<circle cx="619.5" cy="129.2" r="2.2"/>
<circle cx="620.7" cy="120.4" r="2.2"/>
<circle cx="621.8" cy="111.3" r="2.2"/>
<circle cx="623.0" cy="101.9" r="2.2"/>
<circle cx="624.3" cy="92.1" r="2.2"/>
<circle cx="625.6" cy="82.0" r="2.2"/>
<circle cx="626.9" cy="71.5" r="2.2"/>
<circle cx="628.3" cy="60.6" r="2.2"/>
<circle cx="629.8" cy="49.2" r="2.2"/>
<circle cx="621.3" cy="162.5" r="2.2"/>
<circle cx="622.3" cy="155.2" r="2.2"/>
<circle cx="623.4" cy="147.6" r="2.2"/>
<circle cx="624.5" cy="139.9" r="2.2"/>
<circle cx="625.6" cy="131.9" r="2.2"/>
<circle cx="626.8" cy="123.6" r="2.2"/>
<circle cx="628.0" cy="115.1" r="2.2"/>
<circle cx="629.2" cy="106.2" r="2.2"/>
<circle cx="630.5" cy="97.1" r="2.2"/>
<circle cx="631.8" cy="87.7" r="2.2"/>
<circle cx="633.2" cy="77.9" r="2.2"/>
<circle cx="634.6" cy="67.8" r="2.2"/>
<circle cx="636.1" cy="57.3" r="2.2"/>
<circle cx="637.6" cy="46.4" r="2.2"/>
<circle cx="627.7" cy="156.3" r="2.2"/>
<circle cx="628.8" cy="149.2" r="2.2"/>
<circle cx="629.9" cy="141.9" r="2.2"/>
<circle cx="631.1" cy="134.3" r="2.2"/>
<circle cx="632.3" cy="126.5" r="2.2"/>
<circle cx="633.5" cy="118.4" r="2.2"/>
<circle cx="634.7" cy="110.2" r="2.2"/>
<circle cx="636.0" cy="101.6" r="2.2"/>
<circle cx="637.4" cy="92.8" r="2.2"/>
<circle cx="638.8" cy="83.6" r="2.2"/>
<circle cx="640.2" cy="74.2" r="2.2"/>
<circle cx="641.7" cy="64.4" r="2.2"/>
<circle cx="643.2" cy="54.3" r="2.2"/>
<circle cx="644.8" cy="43.9" r="2.2"/>
<circle cx="633.7" cy="150.6" r="2.2"/>
<circle cx="634.8" cy="143.6" r="2.2"/>
<circle cx="636.0" cy="136.5" r="2.2"/>
<circle cx="637.2" cy="129.1" r="2.2"/>
<circle cx="638.4" cy="121.5" r="2.2"/>
<circle cx="639.7" cy="113.7" r="2.2"/>
<circle cx="641.0" cy="105.6" r="2.2"/>
<circle cx="642.4" cy="97.3" r="2.2"/>
<circle cx="643.7" cy="88.7" r="2.2"/>
<circle cx="645.2" cy="79.9" r="2.2"/>
<circle cx="646.7" cy="70.7" r="2.2"/>
<circle cx="648.2" cy="61.3" r="2.2"/>
<circle cx="649.8" cy="51.6" r="2.2"/>
<circle cx="651.4" cy="41.5" r="2.2"/>
<circle cx="639.3" cy="145.2" r="2.2"/>
<circle cx="640.5" cy="138.4" r="2.2"/>
<circle cx="641.7" cy="131.4" r="2.2"/>
<circle cx="642.9" cy="124.2" r="2.2"/>
<circle cx="644.2" cy="116.8" r="2.2"/>
<circle cx="645.5" cy="109.2" r="2.2"/>
<circle cx="646.8" cy="101.4" r="2.2"/>
<circle cx="648.2" cy="93.3" r="2.2"/>
<circle cx="649.6" cy="85.0" r="2.2"/>
<circle cx="651.1" cy="76.4" r="2.2"/>
<circle cx="652.6" cy="67.6" r="2.2"/>
<circle cx="654.2" cy="58.5" r="2.2"/>
<circle cx="655.8" cy="49.0" r="2.2"/>
<circle cx="657.5" cy="39.3" r="2.2"/>
<circle cx="644.5" cy="140.2" r="2.2"/>
<circle cx="645.7" cy="133.6" r="2.2"/>
<circle cx="647.0" cy="126.7" r="2.2"/>
<circle cx="648.2" cy="119.7" r="2.2"/>
<circle cx="649.5" cy="112.5" r="2.2"/>
<circle cx="650.9" cy="105.1" r="2.2"/>
<circle cx="652.2" cy="97.4" r="2.2"/>
<circle cx="653.7" cy="89.6" r="2.2"/>
<circle cx="655.1" cy="81.5" r="2.2"/>
<circle cx="656.6" cy="73.2" r="2.2"/>
<circle cx="658.2" cy="64.6" r="2.2"/>
<circle cx="659.8" cy="55.8" r="2.2"/>
<circle cx="661.4" cy="46.7" r="2.2"/>
<circle cx="663.1" cy="37.3" r="2.2"/>
<circle cx="589.4" cy="206.5" r="2.2"/>
<circle cx="590.1" cy="198.1" r="2.2"/>
<circle cx="590.8" cy="189.5" r="2.2"/>
<circle cx="591.5" cy="180.5" r="2.2"/>
<circle cx="592.3" cy="171.1" r="2.2"/>
<circle cx="593.1" cy="161.3" r="2.2"/>
<circle cx="593.9" cy="151.2" r="2.2"/>
<circle cx="594.8" cy="140.6" r="2.2"/>
<circle cx="595.7" cy="129.5" r="2.2"/>
<circle cx="596.6" cy="117.9" r="2.2"/>
<circle cx="597.6" cy="105.8" r="2.2"/>
<circle cx="598.7" cy="93.2" r="2.2"/>
<circle cx="599.7" cy="79.9" r="2.2"/>
<circle cx="600.9" cy="66.0" r="2.2"/>
<circle cx="598.7" cy="196.9" r="2.2"/>
<circle cx="599.5" cy="188.8" r="2.2"/>
<circle cx="600.4" cy="180.3" r="2.2"/>
<circle cx="601.3" cy="171.6" r="2.2"/>
<circle cx="602.2" cy="162.5" r="2.2"/>
<circle cx="603.2" cy="153.0" r="2.2"/>
<circle cx="604.1" cy="143.2" r="2.2"/>
<circle cx="605.2" cy="132.9" r="2.2"/>
<circle cx="606.3" cy="122.3" r="2.2"/>
<circle cx="607.4" cy="111.2" r="2.2"/>
<circle cx="608.6" cy="99.5" r="2.2"/>
<circle cx="609.8" cy="87.4" r="2.2"/>
<circle cx="611.1" cy="74.7" r="2.2"/>
<circle cx="612.4" cy="61.5" r="2.2"/>
<circle cx="607.3" cy="188.2" r="2.2"/>
<circle cx="608.2" cy="180.2" r="2.2"/>
<circle cx="609.2" cy="172.0" r="2.2"/>
<circle cx="610.2" cy="163.5" r="2.2"/>
<circle cx="611.2" cy="154.6" r="2.2"/>
<circle cx="612.3" cy="145.4" r="2.2"/>
<circle cx="613.4" cy="135.9" r="2.2"/>
<circle cx="614.6" cy="126.0" r="2.2"/>
<circle cx="615.8" cy="115.7" r="2.2"/>
<circle cx="617.1" cy="105.0" r="2.2"/>
<circle cx="618.4" cy="93.9" r="2.2"/>
<circle cx="619.8" cy="82.3" r="2.2"/>
<circle cx="621.2" cy="70.1" r="2.2"/>
<circle cx="622.7" cy="57.5" r="2.2"/>
<circle cx="615.2" cy="180.1" r="2.2"/>
<circle cx="616.2" cy="172.4" r="2.2"/>
<circle cx="617.3" cy="164.3" r="2.2"/>
<circle cx="618.4" cy="156.0" r="2.2"/>
<circle cx="619.5" cy="147.4" r="2.2"/>
<circle cx="620.7" cy="138.5" r="2.2"/>
<circle cx="621.9" cy="129.3" r="2.2"/>
<circle cx="623.2" cy="119.7" r="2.2"/>
<circle cx="624.5" cy="109.8" r="2.2"/>
<circle cx="625.9" cy="99.5" r="2.2"/>
<circle cx="627.3" cy="88.8" r="2.2"/>
<circle cx="628.8" cy="77.6" r="2.2"/>
<circle cx="630.3" cy="66.0" r="2.2"/>
<circle cx="631.9" cy="53.9" r="2.2"/>
<circle cx="622.4" cy="172.7" r="2.2"/>
<circle cx="623.5" cy="165.1" r="2.2"/>
<circle cx="624.7" cy="157.3" r="2.2"/>
<circle cx="625.9" cy="149.2" r="2.2"/>
<circle cx="627.1" cy="140.9" r="2.2"/>
<circle cx="628.4" cy="132.2" r="2.2"/>
<circle cx="629.7" cy="123.3" r="2.2"/>
<circle cx="631.0" cy="114.0" r="2.2"/>
<circle cx="632.4" cy="104.4" r="2.2"/>
<circle cx="633.9" cy="94.4" r="2.2"/>
<circle cx="635.4" cy="84.1" r="2.2"/>
<circle cx="636.9" cy="73.4" r="2.2"/>
<circle cx="638.6" cy="62.2" r="2.2"/>
<circle cx="640.3" cy="50.7" r="2.2"/>
<circle cx="629.2" cy="165.8" r="2.2"/>
<circle cx="630.3" cy="158.4" r="2.2"/>
<circle cx="631.5" cy="150.8" r="2.2"/>
<circle cx="632.8" cy="142.9" r="2.2"/>
<circle cx="634.1" cy="134.8" r="2.2"/>
<circle cx="635.4" cy="126.4" r="2.2"/>
<circle cx="636.8" cy="117.7" r="2.2"/>
<circle cx="638.2" cy="108.7" r="2.2"/>
<circle cx="639.7" cy="99.4" r="2.2"/>
<circle cx="641.2" cy="89.8" r="2.2"/>
<circle cx="642.8" cy="79.9" r="2.2"/>
<circle cx="644.4" cy="69.5" r="2.2"/>
<circle cx="646.1" cy="58.8" r="2.2"/>
<circle cx="647.8" cy="47.7" r="2.2"/>
<circle cx="635.4" cy="159.4" r="2.2"/>
<circle cx="636.6" cy="152.2" r="2.2"/>
<circle cx="637.9" cy="144.8" r="2.2"/>
<circle cx="639.2" cy="137.1" r="2.2"/>
<circle cx="640.5" cy="129.2" r="2.2"/>
<circle cx="641.9" cy="121.0" r="2.2"/>
<circle cx="643.3" cy="112.6" r="2.2"/>
<circle cx="644.8" cy="103.9" r="2.2"/>
<circle cx="646.3" cy="94.9" r="2.2"/>
<circle cx="647.9" cy="85.6" r="2.2"/>
<circle cx="649.5" cy="76.0" r="2.2"/>
<circle cx="651.2" cy="66.0" r="2.2"/>
<circle cx="652.9" cy="55.7" r="2.2"/>
<circle cx="654.8" cy="45.0" r="2.2"/>
<circle cx="641.2" cy="153.5" r="2.2"/>
<circle cx="642.5" cy="146.4" r="2.2"/>
<circle cx="643.8" cy="139.2" r="2.2"/>
<circle cx="645.1" cy="131.7" r="2.2"/>
<circle cx="646.5" cy="124.0" r="2.2"/>
<circle cx="647.9" cy="116.0" r="2.2"/>
<circle cx="649.4" cy="107.9" r="2.2"/>
<circle cx="650.9" cy="99.4" r="2.2"/>
<circle cx="652.5" cy="90.7" r="2.2"/>
<circle cx="654.1" cy="81.7" r="2.2"/>
<circle cx="655.7" cy="72.4" r="2.2"/>
<circle cx="657.5" cy="62.8" r="2.2"/>
<circle cx="659.2" cy="52.8" r="2.2"/>
<circle cx="661.1" cy="42.6" r="2.2"/>
<circle cx="646.7" cy="147.9" r="2.2"/>
<circle cx="648.0" cy="141.0" r="2.2"/>
<circle cx="649.3" cy="133.9" r="2.2"/>
<circle cx="650.7" cy="126.7" r="2.2"/>
<circle cx="652.1" cy="119.1" r="2.2"/>
<circle cx="653.5" cy="111.4" r="2.2"/>
<circle cx="655.0" cy="103.5" r="2.2"/>
<circle cx="656.6" cy="95.3" r="2.2"/>
<circle cx="658.2" cy="86.8" r="2.2"/>
<circle cx="659.8" cy="78.1" r="2.2"/>
<circle cx="661.5" cy="69.1" r="2.2"/>
<circle cx="663.2" cy="59.8" r="2.2"/>
<circle cx="665.0" cy="50.2" r="2.2"/>
<circle cx="666.9" cy="40.3" r="2.2"/>
<circle cx="651.8" cy="142.7" r="2.2"/>
<circle cx="653.1" cy="136.0" r="2.2"/>
<circle cx="654.4" cy="129.1" r="2.2"/>
<circle cx="655.8" cy="122.0" r="2.2"/>
<circle cx="657.3" cy="114.6" r="2.2"/>
<circle cx="658.7" cy="107.1" r="2.2"/>
<circle cx="660.3" cy="99.4" r="2.2"/>
<circle cx="661.8" cy="91.4" r="2.2"/>
<circle cx="663.4" cy="83.2" r="2.2"/>
<circle cx="665.1" cy="74.7" r="2.2"/>
<circle cx="666.8" cy="66.0" r="2.2"/>
<circle cx="668.6" cy="57.1" r="2.2"/>
<circle cx="670.4" cy="47.8" r="2.2"/>
<circle cx="672.2" cy="38.2" r="2.2"/>
<circle cx="598.5" cy="211.8" r="2.2"/>
<circle cx="599.3" cy="203.3" r="2.2"/>
<circle cx="600.3" cy="194.5" r="2.2"/>
<circle cx="601.2" cy="185.4" r="2.2"/>
<circle cx="602.2" cy="175.9" r="2.2"/>
<circle cx="603.2" cy="166.0" r="2.2"/>
<circle cx="604.3" cy="155.6" r="2.2"/>
<circle cx="605.4" cy="144.8" r="2.2"/>
<circle cx="606.6" cy="133.5" r="2.2"/>
<circle cx="607.8" cy="121.7" r="2.2"/>
<circle cx="609.1" cy="109.3" r="2.2"/>
<circle cx="610.5" cy="96.3" r="2.2"/>
<circle cx="611.9" cy="82.7" r="2.2"/>
<circle cx="613.4" cy="68.3" r="2.2"/>
<circle cx="607.6" cy="201.8" r="2.2"/>
<circle cx="608.6" cy="193.5" r="2.2"/>
<circle cx="609.7" cy="184.9" r="2.2"/>
<circle cx="610.8" cy="176.1" r="2.2"/>
<circle cx="611.9" cy="166.8" r="2.2"/>
<circle cx="613.1" cy="157.2" r="2.2"/>
<circle cx="614.3" cy="147.2" r="2.2"/>
<circle cx="615.6" cy="136.7" r="2.2"/>
<circle cx="616.9" cy="125.9" r="2.2"/>
<circle cx="618.3" cy="114.5" r="2.2"/>
<circle cx="619.7" cy="102.6" r="2.2"/>
<circle cx="621.3" cy="90.2" r="2.2"/>
<circle cx="622.9" cy="77.2" r="2.2"/>
<circle cx="624.5" cy="63.6" r="2.2"/>
<circle cx="616.0" cy="192.6" r="2.2"/>
<circle cx="617.1" cy="184.6" r="2.2"/>
<circle cx="618.3" cy="176.2" r="2.2"/>
<circle cx="619.5" cy="167.5" r="2.2"/>
<circle cx="620.7" cy="158.6" r="2.2"/>
<circle cx="622.0" cy="149.2" r="2.2"/>
<circle cx="623.3" cy="139.5" r="2.2"/>
<circle cx="624.7" cy="129.5" r="2.2"/>
<circle cx="626.2" cy="119.0" r="2.2"/>
<circle cx="627.7" cy="108.0" r="2.2"/>
<circle cx="629.3" cy="96.6" r="2.2"/>
<circle cx="630.9" cy="84.8" r="2.2"/>
<circle cx="632.6" cy="72.3" r="2.2"/>
<circle cx="634.4" cy="59.4" r="2.2"/>
<circle cx="623.7" cy="184.2" r="2.2"/>
<circle cx="624.9" cy="176.3" r="2.2"/>
<circle cx="626.1" cy="168.2" r="2.2"/>
<circle cx="627.4" cy="159.8" r="2.2"/>
<circle cx="628.8" cy="151.0" r="2.2"/>
<circle cx="630.1" cy="142.0" r="2.2"/>
<circle cx="631.6" cy="132.6" r="2.2"/>
<circle cx="633.1" cy="122.9" r="2.2"/>
<circle cx="634.6" cy="112.7" r="2.2"/>
<circle cx="636.2" cy="102.2" r="2.2"/>
<circle cx="637.9" cy="91.3" r="2.2"/>
<circle cx="639.6" cy="79.8" r="2.2"/>
<circle cx="641.4" cy="68.0" r="2.2"/>
<circle cx="643.3" cy="55.6" r="2.2"/>
<circle cx="630.8" cy="176.5" r="2.2"/>
<circle cx="632.1" cy="168.8" r="2.2"/>
<circle cx="633.4" cy="160.8" r="2.2"/>
<circle cx="634.7" cy="152.6" r="2.2"/>
<circle cx="636.1" cy="144.2" r="2.2"/>
<circle cx="637.6" cy="135.4" r="2.2"/>
<circle cx="639.1" cy="126.3" r="2.2"/>
<circle cx="640.6" cy="116.8" r="2.2"/>
<circle cx="642.3" cy="107.1" r="2.2"/>
<circle cx="643.9" cy="96.9" r="2.2"/>
<circle cx="645.7" cy="86.4" r="2.2"/>
<circle cx="647.5" cy="75.4" r="2.2"/>
<circle cx="649.4" cy="64.0" r="2.2"/>
<circle cx="651.3" cy="52.1" r="2.2"/>
<circle cx="637.3" cy="169.3" r="2.2"/>
<circle cx="638.7" cy="161.8" r="2.2"/>
<circle cx="640.0" cy="154.1" r="2.2"/>
<circle cx="641.4" cy="146.1" r="2.2"/>
<circle cx="642.9" cy="137.8" r="2.2"/>
<circle cx="644.4" cy="129.3" r="2.2"/>
<circle cx="646.0" cy="120.5" r="2.2"/>
<circle cx="647.6" cy="111.3" r="2.2"/>
<circle cx="649.2" cy="101.9" r="2.2"/>
<circle cx="651.0" cy="92.1" r="2.2"/>
<circle cx="652.8" cy="81.9" r="2.2"/>
<circle cx="654.6" cy="71.4" r="2.2"/>
<circle cx="656.6" cy="60.4" r="2.2"/>
<circle cx="658.6" cy="49.1" r="2.2"/>
<circle cx="643.4" cy="162.7" r="2.2"/>
<circle cx="644.8" cy="155.3" r="2.2"/>
<circle cx="646.2" cy="147.8" r="2.2"/>
<circle cx="647.7" cy="140.0" r="2.2"/>
<circle cx="649.2" cy="132.0" r="2.2"/>
<circle cx="650.7" cy="123.7" r="2.2"/>
<circle cx="652.3" cy="115.1" r="2.2"/>
<circle cx="654.0" cy="106.3" r="2.2"/>
<circle cx="655.7" cy="97.1" r="2.2"/>
<circle cx="657.4" cy="87.7" r="2.2"/>
<circle cx="659.3" cy="77.8" r="2.2"/>
<circle cx="661.2" cy="67.7" r="2.2"/>
<circle cx="663.1" cy="57.2" r="2.2"/>
<circle cx="665.2" cy="46.2" r="2.2"/>
<circle cx="649.1" cy="156.5" r="2.2"/>
<circle cx="650.5" cy="149.3" r="2.2"/>
<circle cx="651.9" cy="142.0" r="2.2"/>
<circle cx="653.4" cy="134.4" r="2.2"/>
<circle cx="654.9" cy="126.6" r="2.2"/>
<circle cx="656.5" cy="118.5" r="2.2"/>
<circle cx="658.1" cy="110.2" r="2.2"/>
<circle cx="659.8" cy="101.6" r="2.2"/>
<circle cx="661.6" cy="92.7" r="2.2"/>
<circle cx="663.4" cy="83.6" r="2.2"/>
<circle cx="665.2" cy="74.1" r="2.2"/>
<circle cx="667.1" cy="64.3" r="2.2"/>
<circle cx="669.1" cy="54.2" r="2.2"/>
<circle cx="671.2" cy="43.7" r="2.2"/>
<circle cx="654.3" cy="150.7" r="2.2"/>
<circle cx="655.8" cy="143.8" r="2.2"/>
<circle cx="657.2" cy="136.6" r="2.2"/>
<circle cx="658.8" cy="129.2" r="2.2"/>
<circle cx="660.3" cy="121.6" r="2.2"/>
<circle cx="661.9" cy="113.7" r="2.2"/>
<circle cx="663.6" cy="105.6" r="2.2"/>
<circle cx="665.3" cy="97.3" r="2.2"/>
<circle cx="667.0" cy="88.7" r="2.2"/>
<circle cx="668.8" cy="79.8" r="2.2"/>
<circle cx="670.7" cy="70.7" r="2.2"/>
<circle cx="672.6" cy="61.2" r="2.2"/>
<circle cx="674.6" cy="51.4" r="2.2"/>
<circle cx="676.7" cy="41.3" r="2.2"/>
<circle cx="659.3" cy="145.4" r="2.2"/>
<circle cx="660.7" cy="138.5" r="2.2"/>
<circle cx="662.2" cy="131.5" r="2.2"/>
<circle cx="663.7" cy="124.3" r="2.2"/>
<circle cx="665.3" cy="116.9" r="2.2"/>
<circle cx="666.9" cy="109.2" r="2.2"/>
<circle cx="668.6" cy="101.4" r="2.2"/>
<circle cx="670.3" cy="93.3" r="2.2"/>
<circle cx="672.1" cy="85.0" r="2.2"/>
<circle cx="673.9" cy="76.4" r="2.2"/>
<circle cx="675.8" cy="67.5" r="2.2"/>
<circle cx="677.7" cy="58.3" r="2.2"/>
<circle cx="679.7" cy="48.9" r="2.2"/>
<circle cx="681.8" cy="39.2" r="2.2"/>
</g>
<g fill="#e8454a" fill-opacity="0.30">
<circle cx="634.4" cy="72.8" r="2.15"/>
<circle cx="637.6" cy="79.9" r="2.15"/>
<circle cx="631.5" cy="82.9" r="2.15"/>
<circle cx="626" cy="87.5" r="2.15"/>
<circle cx="622.4" cy="91.8" r="2.15"/>
<circle cx="618.9" cy="94.3" r="2.15"/>
<circle cx="626.9" cy="95.7" r="2.15"/>
<circle cx="630.6" cy="96.9" r="2.15"/>
<circle cx="630.3" cy="99.4" r="2.15"/>
<circle cx="636.4" cy="94.3" r="2.15"/>
<circle cx="635.9" cy="97.6" r="2.15"/>
<circle cx="623.1" cy="96.9" r="2.15"/>
<circle cx="623.1" cy="100.6" r="2.15"/>
<circle cx="638.9" cy="100.6" r="2.15"/>
<circle cx="608.8" cy="104.4" r="2.15"/>
<circle cx="628.4" cy="104.4" r="2.15"/>
<circle cx="631.4" cy="104" r="2.15"/>
<circle cx="616.3" cy="109.4" r="2.15"/>
<circle cx="620.1" cy="107" r="2.15"/>
<circle cx="624.6" cy="109.7" r="2.15"/>
<circle cx="633.2" cy="108.5" r="2.15"/>
<circle cx="637" cy="107.1" r="2.15"/>
<circle cx="628.4" cy="111.5" r="2.15"/>
<circle cx="624.6" cy="114.9" r="2.15"/>
<circle cx="628.8" cy="117.7" r="2.15"/>
<circle cx="629.9" cy="121" r="2.15"/>
<circle cx="634.4" cy="118.7" r="2.15"/>
<circle cx="622.1" cy="121.4" r="2.15"/>
<circle cx="543.2" cy="125.1" r="2.15"/>
<circle cx="557.5" cy="129.6" r="2.15"/>
<circle cx="544.3" cy="134.1" r="2.15"/>
<circle cx="549.3" cy="134.1" r="2.15"/>
<circle cx="557.8" cy="135.6" r="2.15"/>
<circle cx="560.1" cy="134.8" r="2.15"/>
<circle cx="548.8" cy="139.4" r="2.15"/>
<circle cx="566.1" cy="140.1" r="2.15"/>
<circle cx="561.6" cy="144.3" r="2.15"/>
<circle cx="570.6" cy="144.3" r="2.15"/>
<circle cx="566.1" cy="144.9" r="2.15"/>
<circle cx="577.4" cy="143.9" r="2.15"/>
<circle cx="581.9" cy="147.6" r="2.15"/>
<circle cx="587.7" cy="147.3" r="2.15"/>
<circle cx="591.7" cy="145.8" r="2.15"/>
<circle cx="569.9" cy="148.8" r="2.15"/>
<circle cx="565.4" cy="150.3" r="2.15"/>
<circle cx="560.9" cy="152.1" r="2.15"/>
<circle cx="579.7" cy="154.4" r="2.15"/>
<circle cx="570.6" cy="154.9" r="2.15"/>
<circle cx="566.1" cy="155.2" r="2.15"/>
<circle cx="556.3" cy="156.4" r="2.15"/>
<circle cx="580.9" cy="156.7" r="2.15"/>
<circle cx="572.1" cy="158.5" r="2.15"/>
<circle cx="594.4" cy="158.9" r="2.15"/>
<circle cx="564.3" cy="160.4" r="2.15"/>
<circle cx="571.4" cy="164.5" r="2.15"/>
<circle cx="591" cy="163.4" r="2.15"/>
<circle cx="596.2" cy="134.1" r="2.15"/>
<circle cx="598.5" cy="137.1" r="2.15"/>
<circle cx="588" cy="152.1" r="2.15"/>
<circle cx="622.4" cy="121.7" r="2.15"/>
<circle cx="634.1" cy="118.7" r="2.15"/>
<circle cx="598.3" cy="131.1" r="2.15"/>
<circle cx="605.8" cy="133.3" r="2.15"/>
<circle cx="596" cy="134.8" r="2.15"/>
<circle cx="603.2" cy="137.1" r="2.15"/>
<circle cx="608.8" cy="138.3" r="2.15"/>
<circle cx="612.6" cy="137.8" r="2.15"/>
<circle cx="622.4" cy="137.4" r="2.15"/>
<circle cx="618.6" cy="140.9" r="2.15"/>
<circle cx="620.9" cy="144.3" r="2.15"/>
<circle cx="635.9" cy="140.1" r="2.15"/>
<circle cx="614.1" cy="143.1" r="2.15"/>
<circle cx="610.3" cy="145.8" r="2.15"/>
<circle cx="616.3" cy="146.9" r="2.15"/>
<circle cx="605.1" cy="146.9" r="2.15"/>
<circle cx="600.5" cy="144.9" r="2.15"/>
<circle cx="591.5" cy="146.1" r="2.15"/>
<circle cx="608.1" cy="150.3" r="2.15"/>
<circle cx="613.3" cy="151.8" r="2.15"/>
<circle cx="602" cy="152.1" r="2.15"/>
<circle cx="620.1" cy="152.9" r="2.15"/>
<circle cx="594.2" cy="158.9" r="2.15"/>
<circle cx="600.5" cy="158.2" r="2.15"/>
<circle cx="606.6" cy="156.7" r="2.15"/>
<circle cx="590.8" cy="166.4" r="2.15"/>
<circle cx="626.9" cy="116" r="2.15"/>
<circle cx="628.4" cy="118.3" r="2.15"/>
<circle cx="624.6" cy="114.5" r="2.15"/>
<circle cx="630.3" cy="98.3" r="2.15"/>
<circle cx="629.4" cy="96.2" r="2.15"/>
<circle cx="628.9" cy="117.6" r="2.15"/>
<circle cx="624.6" cy="110" r="2.15"/>
<circle cx="618.9" cy="94.6" r="2.15"/>
</g>
<polyline points="622,132.3 615.1,137.5 608,143 600,148.9 591.3,155.6 583.4,151.7 575.5,148 567.7,144.9 567.7,152.6 560.6,149.3 553.8,145.9 547.2,142.8 541,139.8 541,147.3 531.7,152.6" fill="none" stroke="#2a8a3a" stroke-width="0.9"/>
<circle cx="622" cy="132.3" r="2.25" fill="#137a2e"/>
<circle cx="615.1" cy="137.5" r="2.25" fill="#137a2e"/>
<circle cx="608" cy="143" r="2.25" fill="#137a2e"/>
<circle cx="600" cy="148.9" r="2.25" fill="#137a2e"/>
<circle cx="591.3" cy="155.6" r="2.25" fill="#137a2e"/>
<circle cx="583.4" cy="151.7" r="2.25" fill="#137a2e"/>
<circle cx="575.5" cy="148" r="2.25" fill="#137a2e"/>
<circle cx="567.7" cy="144.9" r="2.25" fill="#137a2e"/>
<circle cx="567.7" cy="152.6" r="2.25" fill="#137a2e"/>
<circle cx="560.6" cy="149.3" r="2.25" fill="#137a2e"/>
<circle cx="553.8" cy="145.9" r="2.25" fill="#137a2e"/>
<circle cx="547.2" cy="142.8" r="2.25" fill="#137a2e"/>
<circle cx="541" cy="139.8" r="2.25" fill="#137a2e"/>
<circle cx="541" cy="147.3" r="2.25" fill="#137a2e"/>
<circle cx="531.7" cy="152.6" r="2.25" fill="#137a2e"/>
<text x="484.8" y="43.5" font-size="8.2" text-anchor="end">10</text>
<text x="488" y="77.6" font-size="8.2" text-anchor="end">5</text>
<text x="492.4" y="110.1" font-size="8.2" text-anchor="end">0</text>
<text x="495.3" y="137.3" font-size="8.2" text-anchor="end">-5</text>
<text x="499.6" y="163.3" font-size="8.2" text-anchor="end">-10</text>
<text x="516.4" y="176.7" font-size="8.2" text-anchor="middle">-5</text>
<text x="538.4" y="190.6" font-size="8.2" text-anchor="middle">0</text>
<text x="563.5" y="205.9" font-size="8.2" text-anchor="middle">5</text>
<text x="591.6" y="223.2" font-size="8.2" text-anchor="middle">10</text>
<text x="605.5" y="223.2" font-size="8.2" text-anchor="middle">-10</text>
<text x="623" y="203.4" font-size="8.2" text-anchor="middle">-5</text>
<text x="639.4" y="185.6" font-size="8.2" text-anchor="middle">0</text>
<text x="652" y="170.8" font-size="8.2" text-anchor="middle">5</text>
<text x="664.6" y="157" font-size="8.2" text-anchor="middle">10</text>
<text x="480.2" y="123.8" font-size="12.5" text-anchor="middle">X3</text>
<text x="517.8" y="207.8" font-size="12.5" text-anchor="middle">X1</text>
<text x="654" y="198.9" font-size="12.5" text-anchor="middle">X2</text>
<rect x="590.1" y="26.6" width="95" height="37" fill="rgba(255,255,255,0.85)"/>
<circle cx="601.1" cy="31.4" r="2.9" fill="#dc4a32"/>
<circle cx="601.1" cy="43.8" r="2.9" fill="#808080"/>
<line x1="593" y1="56.5" x2="609.2" y2="56.5" stroke="#2a9a3c" stroke-width="1.6"/>
<circle cx="601.1" cy="56.5" r="2.9" fill="#2a9a3c"/>
<text x="611.8" y="35.4" font-size="10.0" text-anchor="start" textLength="48.78" lengthAdjust="spacingAndGlyphs">Actual data</text>
<text x="611.8" y="46.8" font-size="10.0" text-anchor="start" textLength="66.13" lengthAdjust="spacingAndGlyphs">Searched node</text>
<text x="611.8" y="59.5" font-size="10.0" text-anchor="start" textLength="55.27" lengthAdjust="spacingAndGlyphs">Optimal path</text>
<text x="629.7" y="134" font-size="9.8" text-anchor="start">Initial</text>
<text x="510.6" y="164" font-size="9.7" text-anchor="start">Destination</text>
<polygon points="485.21,274.68 568.28,252.3 682.51,266.02 653.41,374.38 606.57,447.8 500.01,390.91" fill="#e5ebf4"/>
<g stroke="#ffffff" stroke-opacity="0.45" stroke-width="0.8">
<line x1="519.79" y1="376.62" x2="511.93" y2="267.48"/>
<line x1="497.01" y1="367.32" x2="565.43" y2="324.44"/>
<line x1="583.8" y1="350.7" x2="592.03" y2="255.15"/>
<line x1="565.43" y1="324.44" x2="659.44" y2="351.94"/>
<line x1="521.75" y1="402.52" x2="583.8" y2="350.7"/>
<line x1="519.79" y1="376.62" x2="621.62" y2="424.22"/>
<line x1="536.82" y1="364.31" x2="533.99" y2="261.54"/>
<line x1="493.6" y1="340.57" x2="566.29" y2="302.75"/>
<line x1="604.78" y1="357.84" x2="618.6" y2="258.34"/>
<line x1="566.29" y1="302.75" x2="666.2" y2="326.77"/>
<line x1="546.33" y1="415.64" x2="604.78" y2="357.84"/>
<line x1="536.82" y1="364.31" x2="634.05" y2="404.73"/>
<line x1="551.63" y1="353.6" x2="552.51" y2="256.55"/>
<line x1="489.71" y1="309.99" x2="567.23" y2="278.82"/>
<line x1="627.87" y1="365.7" x2="648.54" y2="261.94"/>
<line x1="567.23" y1="278.82" x2="673.83" y2="298.35"/>
<line x1="574.35" y1="430.6" x2="627.87" y2="365.7"/>
<line x1="551.63" y1="353.6" x2="644.5" y2="388.35"/>
</g>
<g class="lat">
<circle cx="506.2" cy="390.9" r="2.2"/>
<circle cx="505.5" cy="384.3" r="2.2"/>
<circle cx="504.7" cy="377.5" r="2.2"/>
<circle cx="503.9" cy="370.4" r="2.2"/>
<circle cx="503.1" cy="363.1" r="2.2"/>
<circle cx="502.3" cy="355.5" r="2.2"/>
<circle cx="501.4" cy="347.6" r="2.2"/>
<circle cx="500.5" cy="339.4" r="2.2"/>
<circle cx="499.5" cy="330.9" r="2.2"/>
<circle cx="498.6" cy="322.0" r="2.2"/>
<circle cx="497.5" cy="312.8" r="2.2"/>
<circle cx="496.5" cy="303.1" r="2.2"/>
<circle cx="495.4" cy="293.1" r="2.2"/>
<circle cx="494.2" cy="282.6" r="2.2"/>
<circle cx="515.1" cy="384.3" r="2.2"/>
<circle cx="514.6" cy="377.8" r="2.2"/>
<circle cx="514.0" cy="371.1" r="2.2"/>
<circle cx="513.4" cy="364.2" r="2.2"/>
<circle cx="512.8" cy="357.1" r="2.2"/>
<circle cx="512.1" cy="349.6" r="2.2"/>
<circle cx="511.5" cy="341.9" r="2.2"/>
<circle cx="510.8" cy="333.9" r="2.2"/>
<circle cx="510.1" cy="325.7" r="2.2"/>
<circle cx="509.4" cy="317.0" r="2.2"/>
<circle cx="508.6" cy="308.1" r="2.2"/>
<circle cx="507.8" cy="298.8" r="2.2"/>
<circle cx="507.0" cy="289.1" r="2.2"/>
<circle cx="506.1" cy="278.9" r="2.2"/>
<circle cx="523.4" cy="378.1" r="2.2"/>
<circle cx="523.0" cy="371.8" r="2.2"/>
<circle cx="522.6" cy="365.2" r="2.2"/>
<circle cx="522.2" cy="358.4" r="2.2"/>
<circle cx="521.8" cy="351.4" r="2.2"/>
<circle cx="521.3" cy="344.2" r="2.2"/>
<circle cx="520.8" cy="336.7" r="2.2"/>
<circle cx="520.3" cy="328.9" r="2.2"/>
<circle cx="519.8" cy="320.8" r="2.2"/>
<circle cx="519.3" cy="312.5" r="2.2"/>
<circle cx="518.8" cy="303.8" r="2.2"/>
<circle cx="518.2" cy="294.7" r="2.2"/>
<circle cx="517.6" cy="285.4" r="2.2"/>
<circle cx="517.0" cy="275.6" r="2.2"/>
<circle cx="531.2" cy="372.4" r="2.2"/>
<circle cx="530.9" cy="366.1" r="2.2"/>
<circle cx="530.7" cy="359.7" r="2.2"/>
<circle cx="530.4" cy="353.1" r="2.2"/>
<circle cx="530.1" cy="346.2" r="2.2"/>
<circle cx="529.8" cy="339.1" r="2.2"/>
<circle cx="529.5" cy="331.8" r="2.2"/>
<circle cx="529.2" cy="324.2" r="2.2"/>
<circle cx="528.8" cy="316.4" r="2.2"/>
<circle cx="528.5" cy="308.2" r="2.2"/>
<circle cx="528.1" cy="299.8" r="2.2"/>
<circle cx="527.8" cy="291.0" r="2.2"/>
<circle cx="527.4" cy="282.0" r="2.2"/>
<circle cx="527.0" cy="272.5" r="2.2"/>
<circle cx="538.5" cy="367.0" r="2.2"/>
<circle cx="538.4" cy="360.8" r="2.2"/>
<circle cx="538.2" cy="354.5" r="2.2"/>
<circle cx="538.1" cy="348.0" r="2.2"/>
<circle cx="537.9" cy="341.3" r="2.2"/>
<circle cx="537.7" cy="334.4" r="2.2"/>
<circle cx="537.6" cy="327.3" r="2.2"/>
<circle cx="537.4" cy="319.9" r="2.2"/>
<circle cx="537.2" cy="312.2" r="2.2"/>
<circle cx="537.0" cy="304.3" r="2.2"/>
<circle cx="536.8" cy="296.1" r="2.2"/>
<circle cx="536.6" cy="287.6" r="2.2"/>
<circle cx="536.4" cy="278.8" r="2.2"/>
<circle cx="536.2" cy="269.7" r="2.2"/>
<circle cx="545.4" cy="361.9" r="2.2"/>
<circle cx="545.3" cy="355.9" r="2.2"/>
<circle cx="545.3" cy="349.7" r="2.2"/>
<circle cx="545.2" cy="343.3" r="2.2"/>
<circle cx="545.2" cy="336.8" r="2.2"/>
<circle cx="545.2" cy="330.0" r="2.2"/>
<circle cx="545.1" cy="323.0" r="2.2"/>
<circle cx="545.1" cy="315.8" r="2.2"/>
<circle cx="545.0" cy="308.3" r="2.2"/>
<circle cx="545.0" cy="300.6" r="2.2"/>
<circle cx="544.9" cy="292.7" r="2.2"/>
<circle cx="544.9" cy="284.4" r="2.2"/>
<circle cx="544.8" cy="275.9" r="2.2"/>
<circle cx="544.8" cy="267.0" r="2.2"/>
<circle cx="551.8" cy="357.1" r="2.2"/>
<circle cx="551.9" cy="351.2" r="2.2"/>
<circle cx="551.9" cy="345.2" r="2.2"/>
<circle cx="552.0" cy="338.9" r="2.2"/>
<circle cx="552.1" cy="332.5" r="2.2"/>
<circle cx="552.1" cy="325.9" r="2.2"/>
<circle cx="552.2" cy="319.0" r="2.2"/>
<circle cx="552.2" cy="312.0" r="2.2"/>
<circle cx="552.3" cy="304.7" r="2.2"/>
<circle cx="552.4" cy="297.2" r="2.2"/>
<circle cx="552.5" cy="289.5" r="2.2"/>
<circle cx="552.5" cy="281.5" r="2.2"/>
<circle cx="552.6" cy="273.2" r="2.2"/>
<circle cx="552.7" cy="264.6" r="2.2"/>
<circle cx="557.9" cy="352.6" r="2.2"/>
<circle cx="558.0" cy="346.8" r="2.2"/>
<circle cx="558.2" cy="340.9" r="2.2"/>
<circle cx="558.3" cy="334.8" r="2.2"/>
<circle cx="558.5" cy="328.5" r="2.2"/>
<circle cx="558.6" cy="322.0" r="2.2"/>
<circle cx="558.8" cy="315.3" r="2.2"/>
<circle cx="559.0" cy="308.4" r="2.2"/>
<circle cx="559.1" cy="301.4" r="2.2"/>
<circle cx="559.3" cy="294.0" r="2.2"/>
<circle cx="559.5" cy="286.5" r="2.2"/>
<circle cx="559.7" cy="278.7" r="2.2"/>
<circle cx="559.9" cy="270.7" r="2.2"/>
<circle cx="560.1" cy="262.3" r="2.2"/>
<circle cx="563.7" cy="348.4" r="2.2"/>
<circle cx="563.9" cy="342.7" r="2.2"/>
<circle cx="564.1" cy="336.8" r="2.2"/>
<circle cx="564.3" cy="330.9" r="2.2"/>
<circle cx="564.5" cy="324.7" r="2.2"/>
<circle cx="564.8" cy="318.3" r="2.2"/>
<circle cx="565.0" cy="311.8" r="2.2"/>
<circle cx="565.3" cy="305.1" r="2.2"/>
<circle cx="565.5" cy="298.2" r="2.2"/>
<circle cx="565.8" cy="291.1" r="2.2"/>
<circle cx="566.1" cy="283.7" r="2.2"/>
<circle cx="566.4" cy="276.1" r="2.2"/>
<circle cx="566.7" cy="268.3" r="2.2"/>
<circle cx="567.0" cy="260.2" r="2.2"/>
<circle cx="569.1" cy="344.3" r="2.2"/>
<circle cx="569.4" cy="338.8" r="2.2"/>
<circle cx="569.7" cy="333.0" r="2.2"/>
<circle cx="569.9" cy="327.2" r="2.2"/>
<circle cx="570.3" cy="321.1" r="2.2"/>
<circle cx="570.6" cy="314.9" r="2.2"/>
<circle cx="570.9" cy="308.5" r="2.2"/>
<circle cx="571.2" cy="302.0" r="2.2"/>
<circle cx="571.5" cy="295.2" r="2.2"/>
<circle cx="571.9" cy="288.2" r="2.2"/>
<circle cx="572.3" cy="281.1" r="2.2"/>
<circle cx="572.6" cy="273.7" r="2.2"/>
<circle cx="573.0" cy="266.1" r="2.2"/>
<circle cx="573.4" cy="258.2" r="2.2"/>
<circle cx="512.2" cy="394.0" r="2.2"/>
<circle cx="511.6" cy="387.4" r="2.2"/>
<circle cx="510.9" cy="380.5" r="2.2"/>
<circle cx="510.3" cy="373.4" r="2.2"/>
<circle cx="509.6" cy="366.0" r="2.2"/>
<circle cx="508.8" cy="358.3" r="2.2"/>
<circle cx="508.1" cy="350.3" r="2.2"/>
<circle cx="507.3" cy="342.0" r="2.2"/>
<circle cx="506.4" cy="333.4" r="2.2"/>
<circle cx="505.6" cy="324.4" r="2.2"/>
<circle cx="504.7" cy="315.0" r="2.2"/>
<circle cx="503.7" cy="305.2" r="2.2"/>
<circle cx="502.8" cy="295.0" r="2.2"/>
<circle cx="501.7" cy="284.4" r="2.2"/>
<circle cx="521.1" cy="387.2" r="2.2"/>
<circle cx="520.6" cy="380.7" r="2.2"/>
<circle cx="520.1" cy="374.0" r="2.2"/>
<circle cx="519.6" cy="367.0" r="2.2"/>
<circle cx="519.1" cy="359.7" r="2.2"/>
<circle cx="518.6" cy="352.2" r="2.2"/>
<circle cx="518.1" cy="344.5" r="2.2"/>
<circle cx="517.5" cy="336.4" r="2.2"/>
<circle cx="516.9" cy="328.0" r="2.2"/>
<circle cx="516.3" cy="319.2" r="2.2"/>
<circle cx="515.6" cy="310.2" r="2.2"/>
<circle cx="515.0" cy="300.7" r="2.2"/>
<circle cx="514.3" cy="290.8" r="2.2"/>
<circle cx="513.5" cy="280.5" r="2.2"/>
<circle cx="529.3" cy="380.9" r="2.2"/>
<circle cx="529.0" cy="374.5" r="2.2"/>
<circle cx="528.7" cy="367.9" r="2.2"/>
<circle cx="528.4" cy="361.0" r="2.2"/>
<circle cx="528.0" cy="353.9" r="2.2"/>
<circle cx="527.7" cy="346.6" r="2.2"/>
<circle cx="527.3" cy="339.0" r="2.2"/>
<circle cx="526.9" cy="331.1" r="2.2"/>
<circle cx="526.5" cy="323.0" r="2.2"/>
<circle cx="526.1" cy="314.5" r="2.2"/>
<circle cx="525.7" cy="305.7" r="2.2"/>
<circle cx="525.3" cy="296.5" r="2.2"/>
<circle cx="524.8" cy="287.0" r="2.2"/>
<circle cx="524.3" cy="277.1" r="2.2"/>
<circle cx="537.0" cy="374.9" r="2.2"/>
<circle cx="536.9" cy="368.7" r="2.2"/>
<circle cx="536.7" cy="362.2" r="2.2"/>
<circle cx="536.5" cy="355.5" r="2.2"/>
<circle cx="536.3" cy="348.5" r="2.2"/>
<circle cx="536.1" cy="341.4" r="2.2"/>
<circle cx="535.9" cy="334.0" r="2.2"/>
<circle cx="535.7" cy="326.3" r="2.2"/>
<circle cx="535.5" cy="318.3" r="2.2"/>
<circle cx="535.2" cy="310.1" r="2.2"/>
<circle cx="535.0" cy="301.5" r="2.2"/>
<circle cx="534.8" cy="292.7" r="2.2"/>
<circle cx="534.5" cy="283.4" r="2.2"/>
<circle cx="534.2" cy="273.9" r="2.2"/>
<circle cx="544.3" cy="369.4" r="2.2"/>
<circle cx="544.2" cy="363.2" r="2.2"/>
<circle cx="544.1" cy="356.9" r="2.2"/>
<circle cx="544.1" cy="350.3" r="2.2"/>
<circle cx="544.0" cy="343.5" r="2.2"/>
<circle cx="544.0" cy="336.5" r="2.2"/>
<circle cx="543.9" cy="329.3" r="2.2"/>
<circle cx="543.8" cy="321.8" r="2.2"/>
<circle cx="543.7" cy="314.1" r="2.2"/>
<circle cx="543.7" cy="306.0" r="2.2"/>
<circle cx="543.6" cy="297.7" r="2.2"/>
<circle cx="543.5" cy="289.1" r="2.2"/>
<circle cx="543.4" cy="280.2" r="2.2"/>
<circle cx="543.3" cy="270.9" r="2.2"/>
<circle cx="551.0" cy="364.2" r="2.2"/>
<circle cx="551.1" cy="358.1" r="2.2"/>
<circle cx="551.1" cy="351.9" r="2.2"/>
<circle cx="551.2" cy="345.4" r="2.2"/>
<circle cx="551.2" cy="338.8" r="2.2"/>
<circle cx="551.3" cy="332.0" r="2.2"/>
<circle cx="551.3" cy="324.9" r="2.2"/>
<circle cx="551.4" cy="317.6" r="2.2"/>
<circle cx="551.4" cy="310.1" r="2.2"/>
<circle cx="551.5" cy="302.3" r="2.2"/>
<circle cx="551.6" cy="294.2" r="2.2"/>
<circle cx="551.6" cy="285.8" r="2.2"/>
<circle cx="551.7" cy="277.2" r="2.2"/>
<circle cx="551.8" cy="268.2" r="2.2"/>
<circle cx="557.4" cy="359.2" r="2.2"/>
<circle cx="557.5" cy="353.3" r="2.2"/>
<circle cx="557.7" cy="347.2" r="2.2"/>
<circle cx="557.8" cy="340.9" r="2.2"/>
<circle cx="558.0" cy="334.4" r="2.2"/>
<circle cx="558.1" cy="327.7" r="2.2"/>
<circle cx="558.3" cy="320.8" r="2.2"/>
<circle cx="558.5" cy="313.7" r="2.2"/>
<circle cx="558.6" cy="306.3" r="2.2"/>
<circle cx="558.8" cy="298.7" r="2.2"/>
<circle cx="559.0" cy="290.9" r="2.2"/>
<circle cx="559.2" cy="282.8" r="2.2"/>
<circle cx="559.4" cy="274.4" r="2.2"/>
<circle cx="559.6" cy="265.7" r="2.2"/>
<circle cx="563.4" cy="354.6" r="2.2"/>
<circle cx="563.6" cy="348.8" r="2.2"/>
<circle cx="563.9" cy="342.8" r="2.2"/>
<circle cx="564.1" cy="336.6" r="2.2"/>
<circle cx="564.3" cy="330.3" r="2.2"/>
<circle cx="564.6" cy="323.7" r="2.2"/>
<circle cx="564.8" cy="317.0" r="2.2"/>
<circle cx="565.1" cy="310.0" r="2.2"/>
<circle cx="565.4" cy="302.8" r="2.2"/>
<circle cx="565.6" cy="295.4" r="2.2"/>
<circle cx="565.9" cy="287.8" r="2.2"/>
<circle cx="566.2" cy="279.9" r="2.2"/>
<circle cx="566.5" cy="271.8" r="2.2"/>
<circle cx="566.8" cy="263.3" r="2.2"/>
<circle cx="569.1" cy="350.3" r="2.2"/>
<circle cx="569.4" cy="344.5" r="2.2"/>
<circle cx="569.7" cy="338.6" r="2.2"/>
<circle cx="570.0" cy="332.6" r="2.2"/>
<circle cx="570.3" cy="326.4" r="2.2"/>
<circle cx="570.6" cy="320.0" r="2.2"/>
<circle cx="570.9" cy="313.4" r="2.2"/>
<circle cx="571.3" cy="306.6" r="2.2"/>
<circle cx="571.6" cy="299.6" r="2.2"/>
<circle cx="572.0" cy="292.4" r="2.2"/>
<circle cx="572.4" cy="284.9" r="2.2"/>
<circle cx="572.8" cy="277.3" r="2.2"/>
<circle cx="573.2" cy="269.3" r="2.2"/>
<circle cx="573.6" cy="261.1" r="2.2"/>
<circle cx="574.4" cy="346.1" r="2.2"/>
<circle cx="574.8" cy="340.5" r="2.2"/>
<circle cx="575.2" cy="334.7" r="2.2"/>
<circle cx="575.5" cy="328.8" r="2.2"/>
<circle cx="575.9" cy="322.7" r="2.2"/>
<circle cx="576.3" cy="316.4" r="2.2"/>
<circle cx="576.7" cy="310.0" r="2.2"/>
<circle cx="577.1" cy="303.4" r="2.2"/>
<circle cx="577.6" cy="296.5" r="2.2"/>
<circle cx="578.0" cy="289.5" r="2.2"/>
<circle cx="578.5" cy="282.2" r="2.2"/>
<circle cx="578.9" cy="274.8" r="2.2"/>
<circle cx="579.4" cy="267.1" r="2.2"/>
<circle cx="579.9" cy="259.1" r="2.2"/>
<circle cx="518.5" cy="397.3" r="2.2"/>
<circle cx="517.9" cy="390.6" r="2.2"/>
<circle cx="517.4" cy="383.7" r="2.2"/>
<circle cx="516.8" cy="376.5" r="2.2"/>
<circle cx="516.2" cy="369.0" r="2.2"/>
<circle cx="515.6" cy="361.2" r="2.2"/>
<circle cx="515.0" cy="353.2" r="2.2"/>
<circle cx="514.3" cy="344.8" r="2.2"/>
<circle cx="513.6" cy="336.0" r="2.2"/>
<circle cx="512.9" cy="326.9" r="2.2"/>
<circle cx="512.1" cy="317.4" r="2.2"/>
<circle cx="511.3" cy="307.4" r="2.2"/>
<circle cx="510.5" cy="297.0" r="2.2"/>
<circle cx="509.6" cy="286.2" r="2.2"/>
<circle cx="527.2" cy="390.3" r="2.2"/>
<circle cx="526.9" cy="383.7" r="2.2"/>
<circle cx="526.5" cy="376.9" r="2.2"/>
<circle cx="526.1" cy="369.8" r="2.2"/>
<circle cx="525.7" cy="362.5" r="2.2"/>
<circle cx="525.3" cy="354.9" r="2.2"/>
<circle cx="524.9" cy="347.1" r="2.2"/>
<circle cx="524.4" cy="338.9" r="2.2"/>
<circle cx="524.0" cy="330.4" r="2.2"/>
<circle cx="523.5" cy="321.5" r="2.2"/>
<circle cx="523.0" cy="312.3" r="2.2"/>
<circle cx="522.4" cy="302.7" r="2.2"/>
<circle cx="521.9" cy="292.7" r="2.2"/>
<circle cx="521.3" cy="282.2" r="2.2"/>
<circle cx="535.4" cy="383.7" r="2.2"/>
<circle cx="535.2" cy="377.3" r="2.2"/>
<circle cx="535.0" cy="370.6" r="2.2"/>
<circle cx="534.8" cy="363.7" r="2.2"/>
<circle cx="534.5" cy="356.5" r="2.2"/>
<circle cx="534.3" cy="349.1" r="2.2"/>
<circle cx="534.0" cy="341.4" r="2.2"/>
<circle cx="533.8" cy="333.5" r="2.2"/>
<circle cx="533.5" cy="325.2" r="2.2"/>
<circle cx="533.2" cy="316.6" r="2.2"/>
<circle cx="532.9" cy="307.7" r="2.2"/>
<circle cx="532.6" cy="298.4" r="2.2"/>
<circle cx="532.3" cy="288.7" r="2.2"/>
<circle cx="532.0" cy="278.6" r="2.2"/>
<circle cx="543.0" cy="377.6" r="2.2"/>
<circle cx="543.0" cy="371.3" r="2.2"/>
<circle cx="542.9" cy="364.7" r="2.2"/>
<circle cx="542.8" cy="357.9" r="2.2"/>
<circle cx="542.7" cy="351.0" r="2.2"/>
<circle cx="542.6" cy="343.7" r="2.2"/>
<circle cx="542.5" cy="336.2" r="2.2"/>
<circle cx="542.4" cy="328.4" r="2.2"/>
<circle cx="542.3" cy="320.4" r="2.2"/>
<circle cx="542.2" cy="312.0" r="2.2"/>
<circle cx="542.1" cy="303.4" r="2.2"/>
<circle cx="542.0" cy="294.4" r="2.2"/>
<circle cx="541.9" cy="285.0" r="2.2"/>
<circle cx="541.8" cy="275.3" r="2.2"/>
<circle cx="550.2" cy="371.9" r="2.2"/>
<circle cx="550.2" cy="365.6" r="2.2"/>
<circle cx="550.2" cy="359.2" r="2.2"/>
<circle cx="550.3" cy="352.6" r="2.2"/>
<circle cx="550.3" cy="345.8" r="2.2"/>
<circle cx="550.4" cy="338.7" r="2.2"/>
<circle cx="550.4" cy="331.4" r="2.2"/>
<circle cx="550.4" cy="323.8" r="2.2"/>
<circle cx="550.5" cy="316.0" r="2.2"/>
<circle cx="550.5" cy="307.8" r="2.2"/>
<circle cx="550.6" cy="299.4" r="2.2"/>
<circle cx="550.6" cy="290.7" r="2.2"/>
<circle cx="550.7" cy="281.6" r="2.2"/>
<circle cx="550.7" cy="272.2" r="2.2"/>
<circle cx="556.9" cy="366.5" r="2.2"/>
<circle cx="557.0" cy="360.4" r="2.2"/>
<circle cx="557.1" cy="354.1" r="2.2"/>
<circle cx="557.3" cy="347.6" r="2.2"/>
<circle cx="557.4" cy="340.9" r="2.2"/>
<circle cx="557.6" cy="334.0" r="2.2"/>
<circle cx="557.7" cy="326.8" r="2.2"/>
<circle cx="557.9" cy="319.5" r="2.2"/>
<circle cx="558.1" cy="311.8" r="2.2"/>
<circle cx="558.3" cy="303.9" r="2.2"/>
<circle cx="558.4" cy="295.7" r="2.2"/>
<circle cx="558.6" cy="287.3" r="2.2"/>
<circle cx="558.8" cy="278.5" r="2.2"/>
<circle cx="559.0" cy="269.4" r="2.2"/>
<circle cx="563.1" cy="361.4" r="2.2"/>
<circle cx="563.4" cy="355.5" r="2.2"/>
<circle cx="563.6" cy="349.3" r="2.2"/>
<circle cx="563.8" cy="342.9" r="2.2"/>
<circle cx="564.1" cy="336.4" r="2.2"/>
<circle cx="564.3" cy="329.6" r="2.2"/>
<circle cx="564.6" cy="322.6" r="2.2"/>
<circle cx="564.9" cy="315.4" r="2.2"/>
<circle cx="565.1" cy="308.0" r="2.2"/>
<circle cx="565.4" cy="300.3" r="2.2"/>
<circle cx="565.7" cy="292.3" r="2.2"/>
<circle cx="566.0" cy="284.1" r="2.2"/>
<circle cx="566.4" cy="275.6" r="2.2"/>
<circle cx="566.7" cy="266.8" r="2.2"/>
<circle cx="569.1" cy="356.7" r="2.2"/>
<circle cx="569.4" cy="350.8" r="2.2"/>
<circle cx="569.7" cy="344.8" r="2.2"/>
<circle cx="570.0" cy="338.5" r="2.2"/>
<circle cx="570.3" cy="332.1" r="2.2"/>
<circle cx="570.7" cy="325.5" r="2.2"/>
<circle cx="571.0" cy="318.7" r="2.2"/>
<circle cx="571.4" cy="311.6" r="2.2"/>
<circle cx="571.8" cy="304.4" r="2.2"/>
<circle cx="572.1" cy="296.9" r="2.2"/>
<circle cx="572.5" cy="289.2" r="2.2"/>
<circle cx="573.0" cy="281.2" r="2.2"/>
<circle cx="573.4" cy="272.9" r="2.2"/>
<circle cx="573.8" cy="264.4" r="2.2"/>
<circle cx="574.6" cy="352.2" r="2.2"/>
<circle cx="575.0" cy="346.4" r="2.2"/>
<circle cx="575.4" cy="340.5" r="2.2"/>
<circle cx="575.8" cy="334.4" r="2.2"/>
<circle cx="576.2" cy="328.1" r="2.2"/>
<circle cx="576.6" cy="321.6" r="2.2"/>
<circle cx="577.0" cy="315.0" r="2.2"/>
<circle cx="577.5" cy="308.1" r="2.2"/>
<circle cx="577.9" cy="301.0" r="2.2"/>
<circle cx="578.4" cy="293.7" r="2.2"/>
<circle cx="578.9" cy="286.2" r="2.2"/>
<circle cx="579.4" cy="278.4" r="2.2"/>
<circle cx="579.9" cy="270.4" r="2.2"/>
<circle cx="580.4" cy="262.1" r="2.2"/>
<circle cx="579.9" cy="348.0" r="2.2"/>
<circle cx="580.3" cy="342.3" r="2.2"/>
<circle cx="580.8" cy="336.5" r="2.2"/>
<circle cx="581.2" cy="330.5" r="2.2"/>
<circle cx="581.7" cy="324.3" r="2.2"/>
<circle cx="582.2" cy="318.0" r="2.2"/>
<circle cx="582.7" cy="311.5" r="2.2"/>
<circle cx="583.2" cy="304.8" r="2.2"/>
<circle cx="583.7" cy="297.9" r="2.2"/>
<circle cx="584.3" cy="290.8" r="2.2"/>
<circle cx="584.8" cy="283.4" r="2.2"/>
<circle cx="585.4" cy="275.9" r="2.2"/>
<circle cx="586.0" cy="268.1" r="2.2"/>
<circle cx="586.6" cy="260.0" r="2.2"/>
<circle cx="524.9" cy="400.7" r="2.2"/>
<circle cx="524.5" cy="394.0" r="2.2"/>
<circle cx="524.1" cy="386.9" r="2.2"/>
<circle cx="523.6" cy="379.7" r="2.2"/>
<circle cx="523.1" cy="372.1" r="2.2"/>
<circle cx="522.6" cy="364.3" r="2.2"/>
<circle cx="522.1" cy="356.1" r="2.2"/>
<circle cx="521.6" cy="347.6" r="2.2"/>
<circle cx="521.0" cy="338.7" r="2.2"/>
<circle cx="520.5" cy="329.5" r="2.2"/>
<circle cx="519.9" cy="319.8" r="2.2"/>
<circle cx="519.2" cy="309.7" r="2.2"/>
<circle cx="518.6" cy="299.2" r="2.2"/>
<circle cx="517.9" cy="288.1" r="2.2"/>
<circle cx="533.6" cy="393.4" r="2.2"/>
<circle cx="533.4" cy="386.8" r="2.2"/>
<circle cx="533.1" cy="379.9" r="2.2"/>
<circle cx="532.8" cy="372.8" r="2.2"/>
<circle cx="532.5" cy="365.4" r="2.2"/>
<circle cx="532.2" cy="357.7" r="2.2"/>
<circle cx="531.9" cy="349.8" r="2.2"/>
<circle cx="531.6" cy="341.5" r="2.2"/>
<circle cx="531.3" cy="332.9" r="2.2"/>
<circle cx="531.0" cy="323.9" r="2.2"/>
<circle cx="530.6" cy="314.5" r="2.2"/>
<circle cx="530.2" cy="304.8" r="2.2"/>
<circle cx="529.8" cy="294.6" r="2.2"/>
<circle cx="529.4" cy="283.9" r="2.2"/>
<circle cx="541.7" cy="386.6" r="2.2"/>
<circle cx="541.6" cy="380.1" r="2.2"/>
<circle cx="541.5" cy="373.4" r="2.2"/>
<circle cx="541.4" cy="366.4" r="2.2"/>
<circle cx="541.2" cy="359.2" r="2.2"/>
<circle cx="541.1" cy="351.7" r="2.2"/>
<circle cx="541.0" cy="343.9" r="2.2"/>
<circle cx="540.9" cy="335.9" r="2.2"/>
<circle cx="540.7" cy="327.5" r="2.2"/>
<circle cx="540.6" cy="318.8" r="2.2"/>
<circle cx="540.4" cy="309.7" r="2.2"/>
<circle cx="540.3" cy="300.3" r="2.2"/>
<circle cx="540.1" cy="290.4" r="2.2"/>
<circle cx="539.9" cy="280.2" r="2.2"/>
<circle cx="549.2" cy="380.3" r="2.2"/>
<circle cx="549.2" cy="373.9" r="2.2"/>
<circle cx="549.3" cy="367.3" r="2.2"/>
<circle cx="549.3" cy="360.5" r="2.2"/>
<circle cx="549.3" cy="353.4" r="2.2"/>
<circle cx="549.3" cy="346.1" r="2.2"/>
<circle cx="549.4" cy="338.5" r="2.2"/>
<circle cx="549.4" cy="330.7" r="2.2"/>
<circle cx="549.4" cy="322.5" r="2.2"/>
<circle cx="549.4" cy="314.1" r="2.2"/>
<circle cx="549.5" cy="305.3" r="2.2"/>
<circle cx="549.5" cy="296.1" r="2.2"/>
<circle cx="549.5" cy="286.6" r="2.2"/>
<circle cx="549.6" cy="276.7" r="2.2"/>
<circle cx="556.3" cy="374.4" r="2.2"/>
<circle cx="556.4" cy="368.2" r="2.2"/>
<circle cx="556.5" cy="361.7" r="2.2"/>
<circle cx="556.7" cy="355.0" r="2.2"/>
<circle cx="556.8" cy="348.1" r="2.2"/>
<circle cx="557.0" cy="340.9" r="2.2"/>
<circle cx="557.1" cy="333.5" r="2.2"/>
<circle cx="557.3" cy="325.9" r="2.2"/>
<circle cx="557.5" cy="317.9" r="2.2"/>
<circle cx="557.6" cy="309.7" r="2.2"/>
<circle cx="557.8" cy="301.2" r="2.2"/>
<circle cx="558.0" cy="292.3" r="2.2"/>
<circle cx="558.2" cy="283.1" r="2.2"/>
<circle cx="558.4" cy="273.5" r="2.2"/>
<circle cx="562.9" cy="368.9" r="2.2"/>
<circle cx="563.1" cy="362.7" r="2.2"/>
<circle cx="563.3" cy="356.4" r="2.2"/>
<circle cx="563.6" cy="349.8" r="2.2"/>
<circle cx="563.8" cy="343.1" r="2.2"/>
<circle cx="564.1" cy="336.1" r="2.2"/>
<circle cx="564.4" cy="328.9" r="2.2"/>
<circle cx="564.6" cy="321.4" r="2.2"/>
<circle cx="564.9" cy="313.7" r="2.2"/>
<circle cx="565.2" cy="305.7" r="2.2"/>
<circle cx="565.5" cy="297.4" r="2.2"/>
<circle cx="565.9" cy="288.8" r="2.2"/>
<circle cx="566.2" cy="279.9" r="2.2"/>
<circle cx="566.5" cy="270.6" r="2.2"/>
<circle cx="569.0" cy="363.7" r="2.2"/>
<circle cx="569.4" cy="357.7" r="2.2"/>
<circle cx="569.7" cy="351.4" r="2.2"/>
<circle cx="570.0" cy="345.0" r="2.2"/>
<circle cx="570.4" cy="338.4" r="2.2"/>
<circle cx="570.7" cy="331.6" r="2.2"/>
<circle cx="571.1" cy="324.5" r="2.2"/>
<circle cx="571.5" cy="317.2" r="2.2"/>
<circle cx="571.9" cy="309.7" r="2.2"/>
<circle cx="572.3" cy="301.9" r="2.2"/>
<circle cx="572.7" cy="293.8" r="2.2"/>
<circle cx="573.1" cy="285.5" r="2.2"/>
<circle cx="573.6" cy="276.9" r="2.2"/>
<circle cx="574.1" cy="267.9" r="2.2"/>
<circle cx="574.9" cy="358.8" r="2.2"/>
<circle cx="575.3" cy="352.9" r="2.2"/>
<circle cx="575.7" cy="346.8" r="2.2"/>
<circle cx="576.1" cy="340.5" r="2.2"/>
<circle cx="576.5" cy="334.0" r="2.2"/>
<circle cx="576.9" cy="327.3" r="2.2"/>
<circle cx="577.4" cy="320.4" r="2.2"/>
<circle cx="577.9" cy="313.3" r="2.2"/>
<circle cx="578.4" cy="306.0" r="2.2"/>
<circle cx="578.9" cy="298.4" r="2.2"/>
<circle cx="579.4" cy="290.6" r="2.2"/>
<circle cx="579.9" cy="282.5" r="2.2"/>
<circle cx="580.5" cy="274.1" r="2.2"/>
<circle cx="581.0" cy="265.4" r="2.2"/>
<circle cx="580.4" cy="354.2" r="2.2"/>
<circle cx="580.8" cy="348.4" r="2.2"/>
<circle cx="581.3" cy="342.4" r="2.2"/>
<circle cx="581.8" cy="336.2" r="2.2"/>
<circle cx="582.3" cy="329.9" r="2.2"/>
<circle cx="582.8" cy="323.4" r="2.2"/>
<circle cx="583.3" cy="316.6" r="2.2"/>
<circle cx="583.9" cy="309.7" r="2.2"/>
<circle cx="584.4" cy="302.5" r="2.2"/>
<circle cx="585.0" cy="295.1" r="2.2"/>
<circle cx="585.6" cy="287.5" r="2.2"/>
<circle cx="586.2" cy="279.6" r="2.2"/>
<circle cx="586.9" cy="271.5" r="2.2"/>
<circle cx="587.5" cy="263.1" r="2.2"/>
<circle cx="585.5" cy="349.9" r="2.2"/>
<circle cx="586.1" cy="344.2" r="2.2"/>
<circle cx="586.6" cy="338.3" r="2.2"/>
<circle cx="587.1" cy="332.2" r="2.2"/>
<circle cx="587.7" cy="326.0" r="2.2"/>
<circle cx="588.3" cy="319.6" r="2.2"/>
<circle cx="588.9" cy="313.0" r="2.2"/>
<circle cx="589.5" cy="306.3" r="2.2"/>
<circle cx="590.1" cy="299.3" r="2.2"/>
<circle cx="590.7" cy="292.1" r="2.2"/>
<circle cx="591.4" cy="284.7" r="2.2"/>
<circle cx="592.1" cy="277.0" r="2.2"/>
<circle cx="592.8" cy="269.1" r="2.2"/>
<circle cx="593.6" cy="260.9" r="2.2"/>
<circle cx="531.6" cy="404.2" r="2.2"/>
<circle cx="531.3" cy="397.4" r="2.2"/>
<circle cx="531.0" cy="390.3" r="2.2"/>
<circle cx="530.7" cy="383.0" r="2.2"/>
<circle cx="530.3" cy="375.4" r="2.2"/>
<circle cx="530.0" cy="367.4" r="2.2"/>
<circle cx="529.6" cy="359.2" r="2.2"/>
<circle cx="529.2" cy="350.5" r="2.2"/>
<circle cx="528.8" cy="341.6" r="2.2"/>
<circle cx="528.4" cy="332.2" r="2.2"/>
<circle cx="527.9" cy="322.4" r="2.2"/>
<circle cx="527.5" cy="312.1" r="2.2"/>
<circle cx="527.0" cy="301.4" r="2.2"/>
<circle cx="526.5" cy="290.1" r="2.2"/>
<circle cx="540.2" cy="396.7" r="2.2"/>
<circle cx="540.1" cy="390.0" r="2.2"/>
<circle cx="539.9" cy="383.1" r="2.2"/>
<circle cx="539.8" cy="375.9" r="2.2"/>
<circle cx="539.6" cy="368.4" r="2.2"/>
<circle cx="539.4" cy="360.7" r="2.2"/>
<circle cx="539.3" cy="352.6" r="2.2"/>
<circle cx="539.1" cy="344.2" r="2.2"/>
<circle cx="538.9" cy="335.5" r="2.2"/>
<circle cx="538.7" cy="326.4" r="2.2"/>
<circle cx="538.5" cy="316.9" r="2.2"/>
<circle cx="538.3" cy="307.0" r="2.2"/>
<circle cx="538.1" cy="296.6" r="2.2"/>
<circle cx="537.9" cy="285.8" r="2.2"/>
<circle cx="548.2" cy="389.7" r="2.2"/>
<circle cx="548.2" cy="383.1" r="2.2"/>
<circle cx="548.2" cy="376.3" r="2.2"/>
<circle cx="548.2" cy="369.3" r="2.2"/>
<circle cx="548.2" cy="362.0" r="2.2"/>
<circle cx="548.2" cy="354.4" r="2.2"/>
<circle cx="548.2" cy="346.5" r="2.2"/>
<circle cx="548.2" cy="338.4" r="2.2"/>
<circle cx="548.2" cy="329.9" r="2.2"/>
<circle cx="548.2" cy="321.0" r="2.2"/>
<circle cx="548.2" cy="311.8" r="2.2"/>
<circle cx="548.2" cy="302.3" r="2.2"/>
<circle cx="548.2" cy="292.3" r="2.2"/>
<circle cx="548.2" cy="281.8" r="2.2"/>
<circle cx="555.6" cy="383.2" r="2.2"/>
<circle cx="555.7" cy="376.7" r="2.2"/>
<circle cx="555.9" cy="370.0" r="2.2"/>
<circle cx="556.0" cy="363.1" r="2.2"/>
<circle cx="556.1" cy="356.0" r="2.2"/>
<circle cx="556.3" cy="348.6" r="2.2"/>
<circle cx="556.4" cy="340.9" r="2.2"/>
<circle cx="556.6" cy="333.0" r="2.2"/>
<circle cx="556.8" cy="324.7" r="2.2"/>
<circle cx="556.9" cy="316.1" r="2.2"/>
<circle cx="557.1" cy="307.2" r="2.2"/>
<circle cx="557.3" cy="297.9" r="2.2"/>
<circle cx="557.5" cy="288.3" r="2.2"/>
<circle cx="557.7" cy="278.2" r="2.2"/>
<circle cx="562.5" cy="377.1" r="2.2"/>
<circle cx="562.8" cy="370.7" r="2.2"/>
<circle cx="563.0" cy="364.2" r="2.2"/>
<circle cx="563.3" cy="357.4" r="2.2"/>
<circle cx="563.5" cy="350.5" r="2.2"/>
<circle cx="563.8" cy="343.2" r="2.2"/>
<circle cx="564.1" cy="335.8" r="2.2"/>
<circle cx="564.4" cy="328.0" r="2.2"/>
<circle cx="564.7" cy="320.0" r="2.2"/>
<circle cx="565.0" cy="311.6" r="2.2"/>
<circle cx="565.3" cy="303.0" r="2.2"/>
<circle cx="565.6" cy="294.0" r="2.2"/>
<circle cx="566.0" cy="284.6" r="2.2"/>
<circle cx="566.4" cy="274.9" r="2.2"/>
<circle cx="569.0" cy="371.4" r="2.2"/>
<circle cx="569.4" cy="365.2" r="2.2"/>
<circle cx="569.7" cy="358.8" r="2.2"/>
<circle cx="570.1" cy="352.1" r="2.2"/>
<circle cx="570.4" cy="345.3" r="2.2"/>
<circle cx="570.8" cy="338.2" r="2.2"/>
<circle cx="571.2" cy="330.9" r="2.2"/>
<circle cx="571.6" cy="323.4" r="2.2"/>
<circle cx="572.0" cy="315.6" r="2.2"/>
<circle cx="572.4" cy="307.4" r="2.2"/>
<circle cx="572.9" cy="299.0" r="2.2"/>
<circle cx="573.3" cy="290.3" r="2.2"/>
<circle cx="573.8" cy="281.3" r="2.2"/>
<circle cx="574.3" cy="271.9" r="2.2"/>
<circle cx="575.1" cy="366.0" r="2.2"/>
<circle cx="575.5" cy="359.9" r="2.2"/>
<circle cx="576.0" cy="353.6" r="2.2"/>
<circle cx="576.4" cy="347.2" r="2.2"/>
<circle cx="576.8" cy="340.5" r="2.2"/>
<circle cx="577.3" cy="333.6" r="2.2"/>
<circle cx="577.8" cy="326.4" r="2.2"/>
<circle cx="578.3" cy="319.1" r="2.2"/>
<circle cx="578.8" cy="311.4" r="2.2"/>
<circle cx="579.4" cy="303.6" r="2.2"/>
<circle cx="579.9" cy="295.4" r="2.2"/>
<circle cx="580.5" cy="286.9" r="2.2"/>
<circle cx="581.1" cy="278.2" r="2.2"/>
<circle cx="581.7" cy="269.1" r="2.2"/>
<circle cx="580.8" cy="361.0" r="2.2"/>
<circle cx="581.3" cy="355.0" r="2.2"/>
<circle cx="581.8" cy="348.9" r="2.2"/>
<circle cx="582.3" cy="342.5" r="2.2"/>
<circle cx="582.9" cy="336.0" r="2.2"/>
<circle cx="583.4" cy="329.2" r="2.2"/>
<circle cx="584.0" cy="322.2" r="2.2"/>
<circle cx="584.6" cy="315.1" r="2.2"/>
<circle cx="585.2" cy="307.6" r="2.2"/>
<circle cx="585.8" cy="300.0" r="2.2"/>
<circle cx="586.4" cy="292.0" r="2.2"/>
<circle cx="587.1" cy="283.8" r="2.2"/>
<circle cx="587.8" cy="275.3" r="2.2"/>
<circle cx="588.5" cy="266.5" r="2.2"/>
<circle cx="586.2" cy="356.3" r="2.2"/>
<circle cx="586.8" cy="350.4" r="2.2"/>
<circle cx="587.3" cy="344.4" r="2.2"/>
<circle cx="587.9" cy="338.1" r="2.2"/>
<circle cx="588.5" cy="331.7" r="2.2"/>
<circle cx="589.1" cy="325.1" r="2.2"/>
<circle cx="589.8" cy="318.3" r="2.2"/>
<circle cx="590.4" cy="311.3" r="2.2"/>
<circle cx="591.1" cy="304.1" r="2.2"/>
<circle cx="591.8" cy="296.6" r="2.2"/>
<circle cx="592.5" cy="288.9" r="2.2"/>
<circle cx="593.3" cy="280.9" r="2.2"/>
<circle cx="594.0" cy="272.6" r="2.2"/>
<circle cx="594.8" cy="264.1" r="2.2"/>
<circle cx="591.3" cy="351.8" r="2.2"/>
<circle cx="591.9" cy="346.1" r="2.2"/>
<circle cx="592.5" cy="340.1" r="2.2"/>
<circle cx="593.2" cy="334.0" r="2.2"/>
<circle cx="593.8" cy="327.7" r="2.2"/>
<circle cx="594.5" cy="321.3" r="2.2"/>
<circle cx="595.2" cy="314.6" r="2.2"/>
<circle cx="595.9" cy="307.8" r="2.2"/>
<circle cx="596.6" cy="300.7" r="2.2"/>
<circle cx="597.4" cy="293.4" r="2.2"/>
<circle cx="598.2" cy="285.9" r="2.2"/>
<circle cx="599.0" cy="278.2" r="2.2"/>
<circle cx="599.8" cy="270.1" r="2.2"/>
<circle cx="600.7" cy="261.9" r="2.2"/>
<circle cx="538.5" cy="407.8" r="2.2"/>
<circle cx="538.4" cy="401.0" r="2.2"/>
<circle cx="538.2" cy="393.9" r="2.2"/>
<circle cx="538.0" cy="386.4" r="2.2"/>
<circle cx="537.8" cy="378.7" r="2.2"/>
<circle cx="537.6" cy="370.7" r="2.2"/>
<circle cx="537.4" cy="362.3" r="2.2"/>
<circle cx="537.1" cy="353.6" r="2.2"/>
<circle cx="536.9" cy="344.5" r="2.2"/>
<circle cx="536.6" cy="335.0" r="2.2"/>
<circle cx="536.4" cy="325.0" r="2.2"/>
<circle cx="536.1" cy="314.6" r="2.2"/>
<circle cx="535.8" cy="303.7" r="2.2"/>
<circle cx="535.5" cy="292.2" r="2.2"/>
<circle cx="547.0" cy="400.0" r="2.2"/>
<circle cx="547.0" cy="393.3" r="2.2"/>
<circle cx="547.0" cy="386.3" r="2.2"/>
<circle cx="547.0" cy="379.0" r="2.2"/>
<circle cx="546.9" cy="371.5" r="2.2"/>
<circle cx="546.9" cy="363.7" r="2.2"/>
<circle cx="546.9" cy="355.5" r="2.2"/>
<circle cx="546.9" cy="347.0" r="2.2"/>
<circle cx="546.9" cy="338.2" r="2.2"/>
<circle cx="546.8" cy="328.9" r="2.2"/>
<circle cx="546.8" cy="319.3" r="2.2"/>
<circle cx="546.8" cy="309.2" r="2.2"/>
<circle cx="546.8" cy="298.7" r="2.2"/>
<circle cx="546.7" cy="287.7" r="2.2"/>
<circle cx="554.9" cy="392.8" r="2.2"/>
<circle cx="555.0" cy="386.2" r="2.2"/>
<circle cx="555.1" cy="379.3" r="2.2"/>
<circle cx="555.3" cy="372.2" r="2.2"/>
<circle cx="555.4" cy="364.8" r="2.2"/>
<circle cx="555.5" cy="357.2" r="2.2"/>
<circle cx="555.7" cy="349.2" r="2.2"/>
<circle cx="555.8" cy="341.0" r="2.2"/>
<circle cx="556.0" cy="332.4" r="2.2"/>
<circle cx="556.2" cy="323.4" r="2.2"/>
<circle cx="556.3" cy="314.1" r="2.2"/>
<circle cx="556.5" cy="304.3" r="2.2"/>
<circle cx="556.7" cy="294.2" r="2.2"/>
<circle cx="556.9" cy="283.5" r="2.2"/>
<circle cx="562.2" cy="386.1" r="2.2"/>
<circle cx="562.4" cy="379.6" r="2.2"/>
<circle cx="562.7" cy="372.8" r="2.2"/>
<circle cx="562.9" cy="365.9" r="2.2"/>
<circle cx="563.2" cy="358.7" r="2.2"/>
<circle cx="563.5" cy="351.2" r="2.2"/>
<circle cx="563.8" cy="343.4" r="2.2"/>
<circle cx="564.1" cy="335.4" r="2.2"/>
<circle cx="564.4" cy="327.0" r="2.2"/>
<circle cx="564.7" cy="318.3" r="2.2"/>
<circle cx="565.1" cy="309.3" r="2.2"/>
<circle cx="565.4" cy="299.8" r="2.2"/>
<circle cx="565.8" cy="290.0" r="2.2"/>
<circle cx="566.2" cy="279.8" r="2.2"/>
<circle cx="569.0" cy="379.8" r="2.2"/>
<circle cx="569.4" cy="373.4" r="2.2"/>
<circle cx="569.7" cy="366.8" r="2.2"/>
<circle cx="570.1" cy="360.0" r="2.2"/>
<circle cx="570.5" cy="352.9" r="2.2"/>
<circle cx="570.9" cy="345.6" r="2.2"/>
<circle cx="571.3" cy="338.1" r="2.2"/>
<circle cx="571.7" cy="330.2" r="2.2"/>
<circle cx="572.2" cy="322.1" r="2.2"/>
<circle cx="572.6" cy="313.6" r="2.2"/>
<circle cx="573.1" cy="304.9" r="2.2"/>
<circle cx="573.6" cy="295.7" r="2.2"/>
<circle cx="574.1" cy="286.2" r="2.2"/>
<circle cx="574.6" cy="276.4" r="2.2"/>
<circle cx="575.4" cy="373.9" r="2.2"/>
<circle cx="575.8" cy="367.7" r="2.2"/>
<circle cx="576.3" cy="361.2" r="2.2"/>
<circle cx="576.7" cy="354.5" r="2.2"/>
<circle cx="577.2" cy="347.6" r="2.2"/>
<circle cx="577.7" cy="340.5" r="2.2"/>
<circle cx="578.2" cy="333.1" r="2.2"/>
<circle cx="578.8" cy="325.4" r="2.2"/>
<circle cx="579.3" cy="317.5" r="2.2"/>
<circle cx="579.9" cy="309.3" r="2.2"/>
<circle cx="580.5" cy="300.8" r="2.2"/>
<circle cx="581.1" cy="291.9" r="2.2"/>
<circle cx="581.8" cy="282.8" r="2.2"/>
<circle cx="582.4" cy="273.2" r="2.2"/>
<circle cx="581.4" cy="368.4" r="2.2"/>
<circle cx="581.9" cy="362.3" r="2.2"/>
<circle cx="582.4" cy="355.9" r="2.2"/>
<circle cx="583.0" cy="349.4" r="2.2"/>
<circle cx="583.5" cy="342.6" r="2.2"/>
<circle cx="584.1" cy="335.6" r="2.2"/>
<circle cx="584.7" cy="328.4" r="2.2"/>
<circle cx="585.3" cy="321.0" r="2.2"/>
<circle cx="586.0" cy="313.3" r="2.2"/>
<circle cx="586.7" cy="305.3" r="2.2"/>
<circle cx="587.4" cy="297.0" r="2.2"/>
<circle cx="588.1" cy="288.4" r="2.2"/>
<circle cx="588.8" cy="279.5" r="2.2"/>
<circle cx="589.6" cy="270.3" r="2.2"/>
<circle cx="587.0" cy="363.3" r="2.2"/>
<circle cx="587.6" cy="357.2" r="2.2"/>
<circle cx="588.2" cy="351.0" r="2.2"/>
<circle cx="588.8" cy="344.6" r="2.2"/>
<circle cx="589.4" cy="338.0" r="2.2"/>
<circle cx="590.1" cy="331.2" r="2.2"/>
<circle cx="590.8" cy="324.1" r="2.2"/>
<circle cx="591.5" cy="316.8" r="2.2"/>
<circle cx="592.2" cy="309.3" r="2.2"/>
<circle cx="592.9" cy="301.6" r="2.2"/>
<circle cx="593.7" cy="293.5" r="2.2"/>
<circle cx="594.5" cy="285.2" r="2.2"/>
<circle cx="595.4" cy="276.6" r="2.2"/>
<circle cx="596.2" cy="267.6" r="2.2"/>
<circle cx="592.3" cy="358.4" r="2.2"/>
<circle cx="592.9" cy="352.5" r="2.2"/>
<circle cx="593.6" cy="346.4" r="2.2"/>
<circle cx="594.2" cy="340.1" r="2.2"/>
<circle cx="594.9" cy="333.6" r="2.2"/>
<circle cx="595.7" cy="326.9" r="2.2"/>
<circle cx="596.4" cy="320.1" r="2.2"/>
<circle cx="597.2" cy="313.0" r="2.2"/>
<circle cx="598.0" cy="305.6" r="2.2"/>
<circle cx="598.8" cy="298.1" r="2.2"/>
<circle cx="599.6" cy="290.3" r="2.2"/>
<circle cx="600.5" cy="282.2" r="2.2"/>
<circle cx="601.4" cy="273.8" r="2.2"/>
<circle cx="602.4" cy="265.1" r="2.2"/>
<circle cx="597.2" cy="353.8" r="2.2"/>
<circle cx="597.9" cy="348.0" r="2.2"/>
<circle cx="598.6" cy="342.0" r="2.2"/>
<circle cx="599.4" cy="335.9" r="2.2"/>
<circle cx="600.1" cy="329.5" r="2.2"/>
<circle cx="600.9" cy="323.0" r="2.2"/>
<circle cx="601.7" cy="316.3" r="2.2"/>
<circle cx="602.5" cy="309.3" r="2.2"/>
<circle cx="603.4" cy="302.2" r="2.2"/>
<circle cx="604.3" cy="294.8" r="2.2"/>
<circle cx="605.2" cy="287.2" r="2.2"/>
<circle cx="606.1" cy="279.4" r="2.2"/>
<circle cx="607.1" cy="271.2" r="2.2"/>
<circle cx="608.1" cy="262.8" r="2.2"/>
<circle cx="545.7" cy="411.6" r="2.2"/>
<circle cx="545.7" cy="404.7" r="2.2"/>
<circle cx="545.6" cy="397.5" r="2.2"/>
<circle cx="545.6" cy="390.0" r="2.2"/>
<circle cx="545.5" cy="382.2" r="2.2"/>
<circle cx="545.5" cy="374.1" r="2.2"/>
<circle cx="545.4" cy="365.7" r="2.2"/>
<circle cx="545.4" cy="356.8" r="2.2"/>
<circle cx="545.3" cy="347.6" r="2.2"/>
<circle cx="545.3" cy="337.9" r="2.2"/>
<circle cx="545.2" cy="327.8" r="2.2"/>
<circle cx="545.1" cy="317.2" r="2.2"/>
<circle cx="545.1" cy="306.1" r="2.2"/>
<circle cx="545.0" cy="294.4" r="2.2"/>
<circle cx="554.1" cy="403.5" r="2.2"/>
<circle cx="554.2" cy="396.7" r="2.2"/>
<circle cx="554.3" cy="389.7" r="2.2"/>
<circle cx="554.4" cy="382.3" r="2.2"/>
<circle cx="554.5" cy="374.7" r="2.2"/>
<circle cx="554.7" cy="366.8" r="2.2"/>
<circle cx="554.8" cy="358.5" r="2.2"/>
<circle cx="555.0" cy="349.9" r="2.2"/>
<circle cx="555.1" cy="341.0" r="2.2"/>
<circle cx="555.3" cy="331.6" r="2.2"/>
<circle cx="555.4" cy="321.8" r="2.2"/>
<circle cx="555.6" cy="311.6" r="2.2"/>
<circle cx="555.8" cy="300.9" r="2.2"/>
<circle cx="556.0" cy="289.6" r="2.2"/>
<circle cx="561.8" cy="396.0" r="2.2"/>
<circle cx="562.0" cy="389.4" r="2.2"/>
<circle cx="562.3" cy="382.4" r="2.2"/>
<circle cx="562.6" cy="375.3" r="2.2"/>
<circle cx="562.9" cy="367.8" r="2.2"/>
<circle cx="563.1" cy="360.1" r="2.2"/>
<circle cx="563.4" cy="352.0" r="2.2"/>
<circle cx="563.8" cy="343.6" r="2.2"/>
<circle cx="564.1" cy="334.9" r="2.2"/>
<circle cx="564.4" cy="325.8" r="2.2"/>
<circle cx="564.8" cy="316.4" r="2.2"/>
<circle cx="565.1" cy="306.5" r="2.2"/>
<circle cx="565.5" cy="296.2" r="2.2"/>
<circle cx="565.9" cy="285.3" r="2.2"/>
<circle cx="569.0" cy="389.1" r="2.2"/>
<circle cx="569.4" cy="382.5" r="2.2"/>
<circle cx="569.7" cy="375.7" r="2.2"/>
<circle cx="570.1" cy="368.7" r="2.2"/>
<circle cx="570.5" cy="361.4" r="2.2"/>
<circle cx="570.9" cy="353.9" r="2.2"/>
<circle cx="571.4" cy="346.0" r="2.2"/>
<circle cx="571.8" cy="337.9" r="2.2"/>
<circle cx="572.3" cy="329.4" r="2.2"/>
<circle cx="572.8" cy="320.6" r="2.2"/>
<circle cx="573.3" cy="311.4" r="2.2"/>
<circle cx="573.8" cy="301.8" r="2.2"/>
<circle cx="574.4" cy="291.8" r="2.2"/>
<circle cx="575.0" cy="281.4" r="2.2"/>
<circle cx="575.7" cy="382.6" r="2.2"/>
<circle cx="576.1" cy="376.2" r="2.2"/>
<circle cx="576.6" cy="369.5" r="2.2"/>
<circle cx="577.1" cy="362.6" r="2.2"/>
<circle cx="577.6" cy="355.5" r="2.2"/>
<circle cx="578.2" cy="348.1" r="2.2"/>
<circle cx="578.7" cy="340.4" r="2.2"/>
<circle cx="579.3" cy="332.5" r="2.2"/>
<circle cx="579.9" cy="324.3" r="2.2"/>
<circle cx="580.5" cy="315.7" r="2.2"/>
<circle cx="581.2" cy="306.8" r="2.2"/>
<circle cx="581.8" cy="297.5" r="2.2"/>
<circle cx="582.5" cy="287.9" r="2.2"/>
<circle cx="583.2" cy="277.9" r="2.2"/>
<circle cx="581.9" cy="376.5" r="2.2"/>
<circle cx="582.5" cy="370.2" r="2.2"/>
<circle cx="583.1" cy="363.7" r="2.2"/>
<circle cx="583.6" cy="357.0" r="2.2"/>
<circle cx="584.3" cy="350.0" r="2.2"/>
<circle cx="584.9" cy="342.8" r="2.2"/>
<circle cx="585.5" cy="335.3" r="2.2"/>
<circle cx="586.2" cy="327.6" r="2.2"/>
<circle cx="586.9" cy="319.5" r="2.2"/>
<circle cx="587.6" cy="311.2" r="2.2"/>
<circle cx="588.4" cy="302.6" r="2.2"/>
<circle cx="589.2" cy="293.6" r="2.2"/>
<circle cx="590.0" cy="284.3" r="2.2"/>
<circle cx="590.8" cy="274.6" r="2.2"/>
<circle cx="587.8" cy="370.9" r="2.2"/>
<circle cx="588.4" cy="364.7" r="2.2"/>
<circle cx="589.1" cy="358.3" r="2.2"/>
<circle cx="589.7" cy="351.7" r="2.2"/>
<circle cx="590.4" cy="344.8" r="2.2"/>
<circle cx="591.1" cy="337.8" r="2.2"/>
<circle cx="591.9" cy="330.5" r="2.2"/>
<circle cx="592.6" cy="323.0" r="2.2"/>
<circle cx="593.4" cy="315.1" r="2.2"/>
<circle cx="594.2" cy="307.1" r="2.2"/>
<circle cx="595.1" cy="298.7" r="2.2"/>
<circle cx="595.9" cy="290.0" r="2.2"/>
<circle cx="596.8" cy="281.0" r="2.2"/>
<circle cx="597.8" cy="271.6" r="2.2"/>
<circle cx="593.3" cy="365.6" r="2.2"/>
<circle cx="594.0" cy="359.5" r="2.2"/>
<circle cx="594.7" cy="353.2" r="2.2"/>
<circle cx="595.4" cy="346.7" r="2.2"/>
<circle cx="596.2" cy="340.0" r="2.2"/>
<circle cx="596.9" cy="333.2" r="2.2"/>
<circle cx="597.8" cy="326.0" r="2.2"/>
<circle cx="598.6" cy="318.7" r="2.2"/>
<circle cx="599.4" cy="311.1" r="2.2"/>
<circle cx="600.3" cy="303.2" r="2.2"/>
<circle cx="601.3" cy="295.1" r="2.2"/>
<circle cx="602.2" cy="286.6" r="2.2"/>
<circle cx="603.2" cy="277.9" r="2.2"/>
<circle cx="604.2" cy="268.8" r="2.2"/>
<circle cx="598.4" cy="360.6" r="2.2"/>
<circle cx="599.2" cy="354.6" r="2.2"/>
<circle cx="600.0" cy="348.4" r="2.2"/>
<circle cx="600.7" cy="342.1" r="2.2"/>
<circle cx="601.6" cy="335.6" r="2.2"/>
<circle cx="602.4" cy="328.8" r="2.2"/>
<circle cx="603.3" cy="321.9" r="2.2"/>
<circle cx="604.2" cy="314.7" r="2.2"/>
<circle cx="605.1" cy="307.3" r="2.2"/>
<circle cx="606.0" cy="299.6" r="2.2"/>
<circle cx="607.0" cy="291.7" r="2.2"/>
<circle cx="608.0" cy="283.5" r="2.2"/>
<circle cx="609.1" cy="275.0" r="2.2"/>
<circle cx="610.2" cy="266.2" r="2.2"/>
<circle cx="603.3" cy="355.9" r="2.2"/>
<circle cx="604.1" cy="350.0" r="2.2"/>
<circle cx="604.9" cy="344.0" r="2.2"/>
<circle cx="605.7" cy="337.7" r="2.2"/>
<circle cx="606.6" cy="331.3" r="2.2"/>
<circle cx="607.5" cy="324.8" r="2.2"/>
<circle cx="608.4" cy="318.0" r="2.2"/>
<circle cx="609.4" cy="311.0" r="2.2"/>
<circle cx="610.3" cy="303.7" r="2.2"/>
<circle cx="611.3" cy="296.3" r="2.2"/>
<circle cx="612.4" cy="288.6" r="2.2"/>
<circle cx="613.4" cy="280.6" r="2.2"/>
<circle cx="614.6" cy="272.4" r="2.2"/>
<circle cx="615.7" cy="263.8" r="2.2"/>
<circle cx="553.2" cy="415.5" r="2.2"/>
<circle cx="553.3" cy="408.5" r="2.2"/>
<circle cx="553.4" cy="401.3" r="2.2"/>
<circle cx="553.5" cy="393.7" r="2.2"/>
<circle cx="553.6" cy="385.9" r="2.2"/>
<circle cx="553.7" cy="377.7" r="2.2"/>
<circle cx="553.9" cy="369.1" r="2.2"/>
<circle cx="554.0" cy="360.2" r="2.2"/>
<circle cx="554.1" cy="350.8" r="2.2"/>
<circle cx="554.3" cy="341.0" r="2.2"/>
<circle cx="554.4" cy="330.7" r="2.2"/>
<circle cx="554.6" cy="320.0" r="2.2"/>
<circle cx="554.8" cy="308.6" r="2.2"/>
<circle cx="554.9" cy="296.7" r="2.2"/>
<circle cx="561.4" cy="407.1" r="2.2"/>
<circle cx="561.6" cy="400.3" r="2.2"/>
<circle cx="561.9" cy="393.2" r="2.2"/>
<circle cx="562.2" cy="385.8" r="2.2"/>
<circle cx="562.5" cy="378.1" r="2.2"/>
<circle cx="562.8" cy="370.1" r="2.2"/>
<circle cx="563.1" cy="361.7" r="2.2"/>
<circle cx="563.4" cy="353.0" r="2.2"/>
<circle cx="563.7" cy="343.9" r="2.2"/>
<circle cx="564.1" cy="334.4" r="2.2"/>
<circle cx="564.5" cy="324.5" r="2.2"/>
<circle cx="564.8" cy="314.1" r="2.2"/>
<circle cx="565.3" cy="303.2" r="2.2"/>
<circle cx="565.7" cy="291.7" r="2.2"/>
<circle cx="569.0" cy="399.4" r="2.2"/>
<circle cx="569.3" cy="392.7" r="2.2"/>
<circle cx="569.7" cy="385.7" r="2.2"/>
<circle cx="570.2" cy="378.4" r="2.2"/>
<circle cx="570.6" cy="370.9" r="2.2"/>
<circle cx="571.0" cy="363.1" r="2.2"/>
<circle cx="571.5" cy="354.9" r="2.2"/>
<circle cx="572.0" cy="346.4" r="2.2"/>
<circle cx="572.5" cy="337.6" r="2.2"/>
<circle cx="573.0" cy="328.4" r="2.2"/>
<circle cx="573.6" cy="318.8" r="2.2"/>
<circle cx="574.1" cy="308.7" r="2.2"/>
<circle cx="574.8" cy="298.2" r="2.2"/>
<circle cx="575.4" cy="287.2" r="2.2"/>
<circle cx="576.0" cy="392.2" r="2.2"/>
<circle cx="576.5" cy="385.6" r="2.2"/>
<circle cx="577.0" cy="378.7" r="2.2"/>
<circle cx="577.6" cy="371.6" r="2.2"/>
<circle cx="578.1" cy="364.3" r="2.2"/>
<circle cx="578.7" cy="356.6" r="2.2"/>
<circle cx="579.3" cy="348.7" r="2.2"/>
<circle cx="579.9" cy="340.4" r="2.2"/>
<circle cx="580.5" cy="331.8" r="2.2"/>
<circle cx="581.2" cy="322.9" r="2.2"/>
<circle cx="581.9" cy="313.6" r="2.2"/>
<circle cx="582.6" cy="303.9" r="2.2"/>
<circle cx="583.4" cy="293.7" r="2.2"/>
<circle cx="584.2" cy="283.2" r="2.2"/>
<circle cx="582.6" cy="385.5" r="2.2"/>
<circle cx="583.2" cy="379.0" r="2.2"/>
<circle cx="583.8" cy="372.3" r="2.2"/>
<circle cx="584.4" cy="365.3" r="2.2"/>
<circle cx="585.1" cy="358.1" r="2.2"/>
<circle cx="585.7" cy="350.7" r="2.2"/>
<circle cx="586.4" cy="342.9" r="2.2"/>
<circle cx="587.2" cy="334.9" r="2.2"/>
<circle cx="587.9" cy="326.5" r="2.2"/>
<circle cx="588.7" cy="317.9" r="2.2"/>
<circle cx="589.5" cy="308.8" r="2.2"/>
<circle cx="590.4" cy="299.4" r="2.2"/>
<circle cx="591.3" cy="289.6" r="2.2"/>
<circle cx="592.2" cy="279.4" r="2.2"/>
<circle cx="588.7" cy="379.3" r="2.2"/>
<circle cx="589.4" cy="372.9" r="2.2"/>
<circle cx="590.1" cy="366.3" r="2.2"/>
<circle cx="590.8" cy="359.5" r="2.2"/>
<circle cx="591.5" cy="352.4" r="2.2"/>
<circle cx="592.3" cy="345.1" r="2.2"/>
<circle cx="593.1" cy="337.6" r="2.2"/>
<circle cx="593.9" cy="329.8" r="2.2"/>
<circle cx="594.8" cy="321.6" r="2.2"/>
<circle cx="595.6" cy="313.2" r="2.2"/>
<circle cx="596.6" cy="304.4" r="2.2"/>
<circle cx="597.5" cy="295.3" r="2.2"/>
<circle cx="598.5" cy="285.9" r="2.2"/>
<circle cx="599.5" cy="276.0" r="2.2"/>
<circle cx="594.4" cy="373.4" r="2.2"/>
<circle cx="595.2" cy="367.2" r="2.2"/>
<circle cx="595.9" cy="360.7" r="2.2"/>
<circle cx="596.7" cy="354.0" r="2.2"/>
<circle cx="597.5" cy="347.1" r="2.2"/>
<circle cx="598.4" cy="340.0" r="2.2"/>
<circle cx="599.2" cy="332.6" r="2.2"/>
<circle cx="600.1" cy="325.0" r="2.2"/>
<circle cx="601.1" cy="317.1" r="2.2"/>
<circle cx="602.0" cy="308.9" r="2.2"/>
<circle cx="603.0" cy="300.4" r="2.2"/>
<circle cx="604.1" cy="291.6" r="2.2"/>
<circle cx="605.2" cy="282.4" r="2.2"/>
<circle cx="606.3" cy="272.9" r="2.2"/>
<circle cx="599.8" cy="367.9" r="2.2"/>
<circle cx="600.6" cy="361.8" r="2.2"/>
<circle cx="601.4" cy="355.5" r="2.2"/>
<circle cx="602.3" cy="348.9" r="2.2"/>
<circle cx="603.1" cy="342.2" r="2.2"/>
<circle cx="604.0" cy="335.2" r="2.2"/>
<circle cx="605.0" cy="328.0" r="2.2"/>
<circle cx="605.9" cy="320.6" r="2.2"/>
<circle cx="606.9" cy="312.9" r="2.2"/>
<circle cx="608.0" cy="304.9" r="2.2"/>
<circle cx="609.0" cy="296.7" r="2.2"/>
<circle cx="610.2" cy="288.1" r="2.2"/>
<circle cx="611.3" cy="279.2" r="2.2"/>
<circle cx="612.5" cy="270.0" r="2.2"/>
<circle cx="604.8" cy="362.8" r="2.2"/>
<circle cx="605.7" cy="356.8" r="2.2"/>
<circle cx="606.5" cy="350.6" r="2.2"/>
<circle cx="607.4" cy="344.2" r="2.2"/>
<circle cx="608.4" cy="337.6" r="2.2"/>
<circle cx="609.3" cy="330.8" r="2.2"/>
<circle cx="610.3" cy="323.7" r="2.2"/>
<circle cx="611.3" cy="316.5" r="2.2"/>
<circle cx="612.4" cy="309.0" r="2.2"/>
<circle cx="613.5" cy="301.2" r="2.2"/>
<circle cx="614.6" cy="293.2" r="2.2"/>
<circle cx="615.8" cy="284.9" r="2.2"/>
<circle cx="617.0" cy="276.3" r="2.2"/>
<circle cx="618.2" cy="267.4" r="2.2"/>
<circle cx="609.6" cy="358.0" r="2.2"/>
<circle cx="610.4" cy="352.1" r="2.2"/>
<circle cx="611.4" cy="346.0" r="2.2"/>
<circle cx="612.3" cy="339.7" r="2.2"/>
<circle cx="613.3" cy="333.2" r="2.2"/>
<circle cx="614.3" cy="326.6" r="2.2"/>
<circle cx="615.3" cy="319.7" r="2.2"/>
<circle cx="616.4" cy="312.6" r="2.2"/>
<circle cx="617.5" cy="305.3" r="2.2"/>
<circle cx="618.6" cy="297.7" r="2.2"/>
<circle cx="619.8" cy="289.9" r="2.2"/>
<circle cx="621.0" cy="281.9" r="2.2"/>
<circle cx="622.3" cy="273.5" r="2.2"/>
<circle cx="623.6" cy="264.9" r="2.2"/>
<circle cx="560.9" cy="419.6" r="2.2"/>
<circle cx="561.1" cy="412.5" r="2.2"/>
<circle cx="561.4" cy="405.2" r="2.2"/>
<circle cx="561.7" cy="397.6" r="2.2"/>
<circle cx="562.0" cy="389.7" r="2.2"/>
<circle cx="562.3" cy="381.4" r="2.2"/>
<circle cx="562.6" cy="372.7" r="2.2"/>
<circle cx="563.0" cy="363.7" r="2.2"/>
<circle cx="563.3" cy="354.2" r="2.2"/>
<circle cx="563.7" cy="344.2" r="2.2"/>
<circle cx="564.1" cy="333.8" r="2.2"/>
<circle cx="564.5" cy="322.8" r="2.2"/>
<circle cx="564.9" cy="311.3" r="2.2"/>
<circle cx="565.4" cy="299.1" r="2.2"/>
<circle cx="568.9" cy="410.9" r="2.2"/>
<circle cx="569.3" cy="404.0" r="2.2"/>
<circle cx="569.8" cy="396.8" r="2.2"/>
<circle cx="570.2" cy="389.3" r="2.2"/>
<circle cx="570.7" cy="381.5" r="2.2"/>
<circle cx="571.1" cy="373.4" r="2.2"/>
<circle cx="571.6" cy="365.0" r="2.2"/>
<circle cx="572.2" cy="356.2" r="2.2"/>
<circle cx="572.7" cy="347.0" r="2.2"/>
<circle cx="573.3" cy="337.3" r="2.2"/>
<circle cx="573.9" cy="327.2" r="2.2"/>
<circle cx="574.5" cy="316.7" r="2.2"/>
<circle cx="575.1" cy="305.6" r="2.2"/>
<circle cx="575.8" cy="293.9" r="2.2"/>
<circle cx="576.4" cy="402.8" r="2.2"/>
<circle cx="576.9" cy="396.1" r="2.2"/>
<circle cx="577.5" cy="389.0" r="2.2"/>
<circle cx="578.0" cy="381.7" r="2.2"/>
<circle cx="578.6" cy="374.1" r="2.2"/>
<circle cx="579.2" cy="366.2" r="2.2"/>
<circle cx="579.9" cy="357.9" r="2.2"/>
<circle cx="580.6" cy="349.4" r="2.2"/>
<circle cx="581.3" cy="340.4" r="2.2"/>
<circle cx="582.0" cy="331.1" r="2.2"/>
<circle cx="582.7" cy="321.3" r="2.2"/>
<circle cx="583.5" cy="311.1" r="2.2"/>
<circle cx="584.4" cy="300.4" r="2.2"/>
<circle cx="585.3" cy="289.2" r="2.2"/>
<circle cx="583.3" cy="395.4" r="2.2"/>
<circle cx="583.9" cy="388.7" r="2.2"/>
<circle cx="584.6" cy="381.8" r="2.2"/>
<circle cx="585.2" cy="374.7" r="2.2"/>
<circle cx="586.0" cy="367.2" r="2.2"/>
<circle cx="586.7" cy="359.5" r="2.2"/>
<circle cx="587.5" cy="351.5" r="2.2"/>
<circle cx="588.3" cy="343.1" r="2.2"/>
<circle cx="589.1" cy="334.4" r="2.2"/>
<circle cx="589.9" cy="325.3" r="2.2"/>
<circle cx="590.8" cy="315.9" r="2.2"/>
<circle cx="591.8" cy="306.0" r="2.2"/>
<circle cx="592.8" cy="295.7" r="2.2"/>
<circle cx="593.8" cy="284.9" r="2.2"/>
<circle cx="589.7" cy="388.5" r="2.2"/>
<circle cx="590.4" cy="381.9" r="2.2"/>
<circle cx="591.2" cy="375.2" r="2.2"/>
<circle cx="591.9" cy="368.1" r="2.2"/>
<circle cx="592.7" cy="360.9" r="2.2"/>
<circle cx="593.6" cy="353.3" r="2.2"/>
<circle cx="594.4" cy="345.5" r="2.2"/>
<circle cx="595.3" cy="337.3" r="2.2"/>
<circle cx="596.3" cy="328.9" r="2.2"/>
<circle cx="597.2" cy="320.1" r="2.2"/>
<circle cx="598.2" cy="310.9" r="2.2"/>
<circle cx="599.3" cy="301.4" r="2.2"/>
<circle cx="600.4" cy="291.4" r="2.2"/>
<circle cx="601.5" cy="281.1" r="2.2"/>
<circle cx="595.7" cy="382.0" r="2.2"/>
<circle cx="596.5" cy="375.6" r="2.2"/>
<circle cx="597.3" cy="369.0" r="2.2"/>
<circle cx="598.1" cy="362.1" r="2.2"/>
<circle cx="599.0" cy="355.0" r="2.2"/>
<circle cx="599.9" cy="347.6" r="2.2"/>
<circle cx="600.9" cy="340.0" r="2.2"/>
<circle cx="601.9" cy="332.0" r="2.2"/>
<circle cx="602.9" cy="323.8" r="2.2"/>
<circle cx="603.9" cy="315.3" r="2.2"/>
<circle cx="605.0" cy="306.4" r="2.2"/>
<circle cx="606.2" cy="297.1" r="2.2"/>
<circle cx="607.4" cy="287.5" r="2.2"/>
<circle cx="608.6" cy="277.5" r="2.2"/>
<circle cx="601.2" cy="376.0" r="2.2"/>
<circle cx="602.1" cy="369.7" r="2.2"/>
<circle cx="603.0" cy="363.2" r="2.2"/>
<circle cx="603.9" cy="356.5" r="2.2"/>
<circle cx="604.9" cy="349.5" r="2.2"/>
<circle cx="605.8" cy="342.3" r="2.2"/>
<circle cx="606.9" cy="334.8" r="2.2"/>
<circle cx="607.9" cy="327.1" r="2.2"/>
<circle cx="609.0" cy="319.1" r="2.2"/>
<circle cx="610.1" cy="310.8" r="2.2"/>
<circle cx="611.3" cy="302.2" r="2.2"/>
<circle cx="612.5" cy="293.2" r="2.2"/>
<circle cx="613.8" cy="283.9" r="2.2"/>
<circle cx="615.1" cy="274.3" r="2.2"/>
<circle cx="606.5" cy="370.4" r="2.2"/>
<circle cx="607.4" cy="364.2" r="2.2"/>
<circle cx="608.3" cy="357.8" r="2.2"/>
<circle cx="609.3" cy="351.2" r="2.2"/>
<circle cx="610.3" cy="344.4" r="2.2"/>
<circle cx="611.3" cy="337.4" r="2.2"/>
<circle cx="612.4" cy="330.1" r="2.2"/>
<circle cx="613.5" cy="322.5" r="2.2"/>
<circle cx="614.7" cy="314.7" r="2.2"/>
<circle cx="615.9" cy="306.7" r="2.2"/>
<circle cx="617.1" cy="298.3" r="2.2"/>
<circle cx="618.4" cy="289.6" r="2.2"/>
<circle cx="619.7" cy="280.6" r="2.2"/>
<circle cx="621.1" cy="271.3" r="2.2"/>
<circle cx="611.4" cy="365.1" r="2.2"/>
<circle cx="612.3" cy="359.0" r="2.2"/>
<circle cx="613.3" cy="352.8" r="2.2"/>
<circle cx="614.3" cy="346.3" r="2.2"/>
<circle cx="615.4" cy="339.6" r="2.2"/>
<circle cx="616.5" cy="332.7" r="2.2"/>
<circle cx="617.6" cy="325.6" r="2.2"/>
<circle cx="618.8" cy="318.3" r="2.2"/>
<circle cx="620.0" cy="310.7" r="2.2"/>
<circle cx="621.2" cy="302.8" r="2.2"/>
<circle cx="622.5" cy="294.7" r="2.2"/>
<circle cx="623.8" cy="286.3" r="2.2"/>
<circle cx="625.2" cy="277.6" r="2.2"/>
<circle cx="626.6" cy="268.5" r="2.2"/>
<circle cx="616.0" cy="360.1" r="2.2"/>
<circle cx="617.0" cy="354.2" r="2.2"/>
<circle cx="618.0" cy="348.0" r="2.2"/>
<circle cx="619.1" cy="341.7" r="2.2"/>
<circle cx="620.2" cy="335.2" r="2.2"/>
<circle cx="621.3" cy="328.4" r="2.2"/>
<circle cx="622.4" cy="321.5" r="2.2"/>
<circle cx="623.6" cy="314.3" r="2.2"/>
<circle cx="624.9" cy="306.9" r="2.2"/>
<circle cx="626.2" cy="299.3" r="2.2"/>
<circle cx="627.5" cy="291.4" r="2.2"/>
<circle cx="628.8" cy="283.2" r="2.2"/>
<circle cx="630.3" cy="274.7" r="2.2"/>
<circle cx="631.7" cy="266.0" r="2.2"/>
<circle cx="568.9" cy="423.8" r="2.2"/>
<circle cx="569.3" cy="416.7" r="2.2"/>
<circle cx="569.8" cy="409.3" r="2.2"/>
<circle cx="570.3" cy="401.6" r="2.2"/>
<circle cx="570.7" cy="393.6" r="2.2"/>
<circle cx="571.3" cy="385.2" r="2.2"/>
<circle cx="571.8" cy="376.5" r="2.2"/>
<circle cx="572.4" cy="367.3" r="2.2"/>
<circle cx="572.9" cy="357.7" r="2.2"/>
<circle cx="573.6" cy="347.6" r="2.2"/>
<circle cx="574.2" cy="337.0" r="2.2"/>
<circle cx="574.9" cy="325.8" r="2.2"/>
<circle cx="575.6" cy="314.1" r="2.2"/>
<circle cx="576.4" cy="301.7" r="2.2"/>
<circle cx="576.8" cy="414.8" r="2.2"/>
<circle cx="577.4" cy="407.8" r="2.2"/>
<circle cx="577.9" cy="400.6" r="2.2"/>
<circle cx="578.6" cy="393.0" r="2.2"/>
<circle cx="579.2" cy="385.2" r="2.2"/>
<circle cx="579.9" cy="377.0" r="2.2"/>
<circle cx="580.6" cy="368.4" r="2.2"/>
<circle cx="581.3" cy="359.5" r="2.2"/>
<circle cx="582.1" cy="350.2" r="2.2"/>
<circle cx="582.9" cy="340.4" r="2.2"/>
<circle cx="583.7" cy="330.1" r="2.2"/>
<circle cx="584.6" cy="319.4" r="2.2"/>
<circle cx="585.5" cy="308.1" r="2.2"/>
<circle cx="586.5" cy="296.2" r="2.2"/>
<circle cx="584.1" cy="406.4" r="2.2"/>
<circle cx="584.7" cy="399.6" r="2.2"/>
<circle cx="585.5" cy="392.5" r="2.2"/>
<circle cx="586.2" cy="385.1" r="2.2"/>
<circle cx="587.0" cy="377.4" r="2.2"/>
<circle cx="587.8" cy="369.4" r="2.2"/>
<circle cx="588.6" cy="361.1" r="2.2"/>
<circle cx="589.5" cy="352.4" r="2.2"/>
<circle cx="590.4" cy="343.3" r="2.2"/>
<circle cx="591.3" cy="333.8" r="2.2"/>
<circle cx="592.3" cy="323.9" r="2.2"/>
<circle cx="593.4" cy="313.5" r="2.2"/>
<circle cx="594.5" cy="302.7" r="2.2"/>
<circle cx="595.6" cy="291.3" r="2.2"/>
<circle cx="590.8" cy="398.7" r="2.2"/>
<circle cx="591.6" cy="392.0" r="2.2"/>
<circle cx="592.4" cy="385.0" r="2.2"/>
<circle cx="593.2" cy="377.8" r="2.2"/>
<circle cx="594.1" cy="370.3" r="2.2"/>
<circle cx="595.0" cy="362.5" r="2.2"/>
<circle cx="596.0" cy="354.3" r="2.2"/>
<circle cx="596.9" cy="345.9" r="2.2"/>
<circle cx="598.0" cy="337.1" r="2.2"/>
<circle cx="599.0" cy="327.9" r="2.2"/>
<circle cx="600.2" cy="318.3" r="2.2"/>
<circle cx="601.3" cy="308.2" r="2.2"/>
<circle cx="602.5" cy="297.8" r="2.2"/>
<circle cx="603.8" cy="286.8" r="2.2"/>
<circle cx="597.0" cy="391.6" r="2.2"/>
<circle cx="597.9" cy="385.0" r="2.2"/>
<circle cx="598.8" cy="378.1" r="2.2"/>
<circle cx="599.7" cy="371.0" r="2.2"/>
<circle cx="600.7" cy="363.7" r="2.2"/>
<circle cx="601.7" cy="356.1" r="2.2"/>
<circle cx="602.7" cy="348.1" r="2.2"/>
<circle cx="603.8" cy="339.9" r="2.2"/>
<circle cx="604.9" cy="331.3" r="2.2"/>
<circle cx="606.1" cy="322.4" r="2.2"/>
<circle cx="607.3" cy="313.1" r="2.2"/>
<circle cx="608.6" cy="303.4" r="2.2"/>
<circle cx="609.9" cy="293.3" r="2.2"/>
<circle cx="611.3" cy="282.8" r="2.2"/>
<circle cx="602.9" cy="384.9" r="2.2"/>
<circle cx="603.8" cy="378.4" r="2.2"/>
<circle cx="604.7" cy="371.7" r="2.2"/>
<circle cx="605.7" cy="364.8" r="2.2"/>
<circle cx="606.8" cy="357.6" r="2.2"/>
<circle cx="607.9" cy="350.1" r="2.2"/>
<circle cx="609.0" cy="342.4" r="2.2"/>
<circle cx="610.1" cy="334.4" r="2.2"/>
<circle cx="611.3" cy="326.1" r="2.2"/>
<circle cx="612.6" cy="317.4" r="2.2"/>
<circle cx="613.9" cy="308.4" r="2.2"/>
<circle cx="615.2" cy="299.0" r="2.2"/>
<circle cx="616.6" cy="289.2" r="2.2"/>
<circle cx="618.1" cy="279.1" r="2.2"/>
<circle cx="608.3" cy="378.7" r="2.2"/>
<circle cx="609.3" cy="372.4" r="2.2"/>
<circle cx="610.3" cy="365.8" r="2.2"/>
<circle cx="611.3" cy="359.0" r="2.2"/>
<circle cx="612.4" cy="351.9" r="2.2"/>
<circle cx="613.6" cy="344.7" r="2.2"/>
<circle cx="614.7" cy="337.1" r="2.2"/>
<circle cx="616.0" cy="329.3" r="2.2"/>
<circle cx="617.2" cy="321.2" r="2.2"/>
<circle cx="618.5" cy="312.8" r="2.2"/>
<circle cx="619.9" cy="304.0" r="2.2"/>
<circle cx="621.3" cy="295.0" r="2.2"/>
<circle cx="622.8" cy="285.5" r="2.2"/>
<circle cx="624.3" cy="275.7" r="2.2"/>
<circle cx="613.4" cy="372.9" r="2.2"/>
<circle cx="614.4" cy="366.7" r="2.2"/>
<circle cx="615.5" cy="360.2" r="2.2"/>
<circle cx="616.6" cy="353.6" r="2.2"/>
<circle cx="617.7" cy="346.7" r="2.2"/>
<circle cx="618.9" cy="339.6" r="2.2"/>
<circle cx="620.1" cy="332.2" r="2.2"/>
<circle cx="621.4" cy="324.6" r="2.2"/>
<circle cx="622.7" cy="316.7" r="2.2"/>
<circle cx="624.0" cy="308.5" r="2.2"/>
<circle cx="625.5" cy="300.0" r="2.2"/>
<circle cx="626.9" cy="291.2" r="2.2"/>
<circle cx="628.4" cy="282.1" r="2.2"/>
<circle cx="630.0" cy="272.6" r="2.2"/>
<circle cx="618.1" cy="367.5" r="2.2"/>
<circle cx="619.2" cy="361.3" r="2.2"/>
<circle cx="620.3" cy="355.0" r="2.2"/>
<circle cx="621.4" cy="348.5" r="2.2"/>
<circle cx="622.6" cy="341.7" r="2.2"/>
<circle cx="623.8" cy="334.8" r="2.2"/>
<circle cx="625.1" cy="327.6" r="2.2"/>
<circle cx="626.4" cy="320.2" r="2.2"/>
<circle cx="627.8" cy="312.5" r="2.2"/>
<circle cx="629.2" cy="304.5" r="2.2"/>
<circle cx="630.6" cy="296.3" r="2.2"/>
<circle cx="632.1" cy="287.8" r="2.2"/>
<circle cx="633.7" cy="278.9" r="2.2"/>
<circle cx="635.3" cy="269.7" r="2.2"/>
<circle cx="622.6" cy="362.4" r="2.2"/>
<circle cx="623.7" cy="356.3" r="2.2"/>
<circle cx="624.8" cy="350.1" r="2.2"/>
<circle cx="626.0" cy="343.7" r="2.2"/>
<circle cx="627.2" cy="337.1" r="2.2"/>
<circle cx="628.5" cy="330.3" r="2.2"/>
<circle cx="629.8" cy="323.3" r="2.2"/>
<circle cx="631.1" cy="316.1" r="2.2"/>
<circle cx="632.5" cy="308.6" r="2.2"/>
<circle cx="633.9" cy="300.9" r="2.2"/>
<circle cx="635.4" cy="292.8" r="2.2"/>
<circle cx="636.9" cy="284.6" r="2.2"/>
<circle cx="638.5" cy="276.0" r="2.2"/>
<circle cx="640.2" cy="267.1" r="2.2"/>
<circle cx="577.2" cy="428.1" r="2.2"/>
<circle cx="577.9" cy="421.0" r="2.2"/>
<circle cx="578.5" cy="413.6" r="2.2"/>
<circle cx="579.2" cy="405.8" r="2.2"/>
<circle cx="579.9" cy="397.7" r="2.2"/>
<circle cx="580.6" cy="389.3" r="2.2"/>
<circle cx="581.4" cy="380.4" r="2.2"/>
<circle cx="582.2" cy="371.1" r="2.2"/>
<circle cx="583.0" cy="361.4" r="2.2"/>
<circle cx="583.9" cy="351.1" r="2.2"/>
<circle cx="584.8" cy="340.3" r="2.2"/>
<circle cx="585.8" cy="329.0" r="2.2"/>
<circle cx="586.9" cy="317.0" r="2.2"/>
<circle cx="588.0" cy="304.4" r="2.2"/>
<circle cx="584.9" cy="418.8" r="2.2"/>
<circle cx="585.7" cy="411.8" r="2.2"/>
<circle cx="586.5" cy="404.5" r="2.2"/>
<circle cx="587.3" cy="396.9" r="2.2"/>
<circle cx="588.1" cy="388.9" r="2.2"/>
<circle cx="589.0" cy="380.6" r="2.2"/>
<circle cx="589.9" cy="372.0" r="2.2"/>
<circle cx="590.9" cy="363.0" r="2.2"/>
<circle cx="591.9" cy="353.5" r="2.2"/>
<circle cx="592.9" cy="343.6" r="2.2"/>
<circle cx="594.0" cy="333.1" r="2.2"/>
<circle cx="595.2" cy="322.2" r="2.2"/>
<circle cx="596.4" cy="310.7" r="2.2"/>
<circle cx="597.7" cy="298.6" r="2.2"/>
<circle cx="592.0" cy="410.1" r="2.2"/>
<circle cx="592.9" cy="403.3" r="2.2"/>
<circle cx="593.8" cy="396.1" r="2.2"/>
<circle cx="594.7" cy="388.6" r="2.2"/>
<circle cx="595.6" cy="380.9" r="2.2"/>
<circle cx="596.6" cy="372.8" r="2.2"/>
<circle cx="597.7" cy="364.3" r="2.2"/>
<circle cx="598.8" cy="355.5" r="2.2"/>
<circle cx="599.9" cy="346.3" r="2.2"/>
<circle cx="601.1" cy="336.7" r="2.2"/>
<circle cx="602.3" cy="326.7" r="2.2"/>
<circle cx="603.6" cy="316.1" r="2.2"/>
<circle cx="605.0" cy="305.0" r="2.2"/>
<circle cx="606.4" cy="293.4" r="2.2"/>
<circle cx="598.6" cy="402.2" r="2.2"/>
<circle cx="599.5" cy="395.4" r="2.2"/>
<circle cx="600.5" cy="388.4" r="2.2"/>
<circle cx="601.5" cy="381.0" r="2.2"/>
<circle cx="602.5" cy="373.5" r="2.2"/>
<circle cx="603.6" cy="365.6" r="2.2"/>
<circle cx="604.8" cy="357.3" r="2.2"/>
<circle cx="606.0" cy="348.8" r="2.2"/>
<circle cx="607.2" cy="339.8" r="2.2"/>
<circle cx="608.5" cy="330.5" r="2.2"/>
<circle cx="609.9" cy="320.8" r="2.2"/>
<circle cx="611.3" cy="310.6" r="2.2"/>
<circle cx="612.8" cy="299.9" r="2.2"/>
<circle cx="614.3" cy="288.8" r="2.2"/>
<circle cx="604.6" cy="394.8" r="2.2"/>
<circle cx="605.6" cy="388.1" r="2.2"/>
<circle cx="606.7" cy="381.2" r="2.2"/>
<circle cx="607.8" cy="374.1" r="2.2"/>
<circle cx="608.9" cy="366.6" r="2.2"/>
<circle cx="610.1" cy="358.9" r="2.2"/>
<circle cx="611.3" cy="350.9" r="2.2"/>
<circle cx="612.6" cy="342.5" r="2.2"/>
<circle cx="613.9" cy="333.9" r="2.2"/>
<circle cx="615.3" cy="324.8" r="2.2"/>
<circle cx="616.7" cy="315.4" r="2.2"/>
<circle cx="618.2" cy="305.6" r="2.2"/>
<circle cx="619.8" cy="295.3" r="2.2"/>
<circle cx="621.4" cy="284.5" r="2.2"/>
<circle cx="610.3" cy="387.9" r="2.2"/>
<circle cx="611.4" cy="381.4" r="2.2"/>
<circle cx="612.5" cy="374.6" r="2.2"/>
<circle cx="613.6" cy="367.6" r="2.2"/>
<circle cx="614.8" cy="360.3" r="2.2"/>
<circle cx="616.1" cy="352.8" r="2.2"/>
<circle cx="617.3" cy="345.0" r="2.2"/>
<circle cx="618.7" cy="336.8" r="2.2"/>
<circle cx="620.1" cy="328.4" r="2.2"/>
<circle cx="621.5" cy="319.6" r="2.2"/>
<circle cx="623.0" cy="310.5" r="2.2"/>
<circle cx="624.6" cy="301.0" r="2.2"/>
<circle cx="626.2" cy="291.0" r="2.2"/>
<circle cx="627.9" cy="280.7" r="2.2"/>
<circle cx="615.5" cy="381.5" r="2.2"/>
<circle cx="616.7" cy="375.1" r="2.2"/>
<circle cx="617.8" cy="368.4" r="2.2"/>
<circle cx="619.0" cy="361.6" r="2.2"/>
<circle cx="620.3" cy="354.5" r="2.2"/>
<circle cx="621.6" cy="347.1" r="2.2"/>
<circle cx="622.9" cy="339.5" r="2.2"/>
<circle cx="624.3" cy="331.6" r="2.2"/>
<circle cx="625.7" cy="323.3" r="2.2"/>
<circle cx="627.2" cy="314.8" r="2.2"/>
<circle cx="628.8" cy="306.0" r="2.2"/>
<circle cx="630.4" cy="296.7" r="2.2"/>
<circle cx="632.1" cy="287.2" r="2.2"/>
<circle cx="633.8" cy="277.2" r="2.2"/>
<circle cx="620.4" cy="375.5" r="2.2"/>
<circle cx="621.6" cy="369.2" r="2.2"/>
<circle cx="622.8" cy="362.7" r="2.2"/>
<circle cx="624.1" cy="356.0" r="2.2"/>
<circle cx="625.4" cy="349.0" r="2.2"/>
<circle cx="626.7" cy="341.8" r="2.2"/>
<circle cx="628.1" cy="334.4" r="2.2"/>
<circle cx="629.5" cy="326.7" r="2.2"/>
<circle cx="631.0" cy="318.7" r="2.2"/>
<circle cx="632.5" cy="310.4" r="2.2"/>
<circle cx="634.1" cy="301.8" r="2.2"/>
<circle cx="635.8" cy="292.9" r="2.2"/>
<circle cx="637.5" cy="283.6" r="2.2"/>
<circle cx="639.3" cy="273.9" r="2.2"/>
<circle cx="625.1" cy="369.9" r="2.2"/>
<circle cx="626.3" cy="363.7" r="2.2"/>
<circle cx="627.5" cy="357.3" r="2.2"/>
<circle cx="628.8" cy="350.7" r="2.2"/>
<circle cx="630.1" cy="343.9" r="2.2"/>
<circle cx="631.5" cy="336.9" r="2.2"/>
<circle cx="632.9" cy="329.6" r="2.2"/>
<circle cx="634.3" cy="322.1" r="2.2"/>
<circle cx="635.8" cy="314.3" r="2.2"/>
<circle cx="637.4" cy="306.3" r="2.2"/>
<circle cx="639.0" cy="297.9" r="2.2"/>
<circle cx="640.7" cy="289.3" r="2.2"/>
<circle cx="642.4" cy="280.3" r="2.2"/>
<circle cx="644.3" cy="271.0" r="2.2"/>
<circle cx="629.4" cy="364.6" r="2.2"/>
<circle cx="630.6" cy="358.6" r="2.2"/>
<circle cx="631.9" cy="352.3" r="2.2"/>
<circle cx="633.2" cy="345.9" r="2.2"/>
<circle cx="634.5" cy="339.2" r="2.2"/>
<circle cx="635.9" cy="332.3" r="2.2"/>
<circle cx="637.3" cy="325.2" r="2.2"/>
<circle cx="638.8" cy="317.9" r="2.2"/>
<circle cx="640.4" cy="310.3" r="2.2"/>
<circle cx="641.9" cy="302.5" r="2.2"/>
<circle cx="643.6" cy="294.4" r="2.2"/>
<circle cx="645.3" cy="286.0" r="2.2"/>
<circle cx="647.0" cy="277.3" r="2.2"/>
<circle cx="648.9" cy="268.2" r="2.2"/>
<circle cx="585.9" cy="432.7" r="2.2"/>
<circle cx="586.7" cy="425.5" r="2.2"/>
<circle cx="587.6" cy="418.0" r="2.2"/>
<circle cx="588.5" cy="410.2" r="2.2"/>
<circle cx="589.4" cy="402.0" r="2.2"/>
<circle cx="590.4" cy="393.5" r="2.2"/>
<circle cx="591.4" cy="384.5" r="2.2"/>
<circle cx="592.5" cy="375.1" r="2.2"/>
<circle cx="593.6" cy="365.2" r="2.2"/>
<circle cx="594.8" cy="354.8" r="2.2"/>
<circle cx="596.0" cy="343.9" r="2.2"/>
<circle cx="597.3" cy="332.3" r="2.2"/>
<circle cx="598.7" cy="320.1" r="2.2"/>
<circle cx="600.2" cy="307.2" r="2.2"/>
<circle cx="593.4" cy="423.0" r="2.2"/>
<circle cx="594.3" cy="415.9" r="2.2"/>
<circle cx="595.3" cy="408.5" r="2.2"/>
<circle cx="596.3" cy="400.9" r="2.2"/>
<circle cx="597.4" cy="392.8" r="2.2"/>
<circle cx="598.5" cy="384.5" r="2.2"/>
<circle cx="599.6" cy="375.7" r="2.2"/>
<circle cx="600.8" cy="366.6" r="2.2"/>
<circle cx="602.1" cy="357.0" r="2.2"/>
<circle cx="603.4" cy="346.9" r="2.2"/>
<circle cx="604.8" cy="336.3" r="2.2"/>
<circle cx="606.3" cy="325.2" r="2.2"/>
<circle cx="607.9" cy="313.5" r="2.2"/>
<circle cx="609.5" cy="301.1" r="2.2"/>
<circle cx="600.3" cy="414.0" r="2.2"/>
<circle cx="601.3" cy="407.1" r="2.2"/>
<circle cx="602.4" cy="399.8" r="2.2"/>
<circle cx="603.5" cy="392.3" r="2.2"/>
<circle cx="604.6" cy="384.5" r="2.2"/>
<circle cx="605.9" cy="376.3" r="2.2"/>
<circle cx="607.1" cy="367.7" r="2.2"/>
<circle cx="608.4" cy="358.8" r="2.2"/>
<circle cx="609.8" cy="349.5" r="2.2"/>
<circle cx="611.3" cy="339.7" r="2.2"/>
<circle cx="612.8" cy="329.5" r="2.2"/>
<circle cx="614.4" cy="318.8" r="2.2"/>
<circle cx="616.1" cy="307.5" r="2.2"/>
<circle cx="617.8" cy="295.7" r="2.2"/>
<circle cx="606.6" cy="405.7" r="2.2"/>
<circle cx="607.7" cy="398.9" r="2.2"/>
<circle cx="608.9" cy="391.8" r="2.2"/>
<circle cx="610.1" cy="384.4" r="2.2"/>
<circle cx="611.3" cy="376.8" r="2.2"/>
<circle cx="612.6" cy="368.8" r="2.2"/>
<circle cx="614.0" cy="360.4" r="2.2"/>
<circle cx="615.4" cy="351.8" r="2.2"/>
<circle cx="616.8" cy="342.7" r="2.2"/>
<circle cx="618.4" cy="333.3" r="2.2"/>
<circle cx="620.0" cy="323.4" r="2.2"/>
<circle cx="621.7" cy="313.0" r="2.2"/>
<circle cx="623.4" cy="302.2" r="2.2"/>
<circle cx="625.3" cy="290.8" r="2.2"/>
<circle cx="612.5" cy="398.1" r="2.2"/>
<circle cx="613.7" cy="391.4" r="2.2"/>
<circle cx="614.9" cy="384.4" r="2.2"/>
<circle cx="616.1" cy="377.2" r="2.2"/>
<circle cx="617.5" cy="369.7" r="2.2"/>
<circle cx="618.8" cy="361.9" r="2.2"/>
<circle cx="620.2" cy="353.7" r="2.2"/>
<circle cx="621.7" cy="345.3" r="2.2"/>
<circle cx="623.3" cy="336.5" r="2.2"/>
<circle cx="624.9" cy="327.3" r="2.2"/>
<circle cx="626.5" cy="317.8" r="2.2"/>
<circle cx="628.3" cy="307.8" r="2.2"/>
<circle cx="630.1" cy="297.3" r="2.2"/>
<circle cx="632.0" cy="286.4" r="2.2"/>
<circle cx="617.9" cy="391.0" r="2.2"/>
<circle cx="619.2" cy="384.4" r="2.2"/>
<circle cx="620.4" cy="377.5" r="2.2"/>
<circle cx="621.8" cy="370.5" r="2.2"/>
<circle cx="623.1" cy="363.1" r="2.2"/>
<circle cx="624.5" cy="355.5" r="2.2"/>
<circle cx="626.0" cy="347.6" r="2.2"/>
<circle cx="627.6" cy="339.4" r="2.2"/>
<circle cx="629.1" cy="330.8" r="2.2"/>
<circle cx="630.8" cy="321.9" r="2.2"/>
<circle cx="632.5" cy="312.6" r="2.2"/>
<circle cx="634.3" cy="303.0" r="2.2"/>
<circle cx="636.2" cy="292.9" r="2.2"/>
<circle cx="638.2" cy="282.4" r="2.2"/>
<circle cx="623.0" cy="384.4" r="2.2"/>
<circle cx="624.3" cy="377.9" r="2.2"/>
<circle cx="625.6" cy="371.2" r="2.2"/>
<circle cx="627.0" cy="364.2" r="2.2"/>
<circle cx="628.4" cy="357.1" r="2.2"/>
<circle cx="629.8" cy="349.6" r="2.2"/>
<circle cx="631.4" cy="341.9" r="2.2"/>
<circle cx="632.9" cy="333.9" r="2.2"/>
<circle cx="634.6" cy="325.6" r="2.2"/>
<circle cx="636.3" cy="316.9" r="2.2"/>
<circle cx="638.0" cy="308.0" r="2.2"/>
<circle cx="639.8" cy="298.6" r="2.2"/>
<circle cx="641.8" cy="288.9" r="2.2"/>
<circle cx="643.8" cy="278.7" r="2.2"/>
<circle cx="627.8" cy="378.2" r="2.2"/>
<circle cx="629.1" cy="371.8" r="2.2"/>
<circle cx="630.4" cy="365.3" r="2.2"/>
<circle cx="631.8" cy="358.5" r="2.2"/>
<circle cx="633.3" cy="351.4" r="2.2"/>
<circle cx="634.7" cy="344.2" r="2.2"/>
<circle cx="636.3" cy="336.6" r="2.2"/>
<circle cx="637.9" cy="328.8" r="2.2"/>
<circle cx="639.6" cy="320.7" r="2.2"/>
<circle cx="641.3" cy="312.4" r="2.2"/>
<circle cx="643.1" cy="303.6" r="2.2"/>
<circle cx="644.9" cy="294.6" r="2.2"/>
<circle cx="646.9" cy="285.2" r="2.2"/>
<circle cx="648.9" cy="275.4" r="2.2"/>
<circle cx="632.2" cy="372.4" r="2.2"/>
<circle cx="633.5" cy="366.2" r="2.2"/>
<circle cx="634.9" cy="359.7" r="2.2"/>
<circle cx="636.3" cy="353.1" r="2.2"/>
<circle cx="637.8" cy="346.2" r="2.2"/>
<circle cx="639.3" cy="339.1" r="2.2"/>
<circle cx="640.9" cy="331.7" r="2.2"/>
<circle cx="642.5" cy="324.1" r="2.2"/>
<circle cx="644.2" cy="316.3" r="2.2"/>
<circle cx="645.9" cy="308.1" r="2.2"/>
<circle cx="647.7" cy="299.6" r="2.2"/>
<circle cx="649.6" cy="290.9" r="2.2"/>
<circle cx="651.6" cy="281.7" r="2.2"/>
<circle cx="653.6" cy="272.3" r="2.2"/>
<circle cx="636.4" cy="367.0" r="2.2"/>
<circle cx="637.7" cy="360.9" r="2.2"/>
<circle cx="639.1" cy="354.6" r="2.2"/>
<circle cx="640.5" cy="348.0" r="2.2"/>
<circle cx="642.0" cy="341.3" r="2.2"/>
<circle cx="643.6" cy="334.4" r="2.2"/>
<circle cx="645.1" cy="327.2" r="2.2"/>
<circle cx="646.8" cy="319.8" r="2.2"/>
<circle cx="648.5" cy="312.1" r="2.2"/>
<circle cx="650.2" cy="304.2" r="2.2"/>
<circle cx="652.1" cy="295.9" r="2.2"/>
<circle cx="653.9" cy="287.4" r="2.2"/>
<circle cx="655.9" cy="278.6" r="2.2"/>
<circle cx="657.9" cy="269.4" r="2.2"/>
<circle cx="594.9" cy="437.4" r="2.2"/>
<circle cx="596.0" cy="430.2" r="2.2"/>
<circle cx="597.1" cy="422.7" r="2.2"/>
<circle cx="598.2" cy="414.8" r="2.2"/>
<circle cx="599.4" cy="406.5" r="2.2"/>
<circle cx="600.6" cy="397.9" r="2.2"/>
<circle cx="601.9" cy="388.8" r="2.2"/>
<circle cx="603.2" cy="379.3" r="2.2"/>
<circle cx="604.7" cy="369.3" r="2.2"/>
<circle cx="606.2" cy="358.7" r="2.2"/>
<circle cx="607.8" cy="347.6" r="2.2"/>
<circle cx="609.4" cy="335.8" r="2.2"/>
<circle cx="611.2" cy="323.4" r="2.2"/>
<circle cx="613.1" cy="310.2" r="2.2"/>
<circle cx="602.2" cy="427.3" r="2.2"/>
<circle cx="603.3" cy="420.2" r="2.2"/>
<circle cx="604.5" cy="412.8" r="2.2"/>
<circle cx="605.7" cy="405.0" r="2.2"/>
<circle cx="607.0" cy="396.9" r="2.2"/>
<circle cx="608.4" cy="388.5" r="2.2"/>
<circle cx="609.8" cy="379.6" r="2.2"/>
<circle cx="611.3" cy="370.3" r="2.2"/>
<circle cx="612.8" cy="360.6" r="2.2"/>
<circle cx="614.5" cy="350.4" r="2.2"/>
<circle cx="616.2" cy="339.6" r="2.2"/>
<circle cx="618.0" cy="328.3" r="2.2"/>
<circle cx="619.9" cy="316.4" r="2.2"/>
<circle cx="621.9" cy="303.8" r="2.2"/>
<circle cx="608.8" cy="418.0" r="2.2"/>
<circle cx="610.1" cy="411.0" r="2.2"/>
<circle cx="611.3" cy="403.7" r="2.2"/>
<circle cx="612.7" cy="396.1" r="2.2"/>
<circle cx="614.0" cy="388.2" r="2.2"/>
<circle cx="615.5" cy="379.9" r="2.2"/>
<circle cx="617.0" cy="371.3" r="2.2"/>
<circle cx="618.6" cy="362.3" r="2.2"/>
<circle cx="620.2" cy="352.8" r="2.2"/>
<circle cx="621.9" cy="342.9" r="2.2"/>
<circle cx="623.7" cy="332.5" r="2.2"/>
<circle cx="625.6" cy="321.6" r="2.2"/>
<circle cx="627.6" cy="310.1" r="2.2"/>
<circle cx="629.8" cy="298.1" r="2.2"/>
<circle cx="615.0" cy="409.4" r="2.2"/>
<circle cx="616.2" cy="402.5" r="2.2"/>
<circle cx="617.6" cy="395.4" r="2.2"/>
<circle cx="619.0" cy="387.9" r="2.2"/>
<circle cx="620.4" cy="380.2" r="2.2"/>
<circle cx="622.0" cy="372.1" r="2.2"/>
<circle cx="623.5" cy="363.7" r="2.2"/>
<circle cx="625.2" cy="354.9" r="2.2"/>
<circle cx="626.9" cy="345.7" r="2.2"/>
<circle cx="628.7" cy="336.1" r="2.2"/>
<circle cx="630.6" cy="326.1" r="2.2"/>
<circle cx="632.5" cy="315.6" r="2.2"/>
<circle cx="634.6" cy="304.5" r="2.2"/>
<circle cx="636.8" cy="292.9" r="2.2"/>
<circle cx="620.6" cy="401.5" r="2.2"/>
<circle cx="622.0" cy="394.7" r="2.2"/>
<circle cx="623.4" cy="387.7" r="2.2"/>
<circle cx="624.8" cy="380.4" r="2.2"/>
<circle cx="626.3" cy="372.8" r="2.2"/>
<circle cx="627.9" cy="364.9" r="2.2"/>
<circle cx="629.5" cy="356.7" r="2.2"/>
<circle cx="631.2" cy="348.2" r="2.2"/>
<circle cx="633.0" cy="339.3" r="2.2"/>
<circle cx="634.8" cy="330.0" r="2.2"/>
<circle cx="636.8" cy="320.2" r="2.2"/>
<circle cx="638.8" cy="310.1" r="2.2"/>
<circle cx="640.9" cy="299.4" r="2.2"/>
<circle cx="643.1" cy="288.3" r="2.2"/>
<circle cx="625.9" cy="394.2" r="2.2"/>
<circle cx="627.3" cy="387.5" r="2.2"/>
<circle cx="628.7" cy="380.6" r="2.2"/>
<circle cx="630.2" cy="373.5" r="2.2"/>
<circle cx="631.7" cy="366.0" r="2.2"/>
<circle cx="633.4" cy="358.3" r="2.2"/>
<circle cx="635.0" cy="350.3" r="2.2"/>
<circle cx="636.8" cy="342.0" r="2.2"/>
<circle cx="638.6" cy="333.3" r="2.2"/>
<circle cx="640.5" cy="324.3" r="2.2"/>
<circle cx="642.4" cy="314.9" r="2.2"/>
<circle cx="644.5" cy="305.1" r="2.2"/>
<circle cx="646.6" cy="294.8" r="2.2"/>
<circle cx="648.9" cy="284.1" r="2.2"/>
<circle cx="630.8" cy="387.3" r="2.2"/>
<circle cx="632.2" cy="380.8" r="2.2"/>
<circle cx="633.7" cy="374.0" r="2.2"/>
<circle cx="635.2" cy="367.0" r="2.2"/>
<circle cx="636.8" cy="359.8" r="2.2"/>
<circle cx="638.4" cy="352.2" r="2.2"/>
<circle cx="640.1" cy="344.4" r="2.2"/>
<circle cx="641.9" cy="336.3" r="2.2"/>
<circle cx="643.7" cy="327.9" r="2.2"/>
<circle cx="645.6" cy="319.1" r="2.2"/>
<circle cx="647.6" cy="310.0" r="2.2"/>
<circle cx="649.7" cy="300.5" r="2.2"/>
<circle cx="651.8" cy="290.6" r="2.2"/>
<circle cx="654.1" cy="280.3" r="2.2"/>
<circle cx="635.3" cy="380.9" r="2.2"/>
<circle cx="636.8" cy="374.5" r="2.2"/>
<circle cx="638.3" cy="367.9" r="2.2"/>
<circle cx="639.8" cy="361.0" r="2.2"/>
<circle cx="641.4" cy="353.9" r="2.2"/>
<circle cx="643.1" cy="346.6" r="2.2"/>
<circle cx="644.8" cy="339.0" r="2.2"/>
<circle cx="646.6" cy="331.1" r="2.2"/>
<circle cx="648.4" cy="322.9" r="2.2"/>
<circle cx="650.4" cy="314.4" r="2.2"/>
<circle cx="652.4" cy="305.5" r="2.2"/>
<circle cx="654.4" cy="296.3" r="2.2"/>
<circle cx="656.6" cy="286.8" r="2.2"/>
<circle cx="658.9" cy="276.8" r="2.2"/>
<circle cx="639.6" cy="375.0" r="2.2"/>
<circle cx="641.0" cy="368.7" r="2.2"/>
<circle cx="642.5" cy="362.2" r="2.2"/>
<circle cx="644.1" cy="355.5" r="2.2"/>
<circle cx="645.7" cy="348.5" r="2.2"/>
<circle cx="647.4" cy="341.4" r="2.2"/>
<circle cx="649.2" cy="333.9" r="2.2"/>
<circle cx="651.0" cy="326.2" r="2.2"/>
<circle cx="652.8" cy="318.3" r="2.2"/>
<circle cx="654.7" cy="310.0" r="2.2"/>
<circle cx="656.8" cy="301.4" r="2.2"/>
<circle cx="658.8" cy="292.5" r="2.2"/>
<circle cx="661.0" cy="283.2" r="2.2"/>
<circle cx="663.2" cy="273.6" r="2.2"/>
<circle cx="643.5" cy="369.4" r="2.2"/>
<circle cx="645.0" cy="363.2" r="2.2"/>
<circle cx="646.6" cy="356.9" r="2.2"/>
<circle cx="648.1" cy="350.3" r="2.2"/>
<circle cx="649.8" cy="343.5" r="2.2"/>
<circle cx="651.5" cy="336.5" r="2.2"/>
<circle cx="653.2" cy="329.2" r="2.2"/>
<circle cx="655.0" cy="321.7" r="2.2"/>
<circle cx="656.9" cy="314.0" r="2.2"/>
<circle cx="658.8" cy="305.9" r="2.2"/>
<circle cx="660.8" cy="297.6" r="2.2"/>
<circle cx="662.9" cy="288.9" r="2.2"/>
<circle cx="665.0" cy="280.0" r="2.2"/>
<circle cx="667.3" cy="270.7" r="2.2"/>
<circle cx="604.4" cy="442.4" r="2.2"/>
<circle cx="605.6" cy="435.1" r="2.2"/>
<circle cx="606.9" cy="427.5" r="2.2"/>
<circle cx="608.3" cy="419.6" r="2.2"/>
<circle cx="609.8" cy="411.2" r="2.2"/>
<circle cx="611.3" cy="402.5" r="2.2"/>
<circle cx="612.9" cy="393.3" r="2.2"/>
<circle cx="614.6" cy="383.7" r="2.2"/>
<circle cx="616.3" cy="373.5" r="2.2"/>
<circle cx="618.2" cy="362.8" r="2.2"/>
<circle cx="620.1" cy="351.5" r="2.2"/>
<circle cx="622.2" cy="339.5" r="2.2"/>
<circle cx="624.4" cy="326.8" r="2.2"/>
<circle cx="626.8" cy="313.4" r="2.2"/>
<circle cx="611.3" cy="431.8" r="2.2"/>
<circle cx="612.7" cy="424.7" r="2.2"/>
<circle cx="614.1" cy="417.2" r="2.2"/>
<circle cx="615.6" cy="409.4" r="2.2"/>
<circle cx="617.1" cy="401.2" r="2.2"/>
<circle cx="618.7" cy="392.7" r="2.2"/>
<circle cx="620.4" cy="383.7" r="2.2"/>
<circle cx="622.2" cy="374.3" r="2.2"/>
<circle cx="624.1" cy="364.4" r="2.2"/>
<circle cx="626.0" cy="354.1" r="2.2"/>
<circle cx="628.1" cy="343.1" r="2.2"/>
<circle cx="630.3" cy="331.6" r="2.2"/>
<circle cx="632.6" cy="319.5" r="2.2"/>
<circle cx="635.0" cy="306.6" r="2.2"/>
<circle cx="617.7" cy="422.2" r="2.2"/>
<circle cx="619.2" cy="415.1" r="2.2"/>
<circle cx="620.6" cy="407.7" r="2.2"/>
<circle cx="622.2" cy="400.1" r="2.2"/>
<circle cx="623.8" cy="392.1" r="2.2"/>
<circle cx="625.5" cy="383.7" r="2.2"/>
<circle cx="627.3" cy="375.0" r="2.2"/>
<circle cx="629.1" cy="365.8" r="2.2"/>
<circle cx="631.1" cy="356.3" r="2.2"/>
<circle cx="633.1" cy="346.2" r="2.2"/>
<circle cx="635.2" cy="335.7" r="2.2"/>
<circle cx="637.5" cy="324.6" r="2.2"/>
<circle cx="639.8" cy="312.9" r="2.2"/>
<circle cx="642.3" cy="300.6" r="2.2"/>
<circle cx="623.6" cy="413.3" r="2.2"/>
<circle cx="625.1" cy="406.3" r="2.2"/>
<circle cx="626.6" cy="399.1" r="2.2"/>
<circle cx="628.2" cy="391.6" r="2.2"/>
<circle cx="629.9" cy="383.7" r="2.2"/>
<circle cx="631.7" cy="375.6" r="2.2"/>
<circle cx="633.5" cy="367.1" r="2.2"/>
<circle cx="635.4" cy="358.2" r="2.2"/>
<circle cx="637.4" cy="348.9" r="2.2"/>
<circle cx="639.5" cy="339.1" r="2.2"/>
<circle cx="641.6" cy="328.9" r="2.2"/>
<circle cx="643.9" cy="318.2" r="2.2"/>
<circle cx="646.3" cy="307.0" r="2.2"/>
<circle cx="648.9" cy="295.2" r="2.2"/>
<circle cx="629.0" cy="405.0" r="2.2"/>
<circle cx="630.6" cy="398.2" r="2.2"/>
<circle cx="632.2" cy="391.1" r="2.2"/>
<circle cx="633.8" cy="383.8" r="2.2"/>
<circle cx="635.5" cy="376.1" r="2.2"/>
<circle cx="637.3" cy="368.1" r="2.2"/>
<circle cx="639.2" cy="359.8" r="2.2"/>
<circle cx="641.1" cy="351.2" r="2.2"/>
<circle cx="643.1" cy="342.1" r="2.2"/>
<circle cx="645.2" cy="332.7" r="2.2"/>
<circle cx="647.5" cy="322.8" r="2.2"/>
<circle cx="649.8" cy="312.5" r="2.2"/>
<circle cx="652.2" cy="301.7" r="2.2"/>
<circle cx="654.7" cy="290.3" r="2.2"/>
<circle cx="634.1" cy="397.4" r="2.2"/>
<circle cx="635.6" cy="390.7" r="2.2"/>
<circle cx="637.2" cy="383.8" r="2.2"/>
<circle cx="638.9" cy="376.6" r="2.2"/>
<circle cx="640.7" cy="369.1" r="2.2"/>
<circle cx="642.5" cy="361.3" r="2.2"/>
<circle cx="644.4" cy="353.2" r="2.2"/>
<circle cx="646.3" cy="344.7" r="2.2"/>
<circle cx="648.4" cy="336.0" r="2.2"/>
<circle cx="650.5" cy="326.8" r="2.2"/>
<circle cx="652.7" cy="317.3" r="2.2"/>
<circle cx="655.1" cy="307.3" r="2.2"/>
<circle cx="657.5" cy="296.9" r="2.2"/>
<circle cx="660.0" cy="286.0" r="2.2"/>
<circle cx="638.7" cy="390.4" r="2.2"/>
<circle cx="640.3" cy="383.8" r="2.2"/>
<circle cx="642.0" cy="377.0" r="2.2"/>
<circle cx="643.7" cy="369.9" r="2.2"/>
<circle cx="645.4" cy="362.6" r="2.2"/>
<circle cx="647.3" cy="355.0" r="2.2"/>
<circle cx="649.2" cy="347.1" r="2.2"/>
<circle cx="651.2" cy="338.8" r="2.2"/>
<circle cx="653.2" cy="330.3" r="2.2"/>
<circle cx="655.4" cy="321.4" r="2.2"/>
<circle cx="657.6" cy="312.2" r="2.2"/>
<circle cx="659.9" cy="302.5" r="2.2"/>
<circle cx="662.3" cy="292.5" r="2.2"/>
<circle cx="664.9" cy="282.0" r="2.2"/>
<circle cx="643.1" cy="383.8" r="2.2"/>
<circle cx="644.7" cy="377.3" r="2.2"/>
<circle cx="646.4" cy="370.6" r="2.2"/>
<circle cx="648.1" cy="363.7" r="2.2"/>
<circle cx="649.9" cy="356.5" r="2.2"/>
<circle cx="651.7" cy="349.1" r="2.2"/>
<circle cx="653.6" cy="341.4" r="2.2"/>
<circle cx="655.6" cy="333.4" r="2.2"/>
<circle cx="657.7" cy="325.1" r="2.2"/>
<circle cx="659.8" cy="316.5" r="2.2"/>
<circle cx="662.0" cy="307.5" r="2.2"/>
<circle cx="664.3" cy="298.2" r="2.2"/>
<circle cx="666.7" cy="288.5" r="2.2"/>
<circle cx="669.3" cy="278.3" r="2.2"/>
<circle cx="647.1" cy="377.7" r="2.2"/>
<circle cx="648.8" cy="371.3" r="2.2"/>
<circle cx="650.4" cy="364.7" r="2.2"/>
<circle cx="652.2" cy="358.0" r="2.2"/>
<circle cx="654.0" cy="350.9" r="2.2"/>
<circle cx="655.8" cy="343.7" r="2.2"/>
<circle cx="657.7" cy="336.2" r="2.2"/>
<circle cx="659.7" cy="328.4" r="2.2"/>
<circle cx="661.8" cy="320.3" r="2.2"/>
<circle cx="663.9" cy="311.9" r="2.2"/>
<circle cx="666.1" cy="303.2" r="2.2"/>
<circle cx="668.4" cy="294.2" r="2.2"/>
<circle cx="670.8" cy="284.8" r="2.2"/>
<circle cx="673.3" cy="275.0" r="2.2"/>
<circle cx="650.9" cy="371.9" r="2.2"/>
<circle cx="652.6" cy="365.7" r="2.2"/>
<circle cx="654.2" cy="359.2" r="2.2"/>
<circle cx="656.0" cy="352.6" r="2.2"/>
<circle cx="657.8" cy="345.7" r="2.2"/>
<circle cx="659.6" cy="338.6" r="2.2"/>
<circle cx="661.5" cy="331.3" r="2.2"/>
<circle cx="663.5" cy="323.7" r="2.2"/>
<circle cx="665.6" cy="315.9" r="2.2"/>
<circle cx="667.7" cy="307.7" r="2.2"/>
<circle cx="669.9" cy="299.3" r="2.2"/>
<circle cx="672.2" cy="290.5" r="2.2"/>
<circle cx="674.5" cy="281.4" r="2.2"/>
<circle cx="677.0" cy="272.0" r="2.2"/>
</g>
<g fill="#e8454a" fill-opacity="0.30">
<circle cx="635.9" cy="309.6" r="2.15"/>
<circle cx="630.3" cy="313.3" r="2.15"/>
<circle cx="624.9" cy="317.5" r="2.15"/>
<circle cx="620.9" cy="321.6" r="2.15"/>
<circle cx="617.4" cy="323.9" r="2.15"/>
<circle cx="624.6" cy="324.6" r="2.15"/>
<circle cx="621.3" cy="326.4" r="2.15"/>
<circle cx="633.7" cy="323.9" r="2.15"/>
<circle cx="635.9" cy="324.6" r="2.15"/>
<circle cx="626.1" cy="326.6" r="2.15"/>
<circle cx="632.2" cy="326.9" r="2.15"/>
<circle cx="620.9" cy="329.9" r="2.15"/>
<circle cx="634.4" cy="329.4" r="2.15"/>
<circle cx="637.9" cy="330.6" r="2.15"/>
<circle cx="607.3" cy="334" r="2.15"/>
<circle cx="617.8" cy="335.2" r="2.15"/>
<circle cx="614.1" cy="338.5" r="2.15"/>
<circle cx="630.6" cy="333.7" r="2.15"/>
<circle cx="634.7" cy="336.2" r="2.15"/>
<circle cx="630.6" cy="337.4" r="2.15"/>
<circle cx="622.8" cy="337.9" r="2.15"/>
<circle cx="624.6" cy="343.4" r="2.15"/>
<circle cx="626.1" cy="346.5" r="2.15"/>
<circle cx="627.6" cy="347.2" r="2.15"/>
<circle cx="632.2" cy="346.9" r="2.15"/>
<circle cx="629.9" cy="350.2" r="2.15"/>
<circle cx="619.4" cy="350.2" r="2.15"/>
<circle cx="631.4" cy="357.4" r="2.15"/>
<circle cx="544.9" cy="358.5" r="2.15"/>
<circle cx="558.5" cy="361.4" r="2.15"/>
<circle cx="558.1" cy="367" r="2.15"/>
<circle cx="563" cy="368.6" r="2.15"/>
<circle cx="544.9" cy="367.3" r="2.15"/>
<circle cx="550.5" cy="367.6" r="2.15"/>
<circle cx="551.3" cy="372.9" r="2.15"/>
<circle cx="568.2" cy="372.9" r="2.15"/>
<circle cx="567.9" cy="376.1" r="2.15"/>
<circle cx="573.8" cy="376.6" r="2.15"/>
<circle cx="580.7" cy="376.6" r="2.15"/>
<circle cx="585" cy="379.8" r="2.15"/>
<circle cx="587.4" cy="381.4" r="2.15"/>
<circle cx="593.1" cy="380.1" r="2.15"/>
<circle cx="593.1" cy="377.7" r="2.15"/>
<circle cx="559.3" cy="379.8" r="2.15"/>
<circle cx="564.2" cy="384.2" r="2.15"/>
<circle cx="566.6" cy="386.6" r="2.15"/>
<circle cx="571.1" cy="386.9" r="2.15"/>
<circle cx="576.2" cy="391.1" r="2.15"/>
<circle cx="566.9" cy="392.2" r="2.15"/>
<circle cx="575.4" cy="395.9" r="2.15"/>
<circle cx="584.2" cy="389" r="2.15"/>
<circle cx="594.7" cy="386.6" r="2.15"/>
<circle cx="594.2" cy="395.4" r="2.15"/>
<circle cx="598.7" cy="361.7" r="2.15"/>
<circle cx="605.9" cy="363.3" r="2.15"/>
<circle cx="599.5" cy="367.3" r="2.15"/>
<circle cx="604.3" cy="368.1" r="2.15"/>
<circle cx="609.9" cy="368.9" r="2.15"/>
<circle cx="601.9" cy="374.5" r="2.15"/>
<circle cx="609.1" cy="380.1" r="2.15"/>
<circle cx="614.7" cy="375.3" r="2.15"/>
<circle cx="616.4" cy="376.9" r="2.15"/>
<circle cx="620.4" cy="371.3" r="2.15"/>
<circle cx="620.4" cy="381" r="2.15"/>
<circle cx="614.7" cy="381.8" r="2.15"/>
<circle cx="604.3" cy="389.8" r="2.15"/>
<circle cx="609.1" cy="386.9" r="2.15"/>
<circle cx="597.9" cy="391.1" r="2.15"/>
<circle cx="622.8" cy="344.8" r="2.15"/>
<circle cx="626" cy="346.4" r="2.15"/>
</g>
<polyline points="633.4,302.8 631.8,311.8 630.2,320.1 628.8,328.1 627.6,335.9 622.2,341.2 621,348.9 619.9,356.1 618.8,363.8 613.1,369.4 607.2,376.1 601.1,383 593.9,390.6 585.5,386.9 577.5,383.4 569.8,379.8 562.1,376.9 554.8,373.7 547.6,370.5 540.6,367.6 540.6,374.5 532.5,381.1" fill="none" stroke="#2a8a3a" stroke-width="0.9"/>
<circle cx="633.4" cy="302.8" r="2.25" fill="#137a2e"/>
<circle cx="631.8" cy="311.8" r="2.25" fill="#137a2e"/>
<circle cx="630.2" cy="320.1" r="2.25" fill="#137a2e"/>
<circle cx="628.8" cy="328.1" r="2.25" fill="#137a2e"/>
<circle cx="627.6" cy="335.9" r="2.25" fill="#137a2e"/>
<circle cx="622.2" cy="341.2" r="2.25" fill="#137a2e"/>
<circle cx="621" cy="348.9" r="2.25" fill="#137a2e"/>
<circle cx="619.9" cy="356.1" r="2.25" fill="#137a2e"/>
<circle cx="618.8" cy="363.8" r="2.25" fill="#137a2e"/>
<circle cx="613.1" cy="369.4" r="2.25" fill="#137a2e"/>
<circle cx="607.2" cy="376.1" r="2.25" fill="#137a2e"/>
<circle cx="601.1" cy="383" r="2.25" fill="#137a2e"/>
<circle cx="593.9" cy="390.6" r="2.25" fill="#137a2e"/>
<circle cx="585.5" cy="386.9" r="2.25" fill="#137a2e"/>
<circle cx="577.5" cy="383.4" r="2.25" fill="#137a2e"/>
<circle cx="569.8" cy="379.8" r="2.25" fill="#137a2e"/>
<circle cx="562.1" cy="376.9" r="2.25" fill="#137a2e"/>
<circle cx="554.8" cy="373.7" r="2.25" fill="#137a2e"/>
<circle cx="547.6" cy="370.5" r="2.25" fill="#137a2e"/>
<circle cx="540.6" cy="367.6" r="2.25" fill="#137a2e"/>
<circle cx="540.6" cy="374.5" r="2.25" fill="#137a2e"/>
<circle cx="532.5" cy="381.1" r="2.25" fill="#137a2e"/>
<text x="483.7" y="279" font-size="8.2" text-anchor="end">10</text>
<text x="486.6" y="313.3" font-size="8.2" text-anchor="end">5</text>
<text x="492" y="345.8" font-size="8.2" text-anchor="end">0</text>
<text x="495.6" y="372.9" font-size="8.2" text-anchor="end">-5</text>
<text x="500.4" y="399.1" font-size="8.2" text-anchor="end">-10</text>
<text x="516.7" y="410.5" font-size="8.2" text-anchor="middle">-5</text>
<text x="542.4" y="424.5" font-size="8.2" text-anchor="middle">0</text>
<text x="572.2" y="439.1" font-size="8.2" text-anchor="middle">5</text>
<text x="599.9" y="455.3" font-size="8.2" text-anchor="middle">10</text>
<text x="611.6" y="455.3" font-size="8.2" text-anchor="middle">-10</text>
<text x="626.8" y="433.3" font-size="8.2" text-anchor="middle">-5</text>
<text x="638.8" y="412.9" font-size="8.2" text-anchor="middle">0</text>
<text x="650.4" y="395.3" font-size="8.2" text-anchor="middle">5</text>
<text x="659.8" y="380.7" font-size="8.2" text-anchor="middle">10</text>
<text x="478.5" y="359.7" font-size="12.5" text-anchor="middle">X3</text>
<text x="517.6" y="443" font-size="12.5" text-anchor="middle">X1</text>
<text x="653.4" y="433.8" font-size="12.5" text-anchor="middle">X2</text>
<rect x="590.1" y="255.2" width="95" height="37" fill="rgba(255,255,255,0.85)"/>
<circle cx="601.1" cy="260" r="2.9" fill="#dc4a32"/>
<circle cx="601.1" cy="272.4" r="2.9" fill="#808080"/>
<line x1="593" y1="285.1" x2="609.2" y2="285.1" stroke="#2a9a3c" stroke-width="1.6"/>
<circle cx="601.1" cy="285.1" r="2.9" fill="#2a9a3c"/>
<text x="611.8" y="263.7" font-size="10.0" text-anchor="start" textLength="48.78" lengthAdjust="spacingAndGlyphs">Actual data</text>
<text x="611.8" y="276.2" font-size="10.0" text-anchor="start" textLength="66.13" lengthAdjust="spacingAndGlyphs">Searched node</text>
<text x="611.8" y="287.6" font-size="10.0" text-anchor="start" textLength="55.27" lengthAdjust="spacingAndGlyphs">Optimal path</text>
<text x="638.1" y="305.9" font-size="9.8" text-anchor="start">Initial</text>
<text x="513" y="395.3" font-size="9.7" text-anchor="start">Destination</text>
</svg>
</body></html>
